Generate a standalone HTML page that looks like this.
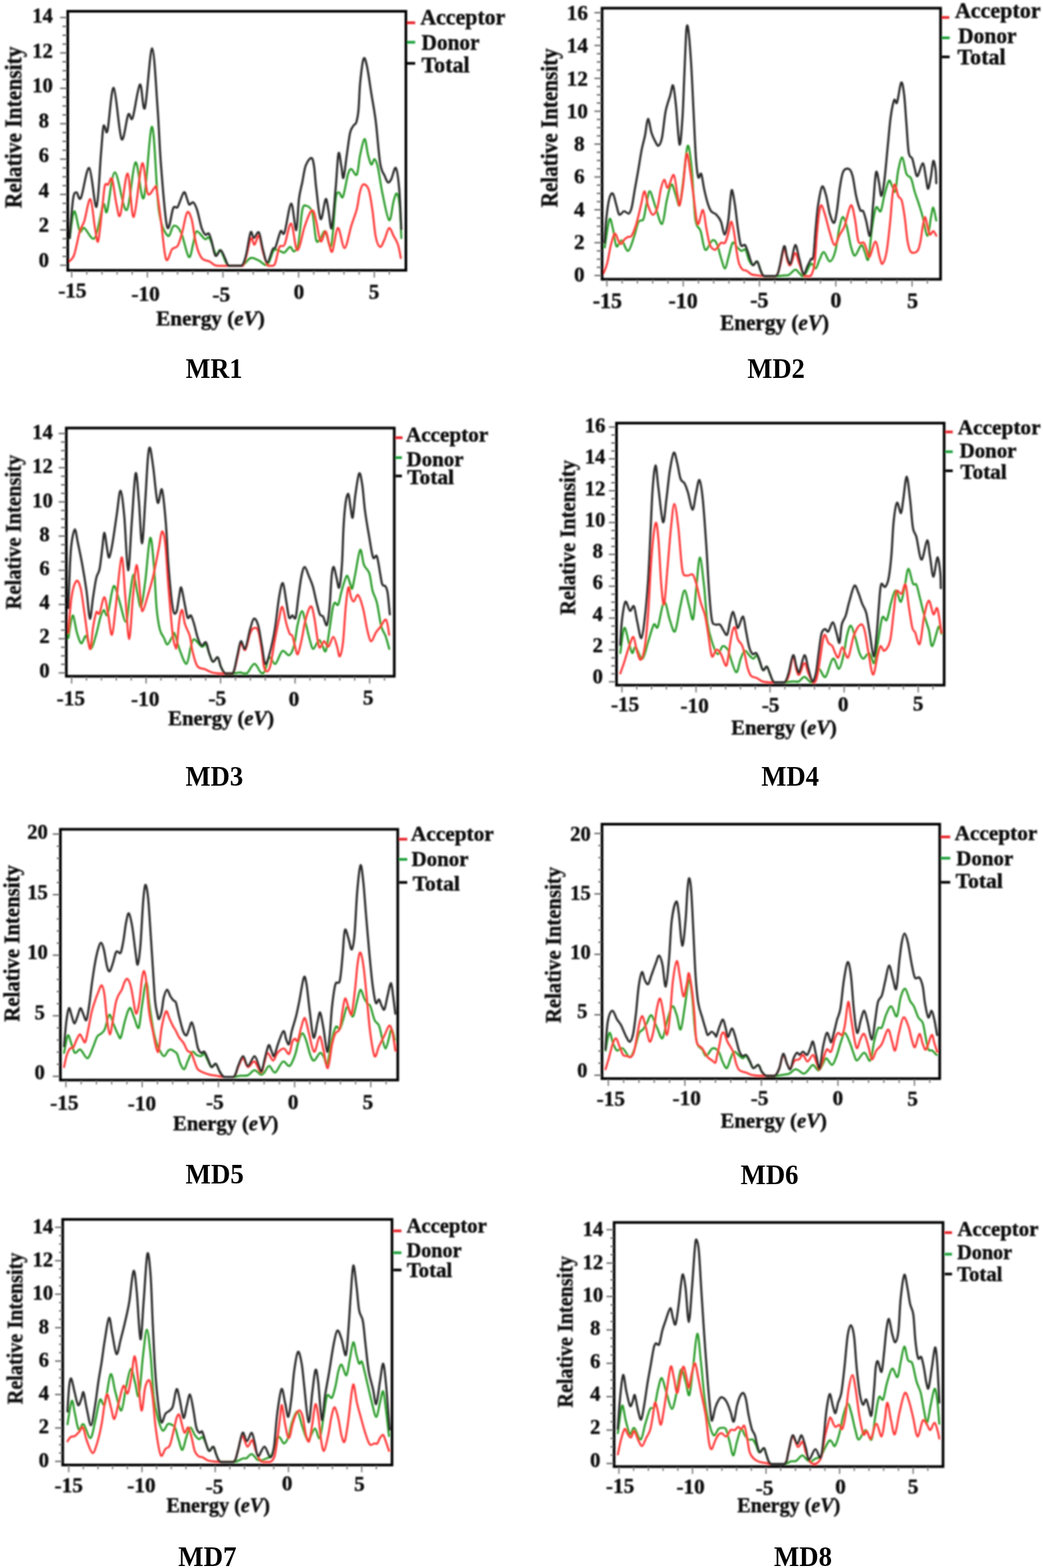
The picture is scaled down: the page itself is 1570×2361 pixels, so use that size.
<!DOCTYPE html>
<html><head><meta charset="utf-8"><title>DOS plots</title>
<style>
html,body{margin:0;padding:0;background:#fff;}
body{width:1570px;height:2361px;overflow:hidden;}
svg{display:block;}
text{font-family:"Liberation Serif","Times New Roman",serif;font-weight:bold;fill:#111;stroke:#111;stroke-width:0.6px;}
text.cap{fill:#000;stroke:none;}
</style></head><body>
<svg width="1570" height="2361" viewBox="0 0 1570 2361">
<defs><filter id="soft" x="-5%" y="-5%" width="110%" height="110%"><feGaussianBlur stdDeviation="1.0"/></filter></defs>
<rect width="1570" height="2361" fill="#fff"/>
<g filter="url(#soft)"><path d="M105.0,358.4 C106.1,351.7 109.2,319.9 111.7,318.2 C114.2,316.5 117.6,344.1 120.1,348.3 C122.6,352.5 123.0,341.6 126.8,343.3 C130.6,345.0 137.9,364.3 142.7,358.4 C147.4,352.5 152.2,314.8 155.3,308.1 C158.4,301.4 158.2,326.3 161.1,318.2 C164.0,310.1 168.0,259.9 172.9,259.6 C177.8,259.3 185.3,319.0 190.5,316.5 C195.7,314.0 199.6,247.6 203.9,244.5 C208.2,241.4 212.2,307.0 216.4,298.1 C220.6,289.2 225.2,187.8 229.0,190.9 C232.8,194.0 235.1,289.1 239.0,316.5 C242.9,343.9 248.6,351.1 252.4,355.0 C256.2,358.9 258.2,340.8 261.6,340.0 C265.0,339.2 268.7,342.2 272.5,350.0 C276.3,357.8 281.1,384.1 284.2,386.9 C287.3,389.7 288.9,373.2 290.9,366.8 C292.8,360.4 293.0,349.4 295.9,348.3 C298.8,347.2 305.3,358.3 308.5,360.0 C311.7,361.7 312.4,354.5 315.2,358.4 C318.0,362.3 322.5,380.4 325.3,383.5 C328.1,386.6 328.9,374.0 332.0,376.8 C335.1,379.6 338.4,396.3 343.7,400.2 L345.9,400.2 L348.3,400.2 L350.9,400.2 L353.6,400.2 L356.4,400.2 L359.0,400.2 L361.6,400.2 L363.8,400.2 C369.4,398.2 373.0,389.9 377.2,388.5 C381.4,387.1 384.7,390.2 388.9,391.9 L390.5,392.8 L392.2,394.0 L393.9,395.4 L395.7,396.8 L397.4,398.0 L399.1,398.9 L400.8,399.1 L402.3,398.6 C406.2,396.1 409.0,380.2 412.4,376.8 C415.8,373.4 419.8,377.9 422.4,378.5 C425.0,379.1 425.9,381.3 428.3,380.2 C430.7,379.1 434.2,372.1 436.6,371.8 C439.0,371.5 440.4,379.3 442.5,378.5 C444.6,377.7 447.1,377.1 449.2,366.8 C451.3,356.5 453.1,326.0 455.0,316.5 C456.9,307.0 458.4,309.2 460.9,309.8 C463.4,310.4 467.6,311.2 470.1,319.9 C472.6,328.5 473.9,355.3 476.0,361.7 C478.1,368.1 480.5,360.6 482.7,358.4 C484.9,356.2 486.8,346.4 489.4,348.3 C492.0,350.2 496.0,378.2 498.6,370.1 C501.2,362.0 503.4,313.2 505.3,299.8 C507.2,286.4 508.5,290.3 510.3,289.7 C512.1,289.1 514.0,300.9 516.2,296.4 C518.4,291.9 521.6,269.9 523.7,262.9 C525.8,255.9 526.6,254.5 528.8,254.5 C531.0,254.5 534.9,266.5 537.1,262.9 C539.3,259.3 540.2,241.7 542.2,232.8 C544.2,223.9 547.0,209.3 548.9,209.3 C550.8,209.3 552.2,226.4 553.9,232.8 C555.6,239.2 557.2,246.7 558.9,247.8 C560.6,248.9 562.2,238.7 563.9,239.5 C565.6,240.3 567.0,244.2 569.0,252.9 C571.0,261.6 572.9,278.3 575.7,291.4 C578.5,304.5 582.9,329.7 585.7,331.6 C588.5,333.6 590.5,309.8 592.4,303.1 C594.3,296.4 595.9,290.3 597.4,291.4 C598.9,292.5 600.5,298.6 601.6,309.8 C602.7,321.0 603.7,350.3 604.1,358.4" fill="none" stroke="#259a25" stroke-width="3.0" stroke-linejoin="round" stroke-linecap="round"/>
<path d="M104.2,393.6 C105.5,391.9 109.1,391.1 111.7,383.5 C114.3,375.9 117.6,356.7 120.1,348.3 C122.6,339.9 124.1,341.4 126.8,333.3 C129.4,325.2 133.3,298.4 136.0,299.8 C138.7,301.2 140.8,331.0 142.7,341.6 C144.6,352.2 145.9,367.6 147.7,363.4 C149.5,359.2 151.9,330.4 153.6,316.5 C155.3,302.6 156.3,286.1 157.8,279.7 C159.3,273.3 161.0,279.7 162.8,278.0 C164.6,276.3 166.6,264.6 168.7,269.6 C170.8,274.6 173.3,299.2 175.4,308.1 C177.5,317.0 178.4,331.0 181.2,323.2 C184.0,315.4 188.8,260.6 192.1,261.2 C195.4,261.8 197.7,329.1 201.3,326.6 C204.9,324.1 210.4,252.1 213.9,246.2 C217.4,240.3 219.2,285.3 222.3,291.4 C225.4,297.5 230.1,284.1 232.3,283.0 C234.5,281.9 234.0,276.3 235.7,284.7 C237.4,293.1 240.0,315.7 242.4,333.3 C244.8,350.9 247.1,383.2 249.9,390.2 C252.7,397.2 256.2,378.5 259.1,375.1 C262.0,371.8 265.0,374.3 267.5,370.1 C270.0,365.9 271.8,358.4 274.2,350.0 C276.6,341.6 279.3,323.2 281.7,319.9 C284.1,316.5 286.4,323.5 288.4,329.9 C290.3,336.3 291.7,350.3 293.4,358.4 C295.1,366.5 296.5,373.2 298.5,378.5 C300.5,383.8 302.4,387.7 305.2,390.2 C308.0,392.7 312.1,392.1 315.2,393.6 C318.3,395.1 320.5,398.3 323.6,399.4 L324.8,399.7 L325.9,400.0 L327.2,400.1 L328.4,400.2 L329.6,400.2 L330.9,400.2 L332.3,400.2 L333.6,400.2 L334.9,400.2 L336.2,400.2 L337.5,400.2 L338.9,400.2 L340.3,400.2 L341.8,400.2 L343.5,400.2 L345.4,400.2 L347.6,400.2 L350.0,400.2 L352.7,400.2 L355.5,400.2 L358.2,400.2 L360.9,400.2 L363.3,400.2 L365.5,400.2 C370.8,393.5 374.3,365.3 377.2,360.0 C380.1,354.7 380.9,369.2 383.0,368.4 C385.1,367.6 387.6,353.3 389.7,355.0 C391.8,356.7 393.5,371.2 395.6,378.5 C397.7,385.8 400.4,395.0 402.3,398.6 L403.0,399.7 L403.6,400.2 L404.2,400.2 L404.8,400.2 L405.4,400.2 L406.0,400.2 L406.6,400.2 L407.3,400.2 L408.1,400.2 L408.9,400.2 L409.7,400.2 L410.5,400.2 L411.4,399.9 L412.3,399.4 L413.2,398.4 L414.0,396.9 C416.2,392.2 418.3,376.6 420.7,371.8 C423.1,367.1 425.4,374.3 428.3,368.4 C431.2,362.5 435.1,335.2 438.3,336.6 C441.5,338.0 444.1,376.0 447.5,376.8 C450.9,377.6 455.2,351.1 458.4,341.6 C461.6,332.1 464.6,323.8 466.8,319.9 C469.0,316.0 470.3,316.0 471.8,318.2 C473.3,320.4 474.2,325.8 476.0,333.3 C477.8,340.8 480.3,360.9 482.7,363.4 C485.1,365.9 488.1,347.7 490.2,348.3 C492.3,348.9 493.6,361.8 495.3,366.8 C497.0,371.8 498.1,382.4 500.3,378.5 C502.5,374.6 505.6,344.1 508.7,343.3 C511.8,342.5 515.4,374.1 518.7,373.5 C522.1,372.9 525.7,349.8 528.8,340.0 C531.9,330.2 535.0,322.9 537.1,314.8 C539.2,306.7 539.8,297.5 541.3,291.4 C542.8,285.3 544.1,279.1 546.3,278.0 C548.5,276.9 552.3,278.3 554.7,284.7 C557.1,291.1 558.8,304.5 560.6,316.5 C562.4,328.5 563.7,347.5 565.6,356.7 C567.5,365.9 570.1,371.2 572.3,371.8 C574.5,372.4 576.8,364.8 579.0,360.0 C581.2,355.2 583.5,344.1 585.7,343.3 C587.9,342.5 590.2,350.8 592.4,355.0 C594.6,359.2 597.3,362.8 599.1,368.4 C600.9,374.0 602.6,385.1 603.3,388.5" fill="none" stroke="#ff3434" stroke-width="3.0" stroke-linejoin="round" stroke-linecap="round"/>
<path d="M105.0,358.4 C105.8,348.6 108.3,311.2 110.0,299.8 C111.7,288.4 113.1,290.0 115.1,289.7 C117.1,289.4 118.6,304.1 121.8,298.0 C125.0,291.9 130.4,250.7 134.3,252.9 C138.2,255.2 142.3,314.9 145.2,311.5 C148.1,308.1 150.2,252.6 151.9,232.8 C153.6,213.0 154.3,199.6 155.3,192.6 C156.3,185.6 156.7,190.3 157.8,190.9 C158.9,191.5 159.8,205.7 162.0,195.9 C164.2,186.1 167.7,130.1 171.2,132.3 C174.7,134.5 179.3,202.6 182.9,209.3 C186.5,216.0 190.2,177.8 193.0,172.5 C195.8,167.2 196.8,185.1 199.7,177.5 C202.6,169.9 207.5,129.7 210.6,127.2 C213.7,124.7 215.0,171.5 218.1,162.4 C221.2,153.3 225.8,72.2 229.0,72.8 C232.2,73.4 235.2,136.4 237.4,165.8 C239.6,195.2 240.0,220.2 242.4,249.5 C244.8,278.8 248.5,331.0 251.6,341.6 C254.7,352.2 258.2,318.2 260.8,313.2 C263.4,308.2 264.9,315.4 267.5,311.5 C270.1,307.6 274.3,291.6 276.7,289.7 C279.1,287.8 280.3,296.7 281.7,299.8 C283.1,302.9 283.5,307.3 285.0,308.1 C286.5,308.9 288.9,303.4 290.9,304.8 C292.9,306.2 294.7,310.1 296.8,316.5 C298.9,322.9 301.4,337.2 303.5,343.3 C305.6,349.4 307.5,352.0 309.3,353.4 C311.1,354.8 312.8,350.0 314.4,351.7 C315.9,353.4 316.9,357.8 318.6,363.4 C320.3,369.0 322.2,383.0 324.4,385.2 C326.6,387.4 329.8,376.5 332.0,376.8 C334.2,377.1 335.9,383.0 337.8,386.9 C339.8,390.8 341.6,398.0 343.7,400.2 L344.5,400.2 L345.2,400.2 L345.9,400.2 L346.6,400.2 L347.4,400.2 L348.2,400.2 L349.2,400.2 L350.4,400.2 L351.8,400.2 L353.4,400.2 L355.2,400.2 L357.1,400.2 L359.0,400.2 L360.8,400.2 L362.4,400.2 L363.8,400.2 C367.2,397.4 368.3,391.9 370.5,383.5 C372.7,375.1 375.2,354.2 377.2,350.0 C379.1,345.8 380.1,358.4 382.2,358.4 C384.3,358.4 387.5,347.2 389.7,350.0 C391.9,352.8 393.5,367.6 395.6,375.1 C397.7,382.6 399.8,395.2 402.3,395.2 C404.8,395.2 408.6,379.0 410.7,375.1 C412.8,371.2 412.9,376.3 414.9,371.8 C416.8,367.3 420.2,351.9 422.4,348.3 C424.6,344.7 425.6,357.0 428.3,350.0 C431.0,343.0 435.4,307.1 438.3,306.5 C441.2,305.9 443.9,347.8 445.9,346.7 C447.8,345.6 448.5,311.8 450.0,299.8 C451.5,287.8 453.3,283.0 455.0,274.6 C456.7,266.2 457.9,255.6 460.1,249.5 C462.4,243.4 466.4,237.8 468.5,237.8 C470.6,237.8 471.4,242.0 472.6,249.5 C473.9,257.0 474.3,269.6 476.0,283.0 C477.7,296.4 480.3,327.1 482.7,329.9 C485.1,332.7 488.2,302.0 490.2,299.8 C492.1,297.6 492.9,309.2 494.4,316.5 C495.9,323.8 497.6,348.9 499.4,343.3 C501.2,337.7 503.6,301.7 505.3,283.0 C507.0,264.3 508.1,236.7 509.5,231.1 C510.9,225.5 512.5,243.4 513.7,249.5 C515.0,255.6 515.6,270.7 517.0,267.9 C518.4,265.1 520.4,244.2 522.1,232.8 C523.8,221.4 525.4,206.6 527.1,199.3 C528.8,192.0 530.6,191.7 532.1,189.2 C533.6,186.7 535.0,188.1 536.3,184.2 C537.5,180.3 538.6,175.9 539.6,165.8 C540.6,155.8 540.9,136.8 542.2,123.9 C543.5,111.1 545.5,92.9 547.2,88.7 C548.9,84.5 550.2,90.2 552.2,98.8 C554.2,107.4 556.7,126.6 558.9,140.6 C561.1,154.5 563.4,164.9 565.6,182.5 C567.8,200.1 570.1,232.5 572.3,246.2 C574.5,259.9 577.0,259.9 579.0,264.6 C581.0,269.3 582.3,273.8 584.0,274.6 C585.7,275.4 587.0,273.2 589.0,269.6 C591.0,266.0 593.8,250.7 595.8,252.9 C597.8,255.1 599.4,267.6 600.8,283.0 C602.2,298.4 603.5,334.7 604.1,345.0" fill="none" stroke="#2a2a2a" stroke-width="3.2" stroke-linejoin="round" stroke-linecap="round"/>
<rect x="102.0" y="17.0" width="509.0" height="390.0" fill="none" stroke="#000" stroke-width="4.0"/>
<line x1="90.5" y1="399.4" x2="100.5" y2="399.4" stroke="#6a6a6a" stroke-width="2.2"/>
<line x1="94.0" y1="386.1" x2="100.5" y2="386.1" stroke="#6a6a6a" stroke-width="2.2"/>
<line x1="94.0" y1="372.8" x2="100.5" y2="372.8" stroke="#6a6a6a" stroke-width="2.2"/>
<line x1="94.0" y1="359.4" x2="100.5" y2="359.4" stroke="#6a6a6a" stroke-width="2.2"/>
<line x1="90.5" y1="346.1" x2="100.5" y2="346.1" stroke="#6a6a6a" stroke-width="2.2"/>
<line x1="94.0" y1="332.8" x2="100.5" y2="332.8" stroke="#6a6a6a" stroke-width="2.2"/>
<line x1="94.0" y1="319.5" x2="100.5" y2="319.5" stroke="#6a6a6a" stroke-width="2.2"/>
<line x1="94.0" y1="306.2" x2="100.5" y2="306.2" stroke="#6a6a6a" stroke-width="2.2"/>
<line x1="90.5" y1="292.8" x2="100.5" y2="292.8" stroke="#6a6a6a" stroke-width="2.2"/>
<line x1="94.0" y1="279.5" x2="100.5" y2="279.5" stroke="#6a6a6a" stroke-width="2.2"/>
<line x1="94.0" y1="266.2" x2="100.5" y2="266.2" stroke="#6a6a6a" stroke-width="2.2"/>
<line x1="94.0" y1="252.9" x2="100.5" y2="252.9" stroke="#6a6a6a" stroke-width="2.2"/>
<line x1="90.5" y1="239.6" x2="100.5" y2="239.6" stroke="#6a6a6a" stroke-width="2.2"/>
<line x1="94.0" y1="226.2" x2="100.5" y2="226.2" stroke="#6a6a6a" stroke-width="2.2"/>
<line x1="94.0" y1="212.9" x2="100.5" y2="212.9" stroke="#6a6a6a" stroke-width="2.2"/>
<line x1="94.0" y1="199.6" x2="100.5" y2="199.6" stroke="#6a6a6a" stroke-width="2.2"/>
<line x1="90.5" y1="186.3" x2="100.5" y2="186.3" stroke="#6a6a6a" stroke-width="2.2"/>
<line x1="94.0" y1="173.0" x2="100.5" y2="173.0" stroke="#6a6a6a" stroke-width="2.2"/>
<line x1="94.0" y1="159.6" x2="100.5" y2="159.6" stroke="#6a6a6a" stroke-width="2.2"/>
<line x1="94.0" y1="146.3" x2="100.5" y2="146.3" stroke="#6a6a6a" stroke-width="2.2"/>
<line x1="90.5" y1="133.0" x2="100.5" y2="133.0" stroke="#6a6a6a" stroke-width="2.2"/>
<line x1="94.0" y1="119.7" x2="100.5" y2="119.7" stroke="#6a6a6a" stroke-width="2.2"/>
<line x1="94.0" y1="106.4" x2="100.5" y2="106.4" stroke="#6a6a6a" stroke-width="2.2"/>
<line x1="94.0" y1="93.0" x2="100.5" y2="93.0" stroke="#6a6a6a" stroke-width="2.2"/>
<line x1="90.5" y1="79.7" x2="100.5" y2="79.7" stroke="#6a6a6a" stroke-width="2.2"/>
<line x1="94.0" y1="66.4" x2="100.5" y2="66.4" stroke="#6a6a6a" stroke-width="2.2"/>
<line x1="94.0" y1="53.1" x2="100.5" y2="53.1" stroke="#6a6a6a" stroke-width="2.2"/>
<line x1="94.0" y1="39.8" x2="100.5" y2="39.8" stroke="#6a6a6a" stroke-width="2.2"/>
<line x1="90.5" y1="26.4" x2="100.5" y2="26.4" stroke="#6a6a6a" stroke-width="2.2"/>
<text x="66.0" y="401.8" text-anchor="middle" font-size="31.0">0</text>
<text x="66.0" y="349.3" text-anchor="middle" font-size="31.0">2</text>
<text x="66.0" y="296.7" text-anchor="middle" font-size="31.0">4</text>
<text x="66.0" y="244.2" text-anchor="middle" font-size="31.0">6</text>
<text x="66.0" y="191.7" text-anchor="middle" font-size="31.0">8</text>
<text x="64.0" y="139.2" text-anchor="middle" font-size="31.0">10</text>
<text x="64.0" y="86.7" text-anchor="middle" font-size="31.0">12</text>
<text x="64.0" y="34.1" text-anchor="middle" font-size="31.0">14</text>
<line x1="107.9" y1="408.5" x2="107.9" y2="418.0" stroke="#777" stroke-width="2"/>
<line x1="130.7" y1="408.5" x2="130.7" y2="413.5" stroke="#777" stroke-width="2"/>
<line x1="153.5" y1="408.5" x2="153.5" y2="413.5" stroke="#777" stroke-width="2"/>
<line x1="176.3" y1="408.5" x2="176.3" y2="413.5" stroke="#777" stroke-width="2"/>
<line x1="199.0" y1="408.5" x2="199.0" y2="413.5" stroke="#777" stroke-width="2"/>
<line x1="221.8" y1="408.5" x2="221.8" y2="418.0" stroke="#777" stroke-width="2"/>
<line x1="244.6" y1="408.5" x2="244.6" y2="413.5" stroke="#777" stroke-width="2"/>
<line x1="267.3" y1="408.5" x2="267.3" y2="413.5" stroke="#777" stroke-width="2"/>
<line x1="290.1" y1="408.5" x2="290.1" y2="413.5" stroke="#777" stroke-width="2"/>
<line x1="312.9" y1="408.5" x2="312.9" y2="413.5" stroke="#777" stroke-width="2"/>
<line x1="335.6" y1="408.5" x2="335.6" y2="418.0" stroke="#777" stroke-width="2"/>
<line x1="358.4" y1="408.5" x2="358.4" y2="413.5" stroke="#777" stroke-width="2"/>
<line x1="381.2" y1="408.5" x2="381.2" y2="413.5" stroke="#777" stroke-width="2"/>
<line x1="404.0" y1="408.5" x2="404.0" y2="413.5" stroke="#777" stroke-width="2"/>
<line x1="426.7" y1="408.5" x2="426.7" y2="413.5" stroke="#777" stroke-width="2"/>
<line x1="449.5" y1="408.5" x2="449.5" y2="418.0" stroke="#777" stroke-width="2"/>
<line x1="472.3" y1="408.5" x2="472.3" y2="413.5" stroke="#777" stroke-width="2"/>
<line x1="495.0" y1="408.5" x2="495.0" y2="413.5" stroke="#777" stroke-width="2"/>
<line x1="517.8" y1="408.5" x2="517.8" y2="413.5" stroke="#777" stroke-width="2"/>
<line x1="540.6" y1="408.5" x2="540.6" y2="413.5" stroke="#777" stroke-width="2"/>
<line x1="563.4" y1="408.5" x2="563.4" y2="418.0" stroke="#777" stroke-width="2"/>
<line x1="586.1" y1="408.5" x2="586.1" y2="413.5" stroke="#777" stroke-width="2"/>
<text x="109.0" y="448.2" text-anchor="middle" font-size="32.0">-15</text>
<text x="219.2" y="453.4" text-anchor="middle" font-size="32.0">-10</text>
<text x="333.1" y="454.4" text-anchor="middle" font-size="32.0">-5</text>
<text x="449.9" y="450.0" text-anchor="middle" font-size="32.0">0</text>
<text x="563.0" y="450.0" text-anchor="middle" font-size="32.0">5</text>
<text x="235.0" y="490.2" font-size="32.0" textLength="163.5" lengthAdjust="spacingAndGlyphs">Energy (<tspan font-style="italic">eV</tspan>)</text>
<text transform="translate(32.2,313.5) rotate(-90)" font-size="35.0" textLength="243.5" lengthAdjust="spacingAndGlyphs">Relative Intensity</text>
<line x1="613.0" y1="34.3" x2="625.0" y2="34.3" stroke="#e8202a" stroke-width="4"/>
<line x1="613.0" y1="63.6" x2="625.0" y2="63.6" stroke="#1aa03a" stroke-width="4"/>
<line x1="613.0" y1="95.4" x2="625.0" y2="95.4" stroke="#000" stroke-width="4"/>
<text x="632.7" y="37.3" font-size="33.0" textLength="128.0" lengthAdjust="spacingAndGlyphs">Acceptor</text>
<text x="634.5" y="75.4" font-size="33.0" textLength="87.2" lengthAdjust="spacingAndGlyphs">Donor</text>
<text x="634.5" y="109.0" font-size="33.0" textLength="72.5" lengthAdjust="spacingAndGlyphs">Total</text>
</g>
<text x="279.5" y="569.4" font-size="42.0" textLength="85.4" lengthAdjust="spacingAndGlyphs" class="cap">MR1</text>
<g filter="url(#soft)"><path d="M910.3,372.6 C911.5,365.6 915.2,335.0 917.3,330.3 C919.3,325.6 920.8,337.6 922.6,344.4 C924.4,351.1 925.7,367.9 927.9,370.8 C930.1,373.7 932.9,360.8 935.8,362.0 C938.7,363.2 942.4,378.7 945.5,377.8 C948.6,376.9 951.7,364.0 954.3,356.7 C956.9,349.4 958.9,338.2 961.3,333.8 C963.6,329.4 966.5,334.4 968.4,330.3 C970.3,326.2 971.2,316.2 972.8,309.2 C974.4,302.2 975.8,288.1 978.0,288.1 C980.2,288.1 982.9,301.0 986.0,309.2 C989.1,317.4 993.6,338.5 996.5,337.3 C999.4,336.1 1001.2,312.1 1003.6,302.1 C1006.0,292.1 1008.3,278.7 1010.6,277.5 C1012.9,276.3 1015.6,289.8 1017.6,295.1 C1019.6,300.4 1021.1,312.7 1022.9,309.2 C1024.7,305.7 1026.2,289.0 1028.2,274.0 C1030.2,259.0 1033.0,222.3 1035.2,219.4 C1037.4,216.5 1039.5,237.9 1041.4,256.4 C1043.3,274.9 1044.5,315.1 1046.7,330.3 C1048.9,345.6 1052.1,340.3 1054.6,347.9 C1057.1,355.5 1058.7,373.8 1061.6,376.1 C1064.5,378.5 1069.3,363.5 1072.2,362.0 C1075.1,360.5 1077.0,362.9 1079.2,367.3 C1081.4,371.7 1083.3,382.2 1085.3,388.4 C1087.3,394.5 1089.5,404.5 1091.4,404.2 C1093.3,403.9 1094.8,393.1 1096.7,386.6 C1098.6,380.2 1100.7,367.8 1102.9,365.5 C1105.1,363.2 1107.7,370.6 1109.9,372.6 C1112.1,374.7 1114.0,377.2 1116.1,377.8 C1118.1,378.4 1120.3,373.8 1122.2,376.1 C1124.1,378.5 1125.7,388.1 1127.5,391.9 C1129.3,395.7 1130.8,398.7 1132.8,399.0 C1134.8,399.3 1137.8,392.2 1139.8,393.7 C1141.8,395.1 1143.3,404.0 1145.1,407.7 C1146.9,411.4 1146.6,414.4 1150.4,415.7 L1152.0,415.7 L1154.1,415.7 L1156.3,415.7 L1158.8,415.7 L1161.2,415.7 L1163.7,415.7 L1166.0,415.7 L1168.0,415.7 C1173.0,415.6 1177.1,415.1 1180.3,414.8 C1183.5,414.5 1184.6,415.4 1187.4,413.9 C1190.2,412.4 1194.4,406.4 1197.0,406.0 C1199.6,405.6 1201.0,409.7 1203.2,411.3 L1204.0,412.0 L1204.8,413.0 L1205.6,414.0 L1206.4,415.0 L1207.3,415.7 L1208.2,415.7 L1209.1,415.7 L1210.2,415.7 C1213.1,413.3 1217.9,399.1 1220.8,397.2 C1223.7,395.3 1225.6,405.4 1227.8,404.2 C1230.0,403.0 1231.9,394.2 1234.0,390.1 C1236.1,386.0 1237.7,379.0 1240.2,379.6 C1242.7,380.2 1246.2,393.7 1249.0,393.7 C1251.8,393.7 1254.6,387.8 1257.0,379.6 C1259.4,371.4 1261.3,353.2 1263.2,344.4 C1265.1,335.6 1266.6,327.4 1268.5,326.8 C1270.4,326.2 1272.5,333.6 1274.6,340.9 C1276.6,348.2 1278.7,363.5 1280.8,370.8 C1282.9,378.1 1284.4,385.2 1287.0,384.9 C1289.6,384.6 1294.1,369.9 1296.6,369.0 C1299.1,368.1 1300.1,376.1 1301.9,379.6 C1303.7,383.1 1305.4,396.0 1307.2,390.1 C1309.0,384.2 1310.6,357.3 1312.5,344.4 C1314.4,331.5 1316.4,317.1 1318.6,312.7 C1320.8,308.3 1323.6,320.9 1325.7,318.0 C1327.8,315.1 1329.0,302.7 1331.0,295.1 C1333.0,287.5 1336.0,274.6 1338.0,272.2 C1340.0,269.8 1341.7,278.4 1343.3,281.0 C1344.9,283.6 1346.2,292.2 1347.7,288.1 C1349.2,284.0 1350.3,264.9 1352.1,256.4 C1353.8,247.9 1356.2,236.1 1358.2,237.0 C1360.2,237.9 1362.2,256.4 1364.4,261.7 C1366.6,267.0 1369.4,264.3 1371.4,268.7 C1373.5,273.1 1374.6,281.4 1376.7,288.1 C1378.8,294.9 1381.8,302.8 1383.8,309.2 C1385.8,315.6 1387.0,319.2 1389.0,326.8 C1391.0,334.4 1394.0,355.0 1396.1,355.0 C1398.2,355.0 1399.9,333.9 1401.4,326.8 C1402.9,319.8 1403.6,311.8 1404.9,312.7 C1406.2,313.6 1408.6,328.9 1409.3,332.1" fill="none" stroke="#259a25" stroke-width="3.0" stroke-linejoin="round" stroke-linecap="round"/>
<path d="M908.5,411.3 C909.4,408.9 912.0,403.9 913.8,397.2 C915.6,390.4 917.3,378.1 919.1,370.8 C920.9,363.5 923.1,356.1 924.4,353.2 C925.7,350.3 925.8,351.4 927.0,353.2 C928.2,354.9 930.1,361.3 931.4,363.7 C932.7,366.1 933.4,367.9 934.9,367.3 C936.4,366.7 938.4,362.0 940.2,360.2 C942.0,358.4 943.7,357.6 945.5,356.7 C947.3,355.8 948.8,358.2 950.8,355.0 C952.8,351.8 955.5,344.9 957.8,337.3 C960.1,329.7 962.8,317.4 964.8,309.2 C966.8,301.0 968.3,288.1 970.1,288.1 C971.9,288.1 973.4,303.3 975.4,309.2 C977.4,315.1 980.0,322.7 982.4,323.3 C984.8,323.9 987.4,319.2 989.5,312.7 C991.6,306.2 993.0,291.5 994.8,284.5 C996.5,277.5 998.2,270.8 1000.0,270.5 C1001.8,270.2 1002.9,284.0 1005.3,282.8 C1007.6,281.6 1011.8,261.9 1014.1,263.4 C1016.5,264.9 1017.9,284.0 1019.4,291.6 C1020.9,299.2 1021.4,311.2 1022.9,309.2 C1024.4,307.1 1026.4,292.2 1028.2,279.3 C1030.0,266.4 1031.7,235.6 1033.5,231.8 C1035.3,228.0 1037.0,245.8 1038.8,256.4 C1040.5,266.9 1042.1,281.6 1044.0,295.1 C1045.9,308.6 1047.9,333.8 1050.2,337.3 C1052.5,340.8 1055.9,315.0 1058.1,316.2 C1060.3,317.4 1061.6,335.6 1063.4,344.4 C1065.2,353.2 1066.7,363.7 1068.7,369.0 C1070.8,374.3 1073.8,375.5 1075.7,376.1 C1077.6,376.7 1078.4,374.4 1080.0,372.6 C1081.6,370.8 1083.4,366.7 1085.3,365.5 C1087.2,364.3 1089.5,368.1 1091.4,365.5 C1093.3,362.9 1095.1,355.0 1096.7,349.7 C1098.3,344.4 1099.6,333.2 1101.1,333.8 C1102.6,334.4 1104.2,345.6 1105.5,353.2 C1106.8,360.8 1107.8,372.3 1109.0,379.6 C1110.2,386.9 1111.1,392.8 1112.6,397.2 C1114.1,401.6 1115.9,404.2 1117.8,406.0 C1119.7,407.8 1121.8,406.5 1124.0,407.7 C1126.2,408.9 1128.1,411.8 1131.0,413.0 C1133.9,414.2 1138.4,414.4 1141.6,414.8 C1144.8,415.2 1146.0,415.6 1150.4,415.7 L1152.3,415.7 L1154.4,415.7 L1156.8,415.7 L1159.3,415.7 L1161.8,415.7 L1164.1,415.7 L1166.2,415.7 L1168.0,415.7 C1172.1,412.6 1173.0,404.1 1175.0,397.2 C1177.0,390.3 1178.5,374.9 1180.3,374.3 C1182.1,373.7 1184.0,389.6 1185.6,393.7 C1187.2,397.8 1188.1,401.1 1190.0,399.0 C1191.9,396.9 1194.8,381.6 1197.0,381.3 C1199.2,381.0 1201.0,391.6 1203.2,397.2 C1205.4,402.8 1208.2,411.7 1210.2,414.8 L1210.9,415.7 L1211.6,415.7 L1212.3,415.7 L1213.0,415.7 L1213.6,415.7 L1214.2,415.7 L1214.8,415.7 L1215.5,415.7 L1216.2,415.7 L1216.8,415.7 L1217.5,415.7 L1218.1,415.7 L1218.8,415.7 L1219.5,415.7 L1220.1,415.7 L1220.8,414.8 C1222.6,411.7 1224.6,407.5 1226.1,397.2 C1227.6,386.9 1228.4,366.1 1229.6,353.2 C1230.8,340.3 1231.9,327.0 1233.1,319.7 C1234.3,312.4 1235.1,308.6 1236.6,309.2 C1238.1,309.8 1239.8,316.6 1241.9,323.3 C1244.0,330.1 1246.6,342.1 1249.0,349.7 C1251.4,357.3 1253.7,368.4 1256.2,369.0 C1258.7,369.6 1261.6,357.9 1264.1,353.2 C1266.6,348.5 1268.3,348.2 1271.1,340.9 C1273.9,333.6 1278.1,311.0 1280.8,309.2 C1283.5,307.4 1285.1,321.2 1287.0,330.3 C1288.9,339.4 1290.0,357.8 1292.2,363.7 C1294.4,369.6 1298.1,363.4 1300.2,365.5 C1302.3,367.6 1303.1,372.6 1304.6,376.1 C1306.1,379.6 1306.8,388.7 1309.0,386.6 C1311.2,384.5 1315.3,363.7 1317.8,363.7 C1320.3,363.7 1322.2,381.0 1323.9,386.6 C1325.7,392.2 1326.5,398.4 1328.3,397.2 C1330.1,396.0 1332.6,389.9 1334.5,379.6 C1336.4,369.3 1338.3,349.7 1339.8,335.6 C1341.3,321.5 1342.1,304.8 1343.3,295.1 C1344.5,285.4 1345.3,277.5 1346.8,277.5 C1348.3,277.5 1350.3,291.0 1352.1,295.1 C1353.9,299.2 1355.8,296.8 1357.4,302.1 C1359.0,307.4 1360.3,316.5 1361.8,326.8 C1363.3,337.1 1364.6,354.9 1366.2,363.7 C1367.8,372.5 1368.9,377.2 1371.4,379.6 C1373.9,382.0 1378.8,380.5 1381.1,377.8 C1383.4,375.1 1384.2,369.9 1385.5,363.7 C1386.8,357.5 1387.8,347.0 1389.0,340.9 C1390.2,334.8 1391.4,326.8 1392.6,326.8 C1393.8,326.8 1394.9,336.5 1396.1,340.9 C1397.3,345.3 1398.1,352.0 1399.6,353.2 C1401.1,354.4 1403.3,347.6 1404.9,347.9 C1406.5,348.2 1408.6,353.8 1409.3,355.0" fill="none" stroke="#ff3434" stroke-width="3.0" stroke-linejoin="round" stroke-linecap="round"/>
<path d="M910.3,365.5 C910.7,359.1 911.7,337.9 912.9,326.8 C914.1,315.7 915.7,304.5 917.3,298.6 C918.9,292.7 920.8,289.8 922.6,291.6 C924.4,293.4 926.3,303.9 927.9,309.2 C929.5,314.5 930.4,321.8 932.3,323.3 C934.2,324.8 936.9,318.3 939.3,318.0 C941.6,317.7 944.5,322.4 946.4,321.5 C948.3,320.6 949.2,319.1 950.8,312.7 C952.4,306.2 954.2,292.8 956.0,282.8 C957.8,272.8 959.7,262.3 961.3,252.9 C962.9,243.5 964.1,234.7 965.7,226.5 C967.3,218.3 969.4,211.5 971.0,203.6 C972.6,195.7 973.8,179.6 975.4,179.0 C977.0,178.4 978.9,194.5 980.7,200.1 C982.5,205.7 984.2,209.2 986.0,212.4 C987.8,215.6 989.5,220.3 991.2,219.4 C993.0,218.5 994.7,215.6 996.5,207.1 C998.3,198.6 999.8,178.9 1001.8,168.4 C1003.8,157.9 1006.9,150.4 1008.8,143.8 C1010.7,137.2 1011.7,126.2 1013.2,128.8 C1014.7,131.4 1016.0,144.8 1017.6,159.6 C1019.2,174.4 1021.3,214.8 1022.9,217.7 C1024.5,220.6 1026.1,194.2 1027.3,177.2 C1028.5,160.2 1029.1,136.1 1030.0,115.6 C1030.9,95.1 1031.9,66.9 1032.6,54.0 C1033.3,41.1 1033.7,38.5 1034.4,38.2 C1035.1,37.9 1036.0,42.2 1037.0,52.2 C1038.0,62.2 1039.3,78.6 1040.5,98.0 C1041.7,117.4 1042.8,144.9 1044.0,168.4 C1045.2,191.9 1046.4,222.4 1047.6,238.8 C1048.8,255.2 1049.8,263.2 1051.1,267.0 C1052.4,270.8 1054.0,258.8 1055.5,261.7 C1057.0,264.6 1058.3,277.2 1059.9,284.5 C1061.5,291.8 1063.5,300.1 1065.2,305.7 C1067.0,311.3 1068.2,315.1 1070.4,318.0 C1072.6,320.9 1075.9,320.7 1078.4,323.3 C1080.9,325.9 1083.3,328.8 1085.3,333.8 C1087.3,338.8 1088.8,352.9 1090.6,353.2 C1092.3,353.5 1094.3,344.4 1095.8,335.6 C1097.3,326.8 1098.4,308.6 1099.4,300.4 C1100.4,292.2 1100.8,284.8 1102.0,286.3 C1103.2,287.8 1104.9,299.5 1106.4,309.2 C1107.9,318.9 1109.3,334.4 1110.8,344.4 C1112.3,354.4 1113.4,364.9 1115.2,369.0 C1117.0,373.1 1119.6,367.2 1121.4,369.0 C1123.2,370.8 1123.9,374.6 1125.8,379.6 C1127.7,384.6 1130.5,396.6 1132.8,399.0 C1135.1,401.4 1137.8,392.2 1139.8,393.7 C1141.8,395.1 1143.3,404.0 1145.1,407.7 C1146.9,411.4 1146.6,414.4 1150.4,415.7 L1152.1,415.7 L1154.2,415.7 L1156.6,415.7 L1159.2,415.7 L1161.8,415.7 L1164.2,415.7 L1166.3,415.7 L1168.0,415.7 C1171.8,413.5 1171.2,410.0 1173.3,402.5 C1175.3,395.0 1178.4,373.4 1180.3,370.8 C1182.2,368.2 1183.1,382.2 1184.7,386.6 C1186.3,391.0 1188.0,400.1 1190.0,397.2 C1192.0,394.3 1194.8,370.2 1197.0,369.0 C1199.2,367.8 1201.1,382.8 1203.2,390.1 C1205.3,397.4 1207.4,411.2 1209.4,413.0 C1211.5,414.8 1213.6,404.5 1215.5,400.7 C1217.4,396.9 1219.3,392.5 1220.8,390.1 C1222.3,387.8 1223.1,394.2 1224.3,386.6 C1225.5,379.0 1226.6,357.3 1227.8,344.4 C1229.0,331.5 1229.8,319.8 1231.4,309.2 C1233.0,298.6 1235.5,283.4 1237.5,281.0 C1239.5,278.6 1241.8,288.4 1243.7,295.1 C1245.6,301.9 1247.1,314.8 1249.0,321.5 C1250.9,328.2 1253.5,336.2 1255.3,335.6 C1257.1,335.0 1258.2,326.8 1259.7,318.0 C1261.2,309.2 1262.5,292.8 1264.1,282.8 C1265.7,272.8 1267.1,262.8 1269.4,258.1 C1271.8,253.4 1275.9,253.4 1278.2,254.6 C1280.5,255.8 1281.7,258.4 1283.4,265.2 C1285.2,271.9 1286.8,286.6 1288.7,295.1 C1290.6,303.6 1293.1,312.4 1294.9,316.2 C1296.7,320.0 1297.8,315.4 1299.3,318.0 C1300.8,320.6 1302.0,325.9 1303.7,332.1 C1305.5,338.3 1308.0,358.8 1309.8,355.0 C1311.5,351.2 1312.7,325.1 1314.2,309.2 C1315.7,293.3 1317.1,265.8 1318.6,259.9 C1320.1,254.0 1321.7,268.1 1323.0,274.0 C1324.3,279.9 1325.3,295.1 1326.6,295.1 C1327.9,295.1 1329.4,286.3 1331.0,274.0 C1332.6,261.7 1334.6,237.3 1336.2,221.2 C1337.8,205.1 1339.0,188.9 1340.6,177.2 C1342.2,165.5 1344.3,154.6 1345.9,150.8 C1347.5,147.0 1348.5,158.7 1350.3,154.3 C1352.1,149.9 1354.7,126.5 1356.5,124.4 C1358.3,122.4 1359.6,131.7 1360.9,142.0 C1362.2,152.3 1363.2,171.3 1364.4,186.0 C1365.6,200.7 1366.4,221.2 1367.9,230.0 C1369.4,238.8 1371.7,235.0 1373.2,238.8 C1374.7,242.6 1375.4,248.5 1376.7,252.9 C1378.0,257.3 1379.0,266.4 1381.1,265.2 C1383.1,264.0 1387.0,245.8 1389.0,245.8 C1391.0,245.8 1392.1,258.8 1393.4,265.2 C1394.7,271.6 1395.7,284.5 1397.0,284.5 C1398.3,284.5 1400.1,272.2 1401.4,265.2 C1402.7,258.2 1403.7,243.8 1404.9,242.3 C1406.1,240.8 1407.7,250.8 1408.4,256.4 C1409.1,262.0 1409.2,272.6 1409.3,275.8" fill="none" stroke="#2a2a2a" stroke-width="3.2" stroke-linejoin="round" stroke-linecap="round"/>
<rect x="906.3" y="12.3" width="509.5" height="408.2" fill="none" stroke="#000" stroke-width="4.0"/>
<line x1="894.8" y1="414.9" x2="904.8" y2="414.9" stroke="#6a6a6a" stroke-width="2.2"/>
<line x1="898.3" y1="402.5" x2="904.8" y2="402.5" stroke="#6a6a6a" stroke-width="2.2"/>
<line x1="898.3" y1="390.2" x2="904.8" y2="390.2" stroke="#6a6a6a" stroke-width="2.2"/>
<line x1="898.3" y1="377.8" x2="904.8" y2="377.8" stroke="#6a6a6a" stroke-width="2.2"/>
<line x1="894.8" y1="365.4" x2="904.8" y2="365.4" stroke="#6a6a6a" stroke-width="2.2"/>
<line x1="898.3" y1="353.0" x2="904.8" y2="353.0" stroke="#6a6a6a" stroke-width="2.2"/>
<line x1="898.3" y1="340.7" x2="904.8" y2="340.7" stroke="#6a6a6a" stroke-width="2.2"/>
<line x1="898.3" y1="328.3" x2="904.8" y2="328.3" stroke="#6a6a6a" stroke-width="2.2"/>
<line x1="894.8" y1="315.9" x2="904.8" y2="315.9" stroke="#6a6a6a" stroke-width="2.2"/>
<line x1="898.3" y1="303.6" x2="904.8" y2="303.6" stroke="#6a6a6a" stroke-width="2.2"/>
<line x1="898.3" y1="291.2" x2="904.8" y2="291.2" stroke="#6a6a6a" stroke-width="2.2"/>
<line x1="898.3" y1="278.8" x2="904.8" y2="278.8" stroke="#6a6a6a" stroke-width="2.2"/>
<line x1="894.8" y1="266.5" x2="904.8" y2="266.5" stroke="#6a6a6a" stroke-width="2.2"/>
<line x1="898.3" y1="254.1" x2="904.8" y2="254.1" stroke="#6a6a6a" stroke-width="2.2"/>
<line x1="898.3" y1="241.7" x2="904.8" y2="241.7" stroke="#6a6a6a" stroke-width="2.2"/>
<line x1="898.3" y1="229.3" x2="904.8" y2="229.3" stroke="#6a6a6a" stroke-width="2.2"/>
<line x1="894.8" y1="217.0" x2="904.8" y2="217.0" stroke="#6a6a6a" stroke-width="2.2"/>
<line x1="898.3" y1="204.6" x2="904.8" y2="204.6" stroke="#6a6a6a" stroke-width="2.2"/>
<line x1="898.3" y1="192.2" x2="904.8" y2="192.2" stroke="#6a6a6a" stroke-width="2.2"/>
<line x1="898.3" y1="179.9" x2="904.8" y2="179.9" stroke="#6a6a6a" stroke-width="2.2"/>
<line x1="894.8" y1="167.5" x2="904.8" y2="167.5" stroke="#6a6a6a" stroke-width="2.2"/>
<line x1="898.3" y1="155.1" x2="904.8" y2="155.1" stroke="#6a6a6a" stroke-width="2.2"/>
<line x1="898.3" y1="142.8" x2="904.8" y2="142.8" stroke="#6a6a6a" stroke-width="2.2"/>
<line x1="898.3" y1="130.4" x2="904.8" y2="130.4" stroke="#6a6a6a" stroke-width="2.2"/>
<line x1="894.8" y1="118.0" x2="904.8" y2="118.0" stroke="#6a6a6a" stroke-width="2.2"/>
<line x1="898.3" y1="105.6" x2="904.8" y2="105.6" stroke="#6a6a6a" stroke-width="2.2"/>
<line x1="898.3" y1="93.3" x2="904.8" y2="93.3" stroke="#6a6a6a" stroke-width="2.2"/>
<line x1="898.3" y1="80.9" x2="904.8" y2="80.9" stroke="#6a6a6a" stroke-width="2.2"/>
<line x1="894.8" y1="68.5" x2="904.8" y2="68.5" stroke="#6a6a6a" stroke-width="2.2"/>
<line x1="898.3" y1="56.2" x2="904.8" y2="56.2" stroke="#6a6a6a" stroke-width="2.2"/>
<line x1="898.3" y1="43.8" x2="904.8" y2="43.8" stroke="#6a6a6a" stroke-width="2.2"/>
<line x1="898.3" y1="31.4" x2="904.8" y2="31.4" stroke="#6a6a6a" stroke-width="2.2"/>
<line x1="894.8" y1="19.1" x2="904.8" y2="19.1" stroke="#6a6a6a" stroke-width="2.2"/>
<text x="872.0" y="424.1" text-anchor="middle" font-size="32.0">0</text>
<text x="872.0" y="374.9" text-anchor="middle" font-size="32.0">2</text>
<text x="872.0" y="325.6" text-anchor="middle" font-size="32.0">4</text>
<text x="872.0" y="276.4" text-anchor="middle" font-size="32.0">6</text>
<text x="872.0" y="227.2" text-anchor="middle" font-size="32.0">8</text>
<text x="869.0" y="177.9" text-anchor="middle" font-size="32.0">10</text>
<text x="869.0" y="128.7" text-anchor="middle" font-size="32.0">12</text>
<text x="869.0" y="79.4" text-anchor="middle" font-size="32.0">14</text>
<text x="869.0" y="30.2" text-anchor="middle" font-size="32.0">16</text>
<line x1="913.5" y1="422.0" x2="913.5" y2="431.5" stroke="#777" stroke-width="2"/>
<line x1="936.5" y1="422.0" x2="936.5" y2="427.0" stroke="#777" stroke-width="2"/>
<line x1="959.5" y1="422.0" x2="959.5" y2="427.0" stroke="#777" stroke-width="2"/>
<line x1="982.5" y1="422.0" x2="982.5" y2="427.0" stroke="#777" stroke-width="2"/>
<line x1="1005.4" y1="422.0" x2="1005.4" y2="427.0" stroke="#777" stroke-width="2"/>
<line x1="1028.4" y1="422.0" x2="1028.4" y2="431.5" stroke="#777" stroke-width="2"/>
<line x1="1051.4" y1="422.0" x2="1051.4" y2="427.0" stroke="#777" stroke-width="2"/>
<line x1="1074.3" y1="422.0" x2="1074.3" y2="427.0" stroke="#777" stroke-width="2"/>
<line x1="1097.3" y1="422.0" x2="1097.3" y2="427.0" stroke="#777" stroke-width="2"/>
<line x1="1120.3" y1="422.0" x2="1120.3" y2="427.0" stroke="#777" stroke-width="2"/>
<line x1="1143.2" y1="422.0" x2="1143.2" y2="431.5" stroke="#777" stroke-width="2"/>
<line x1="1166.2" y1="422.0" x2="1166.2" y2="427.0" stroke="#777" stroke-width="2"/>
<line x1="1189.2" y1="422.0" x2="1189.2" y2="427.0" stroke="#777" stroke-width="2"/>
<line x1="1212.2" y1="422.0" x2="1212.2" y2="427.0" stroke="#777" stroke-width="2"/>
<line x1="1235.1" y1="422.0" x2="1235.1" y2="427.0" stroke="#777" stroke-width="2"/>
<line x1="1258.1" y1="422.0" x2="1258.1" y2="431.5" stroke="#777" stroke-width="2"/>
<line x1="1281.1" y1="422.0" x2="1281.1" y2="427.0" stroke="#777" stroke-width="2"/>
<line x1="1304.0" y1="422.0" x2="1304.0" y2="427.0" stroke="#777" stroke-width="2"/>
<line x1="1327.0" y1="422.0" x2="1327.0" y2="427.0" stroke="#777" stroke-width="2"/>
<line x1="1350.0" y1="422.0" x2="1350.0" y2="427.0" stroke="#777" stroke-width="2"/>
<line x1="1372.9" y1="422.0" x2="1372.9" y2="431.5" stroke="#777" stroke-width="2"/>
<line x1="1395.9" y1="422.0" x2="1395.9" y2="427.0" stroke="#777" stroke-width="2"/>
<text x="914.2" y="463.5" text-anchor="middle" font-size="33.0">-15</text>
<text x="1028.2" y="463.8" text-anchor="middle" font-size="33.0">-10</text>
<text x="1143.0" y="463.0" text-anchor="middle" font-size="33.0">-5</text>
<text x="1258.3" y="463.3" text-anchor="middle" font-size="33.0">0</text>
<text x="1373.7" y="464.0" text-anchor="middle" font-size="33.0">5</text>
<text x="1083.9" y="497.2" font-size="33.0" textLength="164.1" lengthAdjust="spacingAndGlyphs">Energy (<tspan font-style="italic">eV</tspan>)</text>
<text transform="translate(839.0,312.2) rotate(-90)" font-size="35.0" textLength="239.5" lengthAdjust="spacingAndGlyphs">Relative Intensity</text>
<line x1="1418.0" y1="26.3" x2="1429.0" y2="26.3" stroke="#e8202a" stroke-width="4"/>
<line x1="1418.0" y1="57.0" x2="1429.5" y2="57.0" stroke="#1aa03a" stroke-width="4"/>
<line x1="1418.0" y1="85.7" x2="1429.5" y2="85.7" stroke="#000" stroke-width="4"/>
<text x="1437.4" y="26.6" font-size="33.0" textLength="129.0" lengthAdjust="spacingAndGlyphs">Acceptor</text>
<text x="1442.3" y="65.0" font-size="33.0" textLength="87.8" lengthAdjust="spacingAndGlyphs">Donor</text>
<text x="1441.2" y="97.0" font-size="33.0" textLength="72.6" lengthAdjust="spacingAndGlyphs">Total</text>
</g>
<text x="1125.0" y="569.1" font-size="42.0" textLength="86.4" lengthAdjust="spacingAndGlyphs" class="cap">MD2</text>
<g filter="url(#soft)"><path d="M102.9,960.8 C104.0,955.1 107.2,928.1 109.3,926.7 C111.4,925.3 113.6,945.6 115.8,952.6 C118.0,959.6 120.0,968.0 122.3,968.8 C124.6,969.6 127.2,956.1 129.6,957.5 C132.0,958.9 134.3,977.5 136.9,977.0 C139.5,976.5 142.6,962.4 145.0,954.3 C147.4,946.2 149.6,934.2 151.5,928.3 C153.4,922.3 154.6,919.1 156.3,918.6 C158.1,918.1 159.6,931.0 162.0,925.1 C164.4,919.2 168.1,886.8 170.9,883.0 C173.7,879.2 175.9,893.5 179.0,902.4 C182.1,911.3 186.8,937.0 189.5,936.5 C192.2,936.0 193.3,911.1 195.2,899.2 C197.1,887.3 199.0,866.6 200.9,865.2 C202.8,863.9 204.6,883.0 206.5,891.1 C208.4,899.2 210.2,916.5 212.2,913.8 C214.2,911.1 216.4,892.2 218.7,874.9 C221.0,857.6 223.8,814.1 226.0,810.1 C228.2,806.1 230.0,833.1 231.6,850.6 C233.2,868.1 234.2,899.2 235.7,915.4 C237.2,931.6 238.7,940.2 240.6,947.8 C242.5,955.4 245.1,957.0 247.0,960.8 C248.9,964.6 249.7,971.0 251.9,970.5 C254.1,970.0 258.1,960.2 260.0,957.5 C261.9,954.8 261.1,950.5 263.0,954.3 C264.9,958.1 268.1,972.7 271.1,980.2 C274.1,987.8 278.1,1000.7 280.8,999.6 C283.5,998.5 285.4,979.9 287.3,973.7 C289.2,967.5 289.5,962.4 292.2,962.4 C294.9,962.4 300.5,972.4 303.5,973.7 C306.5,975.1 308.1,968.9 310.0,970.5 C311.9,972.1 313.1,979.1 314.8,983.4 C316.6,987.7 318.3,995.3 320.5,996.4 C322.7,997.5 325.8,988.5 327.8,989.9 C329.8,991.2 330.8,1000.5 332.7,1004.5 C334.6,1008.5 336.1,1012.4 339.1,1014.0 L340.3,1014.0 L341.6,1014.0 L343.0,1014.0 L344.5,1014.0 L346.0,1014.0 L347.5,1014.0 L349.0,1014.0 L350.5,1014.0 C354.3,1013.8 358.3,1012.6 361.8,1012.6 L363.1,1012.7 L364.3,1013.1 L365.5,1013.6 L366.6,1014.0 L367.8,1014.0 L369.0,1014.0 L370.2,1014.0 L371.5,1014.0 C375.0,1011.8 379.4,999.8 382.9,999.6 C386.4,999.4 390.0,1010.7 392.6,1012.6 L393.5,1013.2 L394.3,1013.7 L395.0,1013.9 L395.6,1013.9 L396.2,1013.7 L396.9,1013.1 L397.5,1012.2 L398.3,1011.0 C400.5,1007.2 402.9,991.8 405.6,989.9 C408.3,988.0 411.3,1001.2 414.5,999.6 C417.7,998.0 421.5,982.4 425.0,980.2 C428.5,978.1 432.4,988.1 435.3,986.7 C438.2,985.4 440.5,979.9 442.6,972.1 C444.8,964.3 446.2,948.3 448.2,939.7 C450.2,931.1 452.7,920.3 454.7,920.3 C456.7,920.3 458.4,932.2 460.4,939.7 C462.4,947.2 465.0,959.4 466.9,965.6 C468.8,971.8 469.5,977.3 471.7,977.0 C473.9,976.7 477.6,965.1 479.8,964.0 C482.0,962.9 482.9,967.8 484.7,970.5 C486.5,973.2 488.5,984.0 490.4,980.2 C492.3,976.4 494.2,958.6 496.0,947.8 C497.8,937.0 499.5,922.1 500.9,915.4 C502.2,908.6 502.8,908.1 504.1,907.3 C505.5,906.5 507.4,913.2 509.0,910.5 C510.6,907.8 512.3,897.0 513.9,891.1 C515.5,885.2 517.2,879.0 518.7,874.9 C520.2,870.8 521.4,866.3 522.8,866.8 C524.1,867.3 525.6,874.9 526.8,878.1 C528.0,881.3 528.8,888.6 530.1,886.2 C531.5,883.8 532.9,873.2 534.9,863.5 C536.9,853.8 540.0,830.0 542.2,827.9 C544.4,825.8 545.6,844.7 547.9,850.6 C550.2,856.5 553.9,857.0 556.0,863.5 C558.1,870.0 558.9,882.2 560.8,889.5 C562.7,896.8 565.1,898.4 567.3,907.3 C569.5,916.2 571.6,934.5 573.8,942.9 C576.0,951.3 578.3,951.8 580.3,957.5 C582.3,963.2 585.0,973.8 585.9,977.0" fill="none" stroke="#259a25" stroke-width="3.0" stroke-linejoin="round" stroke-linecap="round"/>
<path d="M102.9,952.6 C103.7,943.7 105.7,912.2 107.7,899.2 C109.7,886.2 112.7,877.1 115.0,874.9 C117.3,872.7 119.5,878.1 121.5,886.2 C123.5,894.3 124.9,908.4 127.2,923.5 C129.5,938.6 133.2,973.5 135.3,977.0 C137.5,980.5 138.5,953.7 140.1,944.5 C141.7,935.3 143.4,925.4 145.0,921.9 C146.6,918.4 147.8,927.3 149.8,923.5 C151.8,919.7 154.9,898.9 157.1,899.2 C159.3,899.5 160.9,915.7 162.8,925.1 C164.7,934.5 166.6,957.5 168.5,955.9 C170.4,954.3 171.7,934.8 174.1,915.4 C176.5,896.0 180.6,842.0 183.0,839.3 C185.4,836.6 186.8,878.7 188.7,899.2 C190.6,919.7 192.5,962.4 194.4,962.4 C196.3,962.4 198.2,917.8 200.1,899.2 C202.0,880.6 203.8,850.6 205.7,850.6 C207.6,850.6 209.9,887.6 211.4,899.2 C212.9,910.8 212.7,920.8 214.6,920.3 C216.5,919.8 220.0,904.9 222.7,896.0 C225.4,887.1 228.1,878.4 230.8,866.8 C233.5,855.2 236.7,837.4 238.9,826.3 C241.1,815.2 242.2,801.8 243.8,800.4 C245.4,799.0 247.1,804.4 248.7,818.2 C250.3,832.0 251.6,860.0 253.5,883.0 C255.4,906.0 258.2,940.8 260.0,955.9 C261.8,971.0 263.0,971.0 264.0,973.7 C265.0,976.4 265.1,979.1 266.2,972.1 C267.2,965.1 268.9,940.5 270.3,931.6 C271.7,922.7 273.0,917.2 274.3,918.6 C275.6,920.0 276.5,933.2 278.4,939.7 C280.3,946.2 283.8,950.8 285.7,957.5 C287.6,964.2 287.8,972.6 289.7,980.2 C291.6,987.8 293.9,998.3 297.0,1002.9 C300.1,1007.5 304.6,1006.1 308.4,1007.7 C312.2,1009.3 315.9,1011.6 319.7,1012.6 C323.5,1013.6 327.8,1013.8 331.0,1014.0 L332.1,1014.0 L333.2,1014.0 L334.1,1014.0 L335.0,1014.0 L336.0,1014.0 L336.9,1014.0 L338.0,1014.0 L339.1,1014.0 L340.4,1014.0 L341.8,1014.0 L343.3,1014.0 L344.9,1014.0 L346.4,1014.0 L347.9,1014.0 L349.3,1014.0 L350.5,1014.0 C353.5,1010.2 355.0,999.0 357.0,991.5 C359.0,984.0 360.6,970.9 362.6,968.8 C364.6,966.6 366.8,981.0 369.1,978.6 C371.4,976.2 374.4,959.7 376.4,954.3 C378.4,948.9 379.3,947.0 381.3,946.2 C383.3,945.4 386.4,943.7 388.5,949.4 C390.6,955.1 392.7,971.0 394.2,980.2 C395.7,989.4 396.1,999.4 397.5,1004.5 C398.9,1009.6 400.7,1011.5 402.3,1011.0 C403.9,1010.5 405.3,1009.1 407.2,1001.3 C409.1,993.5 411.5,975.6 413.7,964.0 C415.9,952.4 418.2,940.0 420.1,931.6 C422.0,923.2 423.1,912.4 425.0,913.8 C426.9,915.1 429.3,933.0 431.2,939.7 C433.1,946.5 434.6,951.3 436.1,954.3 C437.6,957.3 438.8,954.3 440.1,957.5 C441.5,960.7 442.9,969.1 444.2,973.7 C445.5,978.3 446.6,986.7 448.2,985.1 C449.8,983.5 452.1,971.8 453.9,964.0 C455.7,956.2 457.1,945.7 458.8,938.1 C460.6,930.5 462.6,922.7 464.4,918.6 C466.1,914.5 467.8,911.6 469.3,913.8 C470.8,916.0 471.9,923.2 473.4,931.6 C474.9,940.0 476.8,956.7 478.2,964.0 C479.6,971.3 479.9,975.0 481.5,975.3 C483.1,975.6 485.8,965.9 487.9,965.6 C490.0,965.3 492.1,974.8 494.4,973.7 C496.7,972.6 499.5,959.1 501.7,959.1 C503.9,959.1 505.8,968.8 507.4,973.7 C509.0,978.6 509.9,989.4 511.4,988.3 C512.9,987.2 514.8,979.4 516.3,967.2 C517.8,955.1 518.9,929.2 520.3,915.4 C521.6,901.6 523.0,887.3 524.4,884.6 C525.8,881.9 527.0,895.7 528.4,899.2 C529.8,902.7 530.7,906.2 532.5,905.7 C534.3,905.2 536.7,894.4 539.0,896.0 C541.3,897.6 544.0,906.8 546.3,915.4 C548.6,924.0 550.7,939.4 552.7,947.8 C554.7,956.2 556.2,964.8 558.4,965.6 C560.6,966.4 563.4,956.1 565.7,952.6 C568.0,949.1 569.6,947.7 572.2,944.5 C574.8,941.3 578.8,931.3 581.1,933.2 C583.4,935.1 585.1,952.1 585.9,955.9" fill="none" stroke="#ff3434" stroke-width="3.0" stroke-linejoin="round" stroke-linecap="round"/>
<path d="M102.9,915.4 C103.3,904.6 104.5,866.8 105.3,850.6 C106.1,834.4 106.5,827.1 107.7,818.2 C108.9,809.3 111.0,797.1 112.6,797.1 C114.2,797.1 115.5,809.3 117.4,818.2 C119.3,827.1 121.7,838.5 123.9,850.6 C126.1,862.8 128.5,877.6 130.4,891.1 C132.3,904.6 133.7,930.2 135.3,931.6 C136.9,933.0 138.5,909.5 140.1,899.2 C141.7,888.9 143.4,877.0 145.0,870.0 C146.6,863.0 148.3,864.4 149.8,857.1 C151.3,849.8 152.7,835.5 153.9,826.3 C155.1,817.1 155.9,802.0 157.1,802.0 C158.3,802.0 160.0,820.1 161.2,826.3 C162.4,832.5 163.1,840.6 164.4,839.3 C165.8,837.9 167.4,829.0 169.3,818.2 C171.2,807.4 173.8,787.7 175.8,774.5 C177.8,761.3 179.5,738.3 181.4,738.8 C183.3,739.3 185.2,757.7 187.1,777.7 C189.0,797.7 190.9,857.4 192.8,858.7 C194.7,860.1 196.5,810.1 198.4,785.8 C200.3,761.5 202.3,718.3 204.1,712.9 C205.9,707.5 207.4,735.8 209.0,753.4 C210.6,771.0 212.2,818.2 213.8,818.2 C215.4,818.2 217.2,775.0 218.7,753.4 C220.2,731.8 221.5,701.7 222.7,688.6 C223.9,675.5 224.7,672.1 226.0,674.8 C227.3,677.5 228.9,691.2 230.8,704.8 C232.7,718.4 235.1,751.2 237.3,756.6 C239.5,762.0 241.8,732.3 243.8,737.2 C245.8,742.1 247.9,766.9 249.5,785.8 C251.1,804.7 251.8,829.0 253.5,850.6 C255.2,872.2 258.0,903.5 260.0,915.4 C262.0,927.3 263.8,924.6 265.4,921.9 C267.0,919.2 268.3,905.4 269.5,899.2 C270.7,893.0 271.3,883.2 272.7,884.6 C274.1,886.0 276.0,899.7 277.6,907.3 C279.2,914.9 280.8,926.8 282.4,930.0 C284.0,933.2 285.7,925.1 287.3,926.7 C288.9,928.3 290.4,934.0 292.2,939.7 C293.9,945.4 295.9,955.4 297.8,960.8 C299.7,966.2 301.5,971.0 303.5,972.1 C305.5,973.2 308.1,965.3 310.0,967.2 C311.9,969.1 313.1,978.5 314.8,983.4 C316.6,988.3 318.3,995.3 320.5,996.4 C322.7,997.5 325.8,988.5 327.8,989.9 C329.8,991.2 330.8,1000.5 332.7,1004.5 C334.6,1008.5 336.1,1012.4 339.1,1014.0 L340.3,1014.0 L341.7,1014.0 L343.2,1014.0 L344.8,1014.0 L346.4,1014.0 L347.9,1014.0 L349.3,1014.0 L350.5,1014.0 C353.5,1009.7 355.0,996.4 357.0,988.3 C359.0,980.2 360.6,967.5 362.6,965.6 C364.6,963.7 366.8,980.0 369.1,977.0 C371.4,974.0 374.2,955.4 376.4,947.8 C378.6,940.2 380.1,932.7 382.1,931.6 C384.1,930.5 386.5,934.5 388.5,941.3 C390.5,948.0 392.4,962.4 394.2,972.1 C396.0,981.8 397.2,997.4 399.1,999.6 C401.0,1001.8 403.2,993.7 405.6,985.1 C408.0,976.5 411.3,962.1 413.7,947.8 C416.1,933.5 418.1,910.8 420.1,899.2 C422.1,887.6 424.0,876.8 425.8,878.1 C427.6,879.5 429.6,898.6 431.2,907.3 C432.8,915.9 433.8,926.8 435.3,930.0 C436.8,933.2 438.5,926.7 440.1,926.7 C441.7,926.7 443.5,934.6 445.0,930.0 C446.5,925.4 447.6,909.7 449.1,899.2 C450.6,888.7 452.3,874.4 453.9,866.8 C455.5,859.2 456.9,853.5 458.8,853.8 C460.7,854.1 463.3,863.5 465.3,868.4 C467.3,873.3 469.0,876.5 470.9,883.0 C472.8,889.5 474.8,900.3 476.6,907.3 C478.4,914.3 479.9,921.6 481.5,925.1 C483.1,928.6 484.6,925.6 486.3,928.3 C488.1,931.0 490.4,943.4 492.0,941.3 C493.6,939.1 494.8,927.8 496.0,915.4 C497.2,903.0 498.2,877.1 499.3,866.8 C500.4,856.5 501.3,853.3 502.5,853.8 C503.7,854.3 505.2,864.9 506.6,870.0 C508.0,875.1 509.2,887.8 510.6,884.6 C512.0,881.4 513.6,865.7 514.7,850.6 C515.8,835.5 516.2,809.6 517.1,793.9 C518.0,778.2 519.1,765.0 520.3,756.6 C521.5,748.2 523.2,742.6 524.4,743.7 C525.6,744.8 526.5,757.2 527.6,763.1 C528.7,769.0 529.7,782.3 530.9,779.3 C532.1,776.3 533.3,756.4 534.9,745.3 C536.5,734.2 538.9,715.3 540.6,712.9 C542.4,710.5 543.9,721.2 545.4,730.7 C546.9,740.2 547.7,756.4 549.5,769.6 C551.3,782.8 554.0,798.5 556.0,810.1 C558.0,821.7 559.7,834.7 561.6,839.3 C563.5,843.9 565.5,833.6 567.3,837.6 C569.1,841.6 570.9,856.5 572.2,863.5 C573.6,870.5 574.0,876.5 575.4,879.8 C576.8,883.0 578.9,880.9 580.3,883.0 C581.6,885.1 582.4,885.7 583.5,892.7 C584.6,899.7 586.2,919.7 586.8,925.1" fill="none" stroke="#2a2a2a" stroke-width="3.2" stroke-linejoin="round" stroke-linecap="round"/>
<rect x="99.8" y="644.5" width="493.7" height="373.8" fill="none" stroke="#000" stroke-width="4.0"/>
<line x1="88.3" y1="1013.2" x2="98.3" y2="1013.2" stroke="#6a6a6a" stroke-width="2.2"/>
<line x1="91.8" y1="1000.3" x2="98.3" y2="1000.3" stroke="#6a6a6a" stroke-width="2.2"/>
<line x1="91.8" y1="987.5" x2="98.3" y2="987.5" stroke="#6a6a6a" stroke-width="2.2"/>
<line x1="91.8" y1="974.6" x2="98.3" y2="974.6" stroke="#6a6a6a" stroke-width="2.2"/>
<line x1="88.3" y1="961.7" x2="98.3" y2="961.7" stroke="#6a6a6a" stroke-width="2.2"/>
<line x1="91.8" y1="948.8" x2="98.3" y2="948.8" stroke="#6a6a6a" stroke-width="2.2"/>
<line x1="91.8" y1="936.0" x2="98.3" y2="936.0" stroke="#6a6a6a" stroke-width="2.2"/>
<line x1="91.8" y1="923.1" x2="98.3" y2="923.1" stroke="#6a6a6a" stroke-width="2.2"/>
<line x1="88.3" y1="910.2" x2="98.3" y2="910.2" stroke="#6a6a6a" stroke-width="2.2"/>
<line x1="91.8" y1="897.3" x2="98.3" y2="897.3" stroke="#6a6a6a" stroke-width="2.2"/>
<line x1="91.8" y1="884.5" x2="98.3" y2="884.5" stroke="#6a6a6a" stroke-width="2.2"/>
<line x1="91.8" y1="871.6" x2="98.3" y2="871.6" stroke="#6a6a6a" stroke-width="2.2"/>
<line x1="88.3" y1="858.7" x2="98.3" y2="858.7" stroke="#6a6a6a" stroke-width="2.2"/>
<line x1="91.8" y1="845.8" x2="98.3" y2="845.8" stroke="#6a6a6a" stroke-width="2.2"/>
<line x1="91.8" y1="833.0" x2="98.3" y2="833.0" stroke="#6a6a6a" stroke-width="2.2"/>
<line x1="91.8" y1="820.1" x2="98.3" y2="820.1" stroke="#6a6a6a" stroke-width="2.2"/>
<line x1="88.3" y1="807.2" x2="98.3" y2="807.2" stroke="#6a6a6a" stroke-width="2.2"/>
<line x1="91.8" y1="794.3" x2="98.3" y2="794.3" stroke="#6a6a6a" stroke-width="2.2"/>
<line x1="91.8" y1="781.5" x2="98.3" y2="781.5" stroke="#6a6a6a" stroke-width="2.2"/>
<line x1="91.8" y1="768.6" x2="98.3" y2="768.6" stroke="#6a6a6a" stroke-width="2.2"/>
<line x1="88.3" y1="755.7" x2="98.3" y2="755.7" stroke="#6a6a6a" stroke-width="2.2"/>
<line x1="91.8" y1="742.8" x2="98.3" y2="742.8" stroke="#6a6a6a" stroke-width="2.2"/>
<line x1="91.8" y1="730.0" x2="98.3" y2="730.0" stroke="#6a6a6a" stroke-width="2.2"/>
<line x1="91.8" y1="717.1" x2="98.3" y2="717.1" stroke="#6a6a6a" stroke-width="2.2"/>
<line x1="88.3" y1="704.2" x2="98.3" y2="704.2" stroke="#6a6a6a" stroke-width="2.2"/>
<line x1="91.8" y1="691.3" x2="98.3" y2="691.3" stroke="#6a6a6a" stroke-width="2.2"/>
<line x1="91.8" y1="678.5" x2="98.3" y2="678.5" stroke="#6a6a6a" stroke-width="2.2"/>
<line x1="91.8" y1="665.6" x2="98.3" y2="665.6" stroke="#6a6a6a" stroke-width="2.2"/>
<line x1="88.3" y1="652.7" x2="98.3" y2="652.7" stroke="#6a6a6a" stroke-width="2.2"/>
<text x="67.0" y="1019.5" text-anchor="middle" font-size="31.0">0</text>
<text x="67.0" y="968.3" text-anchor="middle" font-size="31.0">2</text>
<text x="67.0" y="917.1" text-anchor="middle" font-size="31.0">4</text>
<text x="67.0" y="865.9" text-anchor="middle" font-size="31.0">6</text>
<text x="67.0" y="814.8" text-anchor="middle" font-size="31.0">8</text>
<text x="64.0" y="763.6" text-anchor="middle" font-size="31.0">10</text>
<text x="64.0" y="712.4" text-anchor="middle" font-size="31.0">12</text>
<text x="64.0" y="661.2" text-anchor="middle" font-size="31.0">14</text>
<line x1="107.8" y1="1019.8" x2="107.8" y2="1029.3" stroke="#777" stroke-width="2"/>
<line x1="130.2" y1="1019.8" x2="130.2" y2="1024.8" stroke="#777" stroke-width="2"/>
<line x1="152.6" y1="1019.8" x2="152.6" y2="1024.8" stroke="#777" stroke-width="2"/>
<line x1="175.0" y1="1019.8" x2="175.0" y2="1024.8" stroke="#777" stroke-width="2"/>
<line x1="197.5" y1="1019.8" x2="197.5" y2="1024.8" stroke="#777" stroke-width="2"/>
<line x1="219.9" y1="1019.8" x2="219.9" y2="1029.3" stroke="#777" stroke-width="2"/>
<line x1="242.3" y1="1019.8" x2="242.3" y2="1024.8" stroke="#777" stroke-width="2"/>
<line x1="264.8" y1="1019.8" x2="264.8" y2="1024.8" stroke="#777" stroke-width="2"/>
<line x1="287.2" y1="1019.8" x2="287.2" y2="1024.8" stroke="#777" stroke-width="2"/>
<line x1="309.6" y1="1019.8" x2="309.6" y2="1024.8" stroke="#777" stroke-width="2"/>
<line x1="332.0" y1="1019.8" x2="332.0" y2="1029.3" stroke="#777" stroke-width="2"/>
<line x1="354.5" y1="1019.8" x2="354.5" y2="1024.8" stroke="#777" stroke-width="2"/>
<line x1="376.9" y1="1019.8" x2="376.9" y2="1024.8" stroke="#777" stroke-width="2"/>
<line x1="399.3" y1="1019.8" x2="399.3" y2="1024.8" stroke="#777" stroke-width="2"/>
<line x1="421.8" y1="1019.8" x2="421.8" y2="1024.8" stroke="#777" stroke-width="2"/>
<line x1="444.2" y1="1019.8" x2="444.2" y2="1029.3" stroke="#777" stroke-width="2"/>
<line x1="466.6" y1="1019.8" x2="466.6" y2="1024.8" stroke="#777" stroke-width="2"/>
<line x1="489.1" y1="1019.8" x2="489.1" y2="1024.8" stroke="#777" stroke-width="2"/>
<line x1="511.5" y1="1019.8" x2="511.5" y2="1024.8" stroke="#777" stroke-width="2"/>
<line x1="533.9" y1="1019.8" x2="533.9" y2="1024.8" stroke="#777" stroke-width="2"/>
<line x1="556.4" y1="1019.8" x2="556.4" y2="1029.3" stroke="#777" stroke-width="2"/>
<line x1="578.8" y1="1019.8" x2="578.8" y2="1024.8" stroke="#777" stroke-width="2"/>
<text x="106.7" y="1062.3" text-anchor="middle" font-size="32.0">-15</text>
<text x="218.6" y="1063.0" text-anchor="middle" font-size="32.0">-10</text>
<text x="327.1" y="1062.3" text-anchor="middle" font-size="32.0">-5</text>
<text x="442.4" y="1062.5" text-anchor="middle" font-size="32.0">0</text>
<text x="554.3" y="1061.0" text-anchor="middle" font-size="32.0">5</text>
<text x="253.3" y="1092.4" font-size="32.0" textLength="159.3" lengthAdjust="spacingAndGlyphs">Energy (<tspan font-style="italic">eV</tspan>)</text>
<text transform="translate(31.3,917.6) rotate(-90)" font-size="34.0" textLength="232.8" lengthAdjust="spacingAndGlyphs">Relative Intensity</text>
<line x1="595.5" y1="659.1" x2="606.0" y2="659.1" stroke="#e8202a" stroke-width="4"/>
<line x1="595.5" y1="689.1" x2="605.0" y2="689.1" stroke="#1aa03a" stroke-width="4"/>
<line x1="595.5" y1="716.7" x2="605.0" y2="716.7" stroke="#000" stroke-width="4"/>
<text x="610.9" y="665.2" font-size="32.0" textLength="124.1" lengthAdjust="spacingAndGlyphs">Acceptor</text>
<text x="612.0" y="701.6" font-size="32.0" textLength="85.6" lengthAdjust="spacingAndGlyphs">Donor</text>
<text x="613.1" y="729.2" font-size="32.0" textLength="70.4" lengthAdjust="spacingAndGlyphs">Total</text>
</g>
<text x="279.2" y="1182.7" font-size="42.0" textLength="86.8" lengthAdjust="spacingAndGlyphs" class="cap">MD3</text>
<g filter="url(#soft)"><path d="M933.7,983.2 C934.7,976.9 937.6,948.1 939.7,945.5 C941.9,942.9 944.6,961.5 946.6,967.8 C948.6,974.1 950.0,982.1 951.7,983.2 C953.4,984.3 954.2,973.2 956.8,974.6 C959.4,976.0 964.0,993.2 967.1,991.8 C970.2,990.4 972.9,974.7 975.7,966.1 C978.6,957.5 981.8,944.1 984.2,940.4 C986.6,936.7 987.6,949.5 990.2,943.8 C992.8,938.1 996.7,907.8 999.7,906.1 C1002.7,904.4 1005.5,926.1 1008.2,933.5 C1010.9,940.9 1013.4,953.8 1016.0,950.7 C1018.6,947.6 1021.3,925.0 1023.7,914.7 C1026.1,904.4 1028.2,889.3 1030.5,889.0 C1032.8,888.7 1035.2,905.9 1037.4,913.0 C1039.6,920.1 1041.6,937.2 1043.4,931.8 C1045.2,926.4 1046.8,895.8 1048.5,880.4 C1050.2,865.0 1051.8,839.3 1053.6,839.3 C1055.4,839.3 1057.7,864.1 1059.6,880.4 C1061.5,896.7 1062.8,922.7 1064.8,937.0 C1066.8,951.3 1069.0,958.1 1071.6,966.1 C1074.2,974.1 1077.5,983.8 1080.2,984.9 C1082.9,986.0 1085.3,974.0 1087.9,972.9 C1090.5,971.8 1093.9,976.1 1095.6,978.1 C1097.3,980.1 1095.8,979.2 1097.9,984.9 C1100.0,990.6 1105.2,1011.1 1108.1,1012.3 C1110.9,1013.4 1112.8,997.2 1115.0,991.8 C1117.2,986.4 1118.9,980.7 1121.0,979.8 C1123.1,978.9 1125.7,984.6 1127.8,986.6 C1129.9,988.6 1131.9,991.8 1133.8,991.8 C1135.7,991.8 1137.6,986.3 1139.0,986.6 C1140.4,986.9 1140.8,989.8 1142.4,993.5 C1144.0,997.2 1146.4,1007.2 1148.4,1008.9 C1150.4,1010.6 1152.6,1002.6 1154.4,1003.8 C1156.2,1004.9 1157.7,1011.9 1159.5,1015.8 C1161.3,1019.7 1161.9,1025.5 1165.5,1027.4 L1167.0,1027.4 L1168.7,1027.4 L1170.7,1027.4 L1172.8,1027.4 L1174.9,1027.4 L1177.0,1027.4 L1179.0,1027.4 L1180.9,1027.4 C1185.6,1027.2 1190.2,1026.2 1193.8,1026.0 C1197.4,1025.8 1199.6,1027.1 1202.4,1026.0 C1205.2,1024.9 1207.8,1019.0 1210.9,1019.2 L1212.1,1019.6 L1213.4,1020.6 L1214.8,1022.0 L1216.2,1023.5 L1217.5,1025.0 L1218.8,1026.3 L1220.1,1027.1 L1221.2,1027.4 C1224.1,1027.1 1226.1,1020.9 1228.1,1017.5 C1230.1,1014.1 1230.8,1006.9 1233.2,1007.2 C1235.6,1007.5 1239.2,1021.8 1242.6,1019.2 C1246.0,1016.6 1250.4,993.8 1253.8,991.8 C1257.2,989.8 1260.2,1008.1 1262.9,1007.2 C1265.6,1006.3 1267.7,994.9 1269.7,986.6 C1271.7,978.3 1273.0,964.9 1274.8,957.5 C1276.6,950.1 1278.6,941.5 1280.8,942.1 C1283.0,942.7 1285.5,954.0 1287.7,960.9 C1289.9,967.8 1291.7,978.1 1293.7,983.2 C1295.7,988.4 1297.3,991.8 1299.7,991.8 C1302.1,991.8 1305.6,982.1 1308.3,983.2 C1311.0,984.3 1313.9,1000.9 1316.0,998.6 C1318.1,996.3 1319.1,980.9 1321.1,969.5 C1323.1,958.1 1325.7,936.1 1328.0,930.1 C1330.3,924.1 1332.5,937.5 1334.8,933.5 C1337.1,929.5 1339.4,913.5 1341.7,906.1 C1344.0,898.7 1346.1,889.0 1348.5,889.0 C1350.9,889.0 1353.9,907.5 1356.2,906.1 C1358.5,904.7 1360.3,888.7 1362.2,880.4 C1364.1,872.1 1365.4,856.7 1367.4,856.4 C1369.4,856.1 1372.2,874.7 1374.2,878.7 C1376.2,882.7 1377.7,877.0 1379.4,880.4 C1381.1,883.8 1382.5,891.6 1384.5,899.3 C1386.5,907.0 1389.0,918.4 1391.3,926.7 C1393.6,935.0 1396.2,941.2 1398.2,948.9 C1400.2,956.6 1400.9,973.8 1403.3,972.9 C1405.7,972.0 1410.5,946.9 1412.8,943.8 C1415.1,940.7 1416.3,952.4 1417.0,954.1" fill="none" stroke="#259a25" stroke-width="3.0" stroke-linejoin="round" stroke-linecap="round"/>
<path d="M933.7,1014.0 C934.7,1011.1 937.6,1003.5 939.7,996.9 C941.9,990.3 944.3,980.9 946.6,974.6 C948.9,968.3 951.4,958.3 953.4,959.2 C955.4,960.1 956.8,974.1 958.6,979.8 C960.5,985.5 962.5,994.4 964.5,993.5 C966.5,992.6 968.6,986.3 970.5,974.6 C972.4,962.9 974.0,946.0 975.7,923.2 C977.4,900.4 978.9,860.2 980.8,837.6 C982.6,815.0 985.1,792.2 986.8,787.9 C988.5,783.6 989.7,796.5 991.1,811.9 C992.5,827.3 994.0,864.1 995.4,880.4 C996.8,896.7 998.1,913.8 999.7,909.5 C1001.3,905.2 1003.1,873.8 1004.8,854.7 C1006.5,835.6 1008.3,810.8 1010.0,794.8 C1011.7,778.8 1013.2,758.8 1015.1,758.8 C1017.0,758.8 1019.1,778.2 1021.1,794.8 C1023.1,811.3 1025.0,846.1 1027.1,858.1 C1029.2,870.1 1031.3,865.6 1033.9,866.7 C1036.5,867.9 1040.2,863.3 1042.5,865.0 C1044.8,866.7 1045.6,870.1 1047.6,877.0 C1049.6,883.9 1052.2,897.8 1054.5,906.1 C1056.8,914.4 1059.3,918.1 1061.3,926.7 C1063.3,935.3 1064.8,947.2 1066.5,957.5 C1068.2,967.8 1069.6,984.9 1071.6,988.3 C1073.6,991.7 1076.2,978.7 1078.5,978.1 C1080.8,977.5 1083.0,980.9 1085.3,984.9 C1087.6,988.9 1090.5,1000.3 1092.2,1002.0 C1093.9,1003.7 1094.1,1001.2 1095.3,995.2 C1096.5,989.2 1098.3,973.8 1099.6,966.1 C1100.9,958.4 1101.9,952.3 1103.0,948.9 C1104.1,945.5 1105.1,943.2 1106.4,945.5 C1107.7,947.8 1109.0,958.3 1110.7,962.6 C1112.4,966.9 1115.0,967.5 1116.7,971.2 C1118.4,974.9 1119.6,979.2 1121.0,984.9 C1122.4,990.6 1123.7,1000.1 1125.3,1005.5 C1126.9,1010.9 1128.1,1014.9 1130.4,1017.5 C1132.7,1020.1 1136.2,1019.5 1139.0,1020.9 C1141.8,1022.3 1144.4,1024.9 1147.5,1026.0 C1150.6,1027.1 1154.6,1027.2 1157.8,1027.4 L1158.9,1027.4 L1159.9,1027.4 L1160.9,1027.4 L1161.8,1027.4 L1162.8,1027.4 L1163.9,1027.4 L1165.1,1027.4 L1166.4,1027.4 L1168.0,1027.4 L1169.8,1027.4 L1171.7,1027.4 L1173.8,1027.4 L1175.8,1027.4 L1177.7,1027.4 L1179.4,1027.4 L1180.9,1027.4 C1184.5,1025.5 1185.7,1022.3 1187.8,1015.8 C1189.9,1009.3 1191.9,989.4 1193.8,988.3 C1195.7,987.1 1197.3,1004.3 1198.9,1008.9 C1200.5,1013.5 1201.2,1017.5 1203.2,1015.8 C1205.2,1014.1 1208.6,998.9 1210.9,998.6 C1213.2,998.3 1214.8,1009.2 1216.9,1014.0 C1219.1,1018.8 1221.8,1026.0 1223.8,1027.4 L1224.5,1027.4 L1225.2,1027.4 L1225.9,1027.4 L1226.5,1027.2 L1227.1,1026.5 L1227.7,1025.5 L1228.3,1024.2 L1228.9,1022.6 C1230.5,1018.1 1231.6,1009.7 1233.2,1000.3 C1234.8,990.9 1236.9,973.5 1238.3,966.1 C1239.7,958.7 1240.4,955.5 1241.8,955.8 C1243.2,956.1 1245.1,964.9 1246.9,967.8 C1248.8,970.6 1251.2,970.3 1252.9,972.9 C1254.6,975.5 1255.7,980.3 1257.2,983.2 C1258.7,986.1 1260.2,991.5 1262.0,990.1 C1263.8,988.7 1265.6,974.6 1268.0,974.6 C1270.4,974.6 1273.8,993.0 1276.6,990.1 C1279.4,987.2 1282.0,965.8 1285.1,957.5 C1288.2,949.2 1292.7,941.8 1295.4,940.4 C1298.1,939.0 1299.4,941.8 1301.4,948.9 C1303.4,956.0 1305.3,972.1 1307.4,983.2 C1309.5,994.4 1311.9,1015.2 1314.2,1015.8 C1316.5,1016.4 1319.2,993.8 1321.1,986.6 C1323.0,979.5 1323.7,974.0 1325.4,972.9 C1327.1,971.8 1329.0,981.2 1331.4,979.8 C1333.8,978.4 1337.6,973.8 1339.9,964.4 C1342.2,955.0 1343.5,935.5 1345.1,923.2 C1346.7,910.9 1347.4,895.6 1349.4,890.7 C1351.4,885.9 1354.8,895.8 1357.1,894.1 C1359.4,892.4 1361.2,877.0 1363.1,880.4 C1364.9,883.8 1366.5,903.9 1368.2,914.7 C1369.9,925.6 1371.8,939.2 1373.4,945.5 C1375.0,951.8 1375.8,948.4 1377.6,952.4 C1379.4,956.4 1382.2,973.8 1384.5,969.5 C1386.8,965.2 1389.0,937.6 1391.3,926.7 C1393.6,915.9 1395.9,904.7 1398.2,904.4 C1400.5,904.1 1402.9,923.0 1405.0,925.0 C1407.1,927.0 1409.0,911.8 1411.0,916.4 C1413.0,921.0 1416.0,946.4 1417.0,952.4" fill="none" stroke="#ff3434" stroke-width="3.0" stroke-linejoin="round" stroke-linecap="round"/>
<path d="M933.7,971.2 C934.1,964.9 935.0,944.4 936.3,933.5 C937.6,922.6 939.4,908.4 941.4,906.1 C943.4,903.8 946.1,918.6 948.3,919.8 C950.4,920.9 952.4,910.1 954.3,913.0 C956.1,915.9 957.5,929.0 959.4,937.0 C961.2,945.0 963.5,961.8 965.4,960.9 C967.2,960.0 968.8,946.6 970.5,931.8 C972.2,916.9 974.3,893.2 975.7,871.8 C977.1,850.4 978.0,826.1 979.1,803.3 C980.2,780.5 981.2,751.9 982.5,734.8 C983.8,717.7 985.4,700.5 986.8,700.5 C988.2,700.5 989.2,720.5 991.1,734.8 C993.0,749.1 996.0,783.4 998.0,786.2 C1000.0,789.1 1001.4,764.8 1003.1,751.9 C1004.8,739.0 1006.4,720.8 1008.2,709.1 C1010.1,697.4 1012.3,683.7 1014.2,681.7 C1016.1,679.7 1017.7,690.5 1019.4,697.1 C1021.1,703.7 1022.6,716.0 1024.5,721.1 C1026.3,726.2 1028.7,724.5 1030.5,727.9 C1032.3,731.3 1033.6,735.0 1035.6,741.6 C1037.6,748.2 1040.5,767.0 1042.5,767.3 C1044.5,767.6 1045.9,750.8 1047.6,743.4 C1049.3,736.0 1051.1,721.4 1052.8,722.8 C1054.5,724.2 1056.2,735.6 1057.9,751.9 C1059.6,768.2 1061.5,797.6 1063.1,820.5 C1064.7,843.4 1065.9,870.2 1067.3,889.0 C1068.7,907.8 1070.0,924.9 1071.6,933.5 C1073.2,942.1 1074.8,939.2 1076.8,940.4 C1078.8,941.5 1081.6,939.0 1083.6,940.4 C1085.6,941.8 1087.0,946.3 1088.8,948.9 C1090.6,951.5 1092.8,957.8 1094.4,955.8 C1096.1,953.8 1097.3,942.7 1098.7,937.0 C1100.1,931.3 1101.6,922.1 1103.0,921.5 C1104.4,920.9 1106.0,929.5 1107.3,933.5 C1108.6,937.5 1108.8,946.4 1110.7,945.5 C1112.6,944.6 1116.4,927.8 1118.4,928.4 C1120.4,929.0 1121.1,941.2 1122.7,948.9 C1124.3,956.6 1126.1,968.6 1127.8,974.6 C1129.5,980.6 1131.3,983.5 1133.0,984.9 C1134.7,986.3 1136.5,982.1 1138.1,983.2 C1139.7,984.4 1140.7,987.5 1142.4,991.8 C1144.1,996.1 1146.4,1006.9 1148.4,1008.9 C1150.4,1010.9 1152.6,1002.6 1154.4,1003.8 C1156.2,1004.9 1157.7,1011.9 1159.5,1015.8 C1161.3,1019.7 1161.9,1025.5 1165.5,1027.4 L1167.0,1027.4 L1168.9,1027.4 L1171.0,1027.4 L1173.2,1027.4 L1175.4,1027.4 L1177.5,1027.4 L1179.4,1027.4 L1180.9,1027.4 C1184.5,1025.2 1184.8,1020.8 1186.9,1014.0 C1189.1,1007.2 1191.8,988.3 1193.8,986.6 C1195.8,984.9 1197.3,999.5 1198.9,1003.8 C1200.5,1008.1 1201.2,1015.2 1203.2,1012.3 C1205.2,1009.4 1208.6,987.5 1210.9,986.6 C1213.2,985.8 1214.9,1000.6 1216.9,1007.2 C1218.9,1013.8 1221.0,1024.9 1222.9,1026.0 C1224.8,1027.1 1226.5,1021.1 1228.1,1014.0 C1229.7,1006.9 1230.9,993.2 1232.3,983.2 C1233.7,973.2 1235.0,960.1 1236.6,954.1 C1238.2,948.1 1240.1,947.8 1241.8,947.2 C1243.5,946.6 1244.9,952.4 1246.9,950.7 C1248.9,949.0 1251.7,936.4 1253.8,937.0 C1255.9,937.6 1257.8,949.0 1259.4,954.1 C1261.1,959.2 1262.4,970.1 1263.7,967.8 C1265.0,965.5 1265.5,947.2 1267.1,940.4 C1268.7,933.5 1271.2,932.4 1273.1,926.7 C1275.0,921.0 1276.1,913.5 1278.3,906.1 C1280.5,898.7 1283.7,884.4 1286.0,882.1 C1288.3,879.8 1290.0,887.8 1292.0,892.4 C1294.0,897.0 1296.0,904.4 1298.0,909.5 C1300.0,914.6 1302.2,916.1 1304.0,923.2 C1305.8,930.4 1307.2,941.5 1309.1,952.4 C1310.9,963.2 1313.4,987.4 1315.1,988.3 C1316.8,989.1 1318.1,969.8 1319.4,957.5 C1320.7,945.2 1321.7,927.6 1322.8,914.7 C1323.9,901.9 1324.6,885.5 1326.2,880.4 C1327.8,875.2 1330.3,885.2 1332.2,883.8 C1334.1,882.4 1335.8,879.5 1337.4,871.8 C1339.0,864.1 1340.4,851.9 1341.7,837.6 C1343.0,823.3 1343.7,799.6 1345.1,786.2 C1346.5,772.8 1348.3,759.4 1350.2,757.1 C1352.1,754.8 1354.6,773.4 1356.2,772.5 C1357.8,771.6 1358.3,761.0 1359.7,751.9 C1361.1,742.8 1363.1,717.7 1364.8,717.7 C1366.5,717.7 1368.3,739.0 1369.9,751.9 C1371.5,764.8 1372.6,785.4 1374.2,794.8 C1375.8,804.2 1377.2,800.5 1379.4,808.5 C1381.6,816.5 1384.4,841.9 1387.1,842.7 C1389.8,843.6 1393.5,814.5 1395.6,813.6 C1397.7,812.8 1398.3,828.5 1399.9,837.6 C1401.5,846.7 1403.2,868.1 1405.0,868.4 C1406.8,868.7 1409.3,840.4 1411.0,839.3 C1412.7,838.2 1414.4,853.9 1415.3,861.6 C1416.2,869.3 1416.0,881.6 1416.2,885.6" fill="none" stroke="#2a2a2a" stroke-width="3.2" stroke-linejoin="round" stroke-linecap="round"/>
<rect x="928.0" y="637.1" width="493.2" height="394.6" fill="none" stroke="#000" stroke-width="4.0"/>
<line x1="916.5" y1="1026.6" x2="926.5" y2="1026.6" stroke="#6a6a6a" stroke-width="2.2"/>
<line x1="920.0" y1="1014.6" x2="926.5" y2="1014.6" stroke="#6a6a6a" stroke-width="2.2"/>
<line x1="920.0" y1="1002.6" x2="926.5" y2="1002.6" stroke="#6a6a6a" stroke-width="2.2"/>
<line x1="920.0" y1="990.6" x2="926.5" y2="990.6" stroke="#6a6a6a" stroke-width="2.2"/>
<line x1="916.5" y1="978.6" x2="926.5" y2="978.6" stroke="#6a6a6a" stroke-width="2.2"/>
<line x1="920.0" y1="966.7" x2="926.5" y2="966.7" stroke="#6a6a6a" stroke-width="2.2"/>
<line x1="920.0" y1="954.7" x2="926.5" y2="954.7" stroke="#6a6a6a" stroke-width="2.2"/>
<line x1="920.0" y1="942.7" x2="926.5" y2="942.7" stroke="#6a6a6a" stroke-width="2.2"/>
<line x1="916.5" y1="930.7" x2="926.5" y2="930.7" stroke="#6a6a6a" stroke-width="2.2"/>
<line x1="920.0" y1="918.7" x2="926.5" y2="918.7" stroke="#6a6a6a" stroke-width="2.2"/>
<line x1="920.0" y1="906.7" x2="926.5" y2="906.7" stroke="#6a6a6a" stroke-width="2.2"/>
<line x1="920.0" y1="894.7" x2="926.5" y2="894.7" stroke="#6a6a6a" stroke-width="2.2"/>
<line x1="916.5" y1="882.7" x2="926.5" y2="882.7" stroke="#6a6a6a" stroke-width="2.2"/>
<line x1="920.0" y1="870.8" x2="926.5" y2="870.8" stroke="#6a6a6a" stroke-width="2.2"/>
<line x1="920.0" y1="858.8" x2="926.5" y2="858.8" stroke="#6a6a6a" stroke-width="2.2"/>
<line x1="920.0" y1="846.8" x2="926.5" y2="846.8" stroke="#6a6a6a" stroke-width="2.2"/>
<line x1="916.5" y1="834.8" x2="926.5" y2="834.8" stroke="#6a6a6a" stroke-width="2.2"/>
<line x1="920.0" y1="822.8" x2="926.5" y2="822.8" stroke="#6a6a6a" stroke-width="2.2"/>
<line x1="920.0" y1="810.8" x2="926.5" y2="810.8" stroke="#6a6a6a" stroke-width="2.2"/>
<line x1="920.0" y1="798.8" x2="926.5" y2="798.8" stroke="#6a6a6a" stroke-width="2.2"/>
<line x1="916.5" y1="786.8" x2="926.5" y2="786.8" stroke="#6a6a6a" stroke-width="2.2"/>
<line x1="920.0" y1="774.9" x2="926.5" y2="774.9" stroke="#6a6a6a" stroke-width="2.2"/>
<line x1="920.0" y1="762.9" x2="926.5" y2="762.9" stroke="#6a6a6a" stroke-width="2.2"/>
<line x1="920.0" y1="750.9" x2="926.5" y2="750.9" stroke="#6a6a6a" stroke-width="2.2"/>
<line x1="916.5" y1="738.9" x2="926.5" y2="738.9" stroke="#6a6a6a" stroke-width="2.2"/>
<line x1="920.0" y1="726.9" x2="926.5" y2="726.9" stroke="#6a6a6a" stroke-width="2.2"/>
<line x1="920.0" y1="714.9" x2="926.5" y2="714.9" stroke="#6a6a6a" stroke-width="2.2"/>
<line x1="920.0" y1="702.9" x2="926.5" y2="702.9" stroke="#6a6a6a" stroke-width="2.2"/>
<line x1="916.5" y1="690.9" x2="926.5" y2="690.9" stroke="#6a6a6a" stroke-width="2.2"/>
<line x1="920.0" y1="679.0" x2="926.5" y2="679.0" stroke="#6a6a6a" stroke-width="2.2"/>
<line x1="920.0" y1="667.0" x2="926.5" y2="667.0" stroke="#6a6a6a" stroke-width="2.2"/>
<line x1="920.0" y1="655.0" x2="926.5" y2="655.0" stroke="#6a6a6a" stroke-width="2.2"/>
<line x1="916.5" y1="643.0" x2="926.5" y2="643.0" stroke="#6a6a6a" stroke-width="2.2"/>
<text x="899.7" y="1029.1" text-anchor="middle" font-size="31.0">0</text>
<text x="899.7" y="981.8" text-anchor="middle" font-size="31.0">2</text>
<text x="899.7" y="934.6" text-anchor="middle" font-size="31.0">4</text>
<text x="899.7" y="887.4" text-anchor="middle" font-size="31.0">6</text>
<text x="899.7" y="840.1" text-anchor="middle" font-size="31.0">8</text>
<text x="895.8" y="792.9" text-anchor="middle" font-size="31.0">10</text>
<text x="895.8" y="745.6" text-anchor="middle" font-size="31.0">12</text>
<text x="895.8" y="698.4" text-anchor="middle" font-size="31.0">14</text>
<text x="895.8" y="651.2" text-anchor="middle" font-size="31.0">16</text>
<line x1="936.2" y1="1033.2" x2="936.2" y2="1042.7" stroke="#777" stroke-width="2"/>
<line x1="958.5" y1="1033.2" x2="958.5" y2="1038.2" stroke="#777" stroke-width="2"/>
<line x1="980.8" y1="1033.2" x2="980.8" y2="1038.2" stroke="#777" stroke-width="2"/>
<line x1="1003.1" y1="1033.2" x2="1003.1" y2="1038.2" stroke="#777" stroke-width="2"/>
<line x1="1025.4" y1="1033.2" x2="1025.4" y2="1038.2" stroke="#777" stroke-width="2"/>
<line x1="1047.7" y1="1033.2" x2="1047.7" y2="1042.7" stroke="#777" stroke-width="2"/>
<line x1="1070.0" y1="1033.2" x2="1070.0" y2="1038.2" stroke="#777" stroke-width="2"/>
<line x1="1092.3" y1="1033.2" x2="1092.3" y2="1038.2" stroke="#777" stroke-width="2"/>
<line x1="1114.6" y1="1033.2" x2="1114.6" y2="1038.2" stroke="#777" stroke-width="2"/>
<line x1="1136.9" y1="1033.2" x2="1136.9" y2="1038.2" stroke="#777" stroke-width="2"/>
<line x1="1159.2" y1="1033.2" x2="1159.2" y2="1042.7" stroke="#777" stroke-width="2"/>
<line x1="1181.5" y1="1033.2" x2="1181.5" y2="1038.2" stroke="#777" stroke-width="2"/>
<line x1="1203.8" y1="1033.2" x2="1203.8" y2="1038.2" stroke="#777" stroke-width="2"/>
<line x1="1226.1" y1="1033.2" x2="1226.1" y2="1038.2" stroke="#777" stroke-width="2"/>
<line x1="1248.4" y1="1033.2" x2="1248.4" y2="1038.2" stroke="#777" stroke-width="2"/>
<line x1="1270.7" y1="1033.2" x2="1270.7" y2="1042.7" stroke="#777" stroke-width="2"/>
<line x1="1293.0" y1="1033.2" x2="1293.0" y2="1038.2" stroke="#777" stroke-width="2"/>
<line x1="1315.3" y1="1033.2" x2="1315.3" y2="1038.2" stroke="#777" stroke-width="2"/>
<line x1="1337.6" y1="1033.2" x2="1337.6" y2="1038.2" stroke="#777" stroke-width="2"/>
<line x1="1359.9" y1="1033.2" x2="1359.9" y2="1038.2" stroke="#777" stroke-width="2"/>
<line x1="1382.2" y1="1033.2" x2="1382.2" y2="1042.7" stroke="#777" stroke-width="2"/>
<line x1="1404.5" y1="1033.2" x2="1404.5" y2="1038.2" stroke="#777" stroke-width="2"/>
<text x="941.0" y="1071.4" text-anchor="middle" font-size="32.0">-15</text>
<text x="1045.6" y="1073.0" text-anchor="middle" font-size="32.0">-10</text>
<text x="1160.0" y="1072.3" text-anchor="middle" font-size="32.0">-5</text>
<text x="1269.3" y="1071.0" text-anchor="middle" font-size="32.0">0</text>
<text x="1382.1" y="1070.0" text-anchor="middle" font-size="32.0">5</text>
<text x="1100.8" y="1106.1" font-size="32.0" textLength="158.8" lengthAdjust="spacingAndGlyphs">Energy (<tspan font-style="italic">eV</tspan>)</text>
<text transform="translate(865.7,925.9) rotate(-90)" font-size="34.0" textLength="233.2" lengthAdjust="spacingAndGlyphs">Relative Intensity</text>
<line x1="1423.3" y1="650.4" x2="1434.2" y2="650.4" stroke="#e8202a" stroke-width="4"/>
<line x1="1423.3" y1="680.2" x2="1434.2" y2="680.2" stroke="#1aa03a" stroke-width="4"/>
<line x1="1423.3" y1="708.9" x2="1434.2" y2="708.9" stroke="#000" stroke-width="4"/>
<text x="1441.7" y="653.6" font-size="32.0" textLength="124.7" lengthAdjust="spacingAndGlyphs">Acceptor</text>
<text x="1444.4" y="688.8" font-size="32.0" textLength="85.7" lengthAdjust="spacingAndGlyphs">Donor</text>
<text x="1445.5" y="721.4" font-size="32.0" textLength="70.0" lengthAdjust="spacingAndGlyphs">Total</text>
</g>
<text x="1145.9" y="1182.7" font-size="42.0" textLength="86.8" lengthAdjust="spacingAndGlyphs" class="cap">MD4</text>
<g filter="url(#soft)"><path d="M96.4,1585.4 C97.4,1581.0 100.3,1561.6 102.1,1559.1 C103.9,1556.6 105.3,1566.2 107.1,1570.6 C108.9,1575.0 110.5,1583.8 112.8,1585.4 C115.1,1587.0 117.8,1579.0 121.0,1580.4 C124.2,1581.8 128.5,1594.1 131.7,1593.6 C134.8,1593.1 137.4,1582.7 139.9,1577.2 C142.4,1571.7 144.2,1564.4 146.4,1560.8 C148.6,1557.2 151.1,1557.7 153.0,1555.8 C154.9,1553.9 156.0,1553.9 157.9,1549.3 C159.8,1544.7 162.3,1529.0 164.5,1527.9 C166.7,1526.8 168.9,1537.8 171.1,1542.7 C173.3,1547.6 175.8,1554.2 177.6,1557.5 C179.4,1560.8 180.0,1565.4 181.7,1562.4 C183.3,1559.4 185.7,1546.0 187.5,1539.4 C189.3,1532.8 190.9,1526.5 192.4,1523.0 C193.9,1519.5 194.9,1516.4 196.5,1518.1 C198.1,1519.8 200.1,1528.0 202.2,1532.9 C204.2,1537.8 206.9,1550.6 208.8,1547.6 C210.7,1544.6 211.8,1526.3 213.7,1514.8 C215.6,1503.3 218.4,1478.7 220.3,1478.7 C222.2,1478.7 223.3,1502.0 225.2,1514.8 C227.1,1527.6 229.6,1545.4 231.8,1555.8 C234.0,1566.2 235.9,1571.5 238.4,1577.2 C240.9,1583.0 244.2,1589.5 246.6,1590.3 C249.0,1591.1 251.2,1583.8 253.1,1582.1 C255.0,1580.4 256.5,1580.2 258.0,1580.4 C259.5,1580.6 260.6,1581.9 262.0,1583.0 C263.4,1584.1 265.0,1583.9 266.6,1587.0 C268.2,1590.1 269.7,1598.0 271.5,1601.8 C273.3,1605.6 275.3,1610.8 277.2,1610.0 C279.1,1609.2 280.9,1601.3 283.0,1596.9 C285.1,1592.5 287.3,1585.1 289.5,1583.7 C291.7,1582.3 293.9,1587.6 296.1,1588.7 C298.3,1589.8 300.8,1590.6 302.7,1590.3 C304.6,1590.0 305.7,1585.3 307.6,1587.0 C309.5,1588.7 312.4,1596.9 314.2,1600.2 C316.0,1603.5 316.5,1606.4 318.3,1606.7 C320.1,1607.0 322.8,1600.7 324.8,1601.8 C326.9,1602.9 328.6,1610.0 330.6,1613.3 C332.7,1616.6 333.6,1620.1 337.1,1621.5 L338.6,1621.5 L340.3,1621.5 L342.3,1621.5 L344.3,1621.5 L346.3,1621.5 L348.4,1621.5 L350.2,1621.5 L351.9,1621.5 C356.0,1621.2 358.2,1620.2 361.8,1619.8 C365.4,1619.4 369.6,1620.4 373.2,1619.0 C376.8,1617.6 379.8,1611.7 383.1,1611.6 C386.4,1611.5 390.4,1617.7 392.9,1618.2 C395.4,1618.8 395.8,1617.1 397.9,1614.9 C399.9,1612.7 402.5,1605.1 405.2,1605.1 C407.9,1605.1 410.9,1616.0 414.3,1614.9 C417.7,1613.8 422.2,1600.1 425.8,1598.5 C429.4,1596.9 432.8,1606.7 435.9,1605.1 C438.9,1603.5 441.9,1594.7 444.1,1588.7 C446.3,1582.7 447.3,1574.5 449.1,1569.0 C450.9,1563.5 452.9,1556.3 454.8,1555.8 C456.7,1555.2 458.4,1560.2 460.5,1565.7 C462.6,1571.2 465.0,1583.5 467.1,1588.7 C469.2,1593.9 470.4,1597.5 472.9,1596.9 C475.4,1596.4 479.4,1586.2 481.9,1585.4 C484.3,1584.6 485.8,1589.2 487.6,1591.9 C489.4,1594.6 490.4,1606.5 492.5,1601.8 C494.6,1597.1 497.7,1573.3 499.9,1564.0 C502.1,1554.7 503.8,1548.5 505.7,1546.0 C507.6,1543.5 509.6,1551.0 511.4,1549.3 C513.2,1547.6 514.5,1541.6 516.3,1536.1 C518.1,1530.6 520.2,1518.0 522.1,1516.4 C524.0,1514.8 526.2,1524.1 527.8,1526.3 C529.4,1528.5 530.2,1532.9 531.9,1529.6 C533.5,1526.3 535.9,1513.2 537.7,1506.6 C539.5,1500.0 540.8,1490.8 542.6,1490.2 C544.4,1489.7 546.5,1499.8 548.3,1503.3 C550.1,1506.8 551.8,1509.6 553.3,1511.5 C554.8,1513.4 555.6,1510.7 557.4,1514.8 C559.2,1518.9 561.7,1531.2 563.9,1536.1 C566.1,1541.0 568.6,1539.6 570.5,1544.3 C572.4,1549.0 573.8,1558.2 575.4,1564.0 C577.0,1569.8 578.8,1578.8 580.4,1578.8 C582.0,1578.8 583.8,1568.9 585.3,1564.0 C586.8,1559.1 587.9,1549.0 589.4,1549.3 C590.9,1549.6 593.5,1563.0 594.3,1565.7" fill="none" stroke="#259a25" stroke-width="3.0" stroke-linejoin="round" stroke-linecap="round"/>
<path d="M96.4,1606.7 C97.1,1603.7 99.0,1593.4 100.5,1588.7 C102.0,1584.0 103.8,1580.7 105.4,1578.8 C107.0,1576.9 108.7,1579.4 110.3,1577.2 C111.9,1575.0 113.6,1569.0 115.3,1565.7 C117.0,1562.4 118.7,1557.8 120.2,1557.5 C121.7,1557.2 122.9,1562.1 124.3,1564.0 C125.7,1565.9 126.9,1571.7 128.4,1569.0 C129.9,1566.3 131.7,1555.3 133.3,1547.6 C134.9,1539.9 136.5,1529.8 138.2,1523.0 C139.8,1516.2 141.5,1511.5 143.2,1506.6 C144.8,1501.7 146.5,1497.3 148.1,1493.5 C149.7,1489.7 151.5,1483.1 153.0,1483.6 C154.5,1484.1 155.7,1488.0 157.1,1496.7 C158.5,1505.5 159.8,1526.0 161.2,1536.1 C162.6,1546.2 163.9,1557.0 165.3,1557.5 C166.7,1558.0 167.9,1547.3 169.4,1539.4 C170.9,1531.5 172.8,1516.7 174.3,1509.9 C175.8,1503.1 176.9,1501.7 178.4,1498.4 C179.9,1495.1 181.9,1493.5 183.4,1490.2 C184.9,1486.9 186.1,1481.4 187.5,1478.7 C188.9,1476.0 190.1,1473.0 191.6,1473.8 C193.1,1474.6 195.0,1478.4 196.5,1483.6 C198.0,1488.8 199.2,1497.9 200.6,1505.0 C202.0,1512.1 203.2,1525.5 204.7,1526.3 C206.2,1527.1 208.1,1518.7 209.6,1509.9 C211.1,1501.2 212.5,1481.7 213.7,1473.8 C214.9,1465.9 215.9,1461.5 217.0,1462.3 C218.1,1463.1 219.1,1468.6 220.3,1478.7 C221.5,1488.8 222.8,1510.7 224.4,1523.0 C226.0,1535.3 228.2,1543.0 230.1,1552.6 C232.0,1562.2 234.4,1575.8 235.9,1580.4 C237.4,1585.0 238.0,1585.9 239.2,1580.4 C240.4,1574.9 241.5,1557.2 243.3,1547.6 C245.1,1538.0 247.9,1525.5 249.8,1523.0 C251.7,1520.5 253.1,1529.4 254.8,1532.9 C256.5,1536.5 258.3,1541.0 260.0,1544.3 C261.7,1547.6 263.3,1549.6 264.9,1552.6 C266.5,1555.6 267.9,1559.4 269.8,1562.4 C271.7,1565.4 274.3,1567.3 276.4,1570.6 C278.5,1573.9 280.3,1579.6 282.2,1582.1 C284.1,1584.6 286.1,1582.7 287.9,1585.4 C289.7,1588.1 291.2,1594.4 292.8,1598.5 C294.4,1602.6 295.5,1607.3 297.7,1610.0 C299.9,1612.7 303.0,1613.5 306.0,1614.9 C309.0,1616.3 312.5,1617.4 315.8,1618.2 C319.1,1619.0 322.1,1619.2 325.6,1619.8 C329.2,1620.3 332.7,1621.2 337.1,1621.5 L338.8,1621.5 L340.8,1621.5 L342.8,1621.5 L344.8,1621.5 L346.8,1621.5 L348.7,1621.5 L350.4,1621.5 L351.9,1621.5 C355.5,1619.0 356.2,1611.4 358.5,1606.7 C360.8,1602.0 363.4,1593.6 365.9,1593.6 C368.3,1593.6 370.3,1605.9 373.2,1606.7 C376.1,1607.5 379.8,1597.1 383.1,1598.5 C386.4,1599.9 390.4,1614.6 392.9,1614.9 C395.4,1615.2 396.2,1605.1 397.9,1600.2 C399.5,1595.3 400.6,1586.0 402.8,1585.4 C405.0,1584.9 408.5,1596.9 411.0,1596.9 C413.5,1596.9 414.9,1588.4 417.6,1585.4 C420.3,1582.4 424.5,1578.5 427.4,1578.8 C430.3,1579.1 433.0,1588.6 435.1,1587.0 C437.2,1585.4 438.5,1572.8 440.0,1569.0 C441.5,1565.2 442.7,1564.3 444.1,1564.0 C445.5,1563.7 446.7,1570.0 448.2,1567.3 C449.7,1564.6 451.4,1553.3 453.2,1547.6 C455.0,1541.9 457.0,1531.8 458.9,1532.9 C460.8,1534.0 462.3,1545.7 464.6,1554.2 C466.9,1562.7 470.1,1582.6 472.9,1583.7 C475.6,1584.8 478.8,1561.3 481.1,1560.8 C483.4,1560.2 484.8,1572.5 486.8,1580.4 C488.9,1588.3 491.2,1609.7 493.4,1608.3 C495.6,1606.9 498.0,1581.0 499.9,1572.2 C501.8,1563.5 503.0,1559.6 504.9,1555.8 C506.8,1552.0 509.6,1554.8 511.4,1549.3 C513.2,1543.8 514.1,1530.7 515.5,1523.0 C516.9,1515.3 518.0,1503.8 519.6,1503.3 C521.2,1502.8 523.8,1515.9 525.4,1519.7 C527.0,1523.5 528.0,1531.2 529.5,1526.3 C531.0,1521.4 532.9,1503.0 534.4,1490.2 C535.9,1477.4 537.1,1458.5 538.5,1449.2 C539.9,1439.9 541.1,1433.0 542.6,1434.4 C544.1,1435.8 545.9,1445.4 547.5,1457.4 C549.1,1469.4 550.9,1490.2 552.5,1506.6 C554.1,1523.0 555.5,1541.8 557.4,1555.8 C559.3,1569.8 561.7,1587.0 563.9,1590.3 C566.1,1593.6 568.0,1580.7 570.5,1575.5 C573.0,1570.3 576.1,1564.3 578.7,1559.1 C581.3,1553.9 584.1,1544.8 586.1,1544.3 C588.1,1543.8 589.5,1549.5 591.0,1555.8 C592.5,1562.1 594.4,1577.7 595.1,1582.1" fill="none" stroke="#ff3434" stroke-width="3.0" stroke-linejoin="round" stroke-linecap="round"/>
<path d="M96.4,1575.5 C97.0,1569.5 98.5,1549.0 99.7,1539.4 C100.9,1529.8 102.4,1519.7 103.8,1518.1 C105.2,1516.5 106.5,1525.8 107.9,1529.6 C109.3,1533.4 110.5,1541.1 112.0,1541.1 C113.5,1541.1 115.4,1533.4 116.9,1529.6 C118.4,1525.8 119.6,1518.6 121.0,1518.1 C122.4,1517.5 123.6,1523.3 125.1,1526.3 C126.6,1529.3 128.5,1538.0 130.0,1536.1 C131.5,1534.2 132.7,1523.8 134.1,1514.8 C135.5,1505.8 136.7,1492.9 138.2,1482.0 C139.7,1471.1 141.5,1458.2 143.2,1449.2 C144.8,1440.2 146.6,1432.7 148.1,1427.8 C149.6,1422.9 150.8,1419.3 152.2,1419.6 C153.6,1419.9 154.8,1423.5 156.3,1429.5 C157.8,1435.5 159.7,1450.2 161.2,1455.7 C162.7,1461.2 163.8,1463.4 165.3,1462.3 C166.8,1461.2 168.7,1453.8 170.2,1449.2 C171.7,1444.6 173.2,1437.2 174.3,1434.4 C175.4,1431.7 175.6,1432.7 176.8,1432.7 C178.0,1432.7 180.2,1437.1 181.7,1434.4 C183.2,1431.7 184.4,1424.0 185.8,1416.3 C187.2,1408.6 188.5,1395.2 189.9,1388.4 C191.3,1381.6 192.5,1374.2 194.0,1375.3 C195.5,1376.4 197.3,1385.4 199.0,1395.0 C200.7,1404.6 202.5,1423.1 203.9,1432.7 C205.3,1442.3 206.0,1453.8 207.2,1452.4 C208.4,1451.0 209.9,1440.1 211.3,1424.5 C212.7,1408.9 214.2,1374.2 215.4,1358.9 C216.6,1343.6 217.5,1334.0 218.7,1332.6 C219.9,1331.2 221.4,1338.1 222.8,1350.7 C224.2,1363.3 225.7,1390.3 226.9,1408.1 C228.1,1425.9 229.0,1441.0 230.1,1457.4 C231.2,1473.8 232.3,1495.1 233.4,1506.6 C234.5,1518.1 235.7,1521.6 236.7,1526.3 C237.7,1531.0 238.1,1535.0 239.2,1534.5 C240.3,1534.0 242.1,1528.5 243.3,1523.0 C244.5,1517.5 245.2,1507.2 246.6,1501.7 C248.0,1496.2 249.9,1490.5 251.5,1490.2 C253.1,1489.9 254.8,1497.3 256.4,1500.0 C258.0,1502.7 259.9,1504.9 261.3,1506.6 C262.7,1508.2 263.5,1505.8 264.9,1509.9 C266.3,1514.0 268.0,1524.1 269.8,1531.2 C271.6,1538.3 273.8,1547.9 275.6,1552.6 C277.4,1557.2 279.0,1559.6 280.5,1559.1 C282.0,1558.5 283.2,1552.6 284.6,1549.3 C286.0,1546.0 287.3,1538.9 288.7,1539.4 C290.1,1540.0 291.3,1546.3 292.8,1552.6 C294.3,1558.9 296.1,1571.7 297.7,1577.2 C299.3,1582.7 301.0,1584.3 302.7,1585.4 C304.4,1586.5 306.0,1582.3 307.6,1583.7 C309.2,1585.1 310.7,1589.8 312.5,1593.6 C314.3,1597.4 316.2,1605.3 318.3,1606.7 C320.4,1608.1 322.8,1600.7 324.8,1601.8 C326.9,1602.9 328.6,1610.0 330.6,1613.3 C332.7,1616.6 333.6,1620.1 337.1,1621.5 L338.6,1621.5 L340.4,1621.5 L342.4,1621.5 L344.5,1621.5 L346.6,1621.5 L348.6,1621.5 L350.4,1621.5 L351.9,1621.5 C355.5,1618.8 356.2,1610.3 358.5,1605.1 C360.8,1599.9 363.4,1590.3 365.9,1590.3 C368.3,1590.3 370.3,1605.1 373.2,1605.1 C376.1,1605.1 380.4,1590.3 383.1,1590.3 C385.9,1590.3 387.9,1601.3 389.7,1605.1 C391.5,1608.9 392.3,1615.2 393.8,1613.3 C395.3,1611.4 396.9,1600.2 398.7,1593.6 C400.5,1587.0 402.8,1575.8 404.4,1573.9 C406.0,1572.0 407.1,1579.4 408.5,1582.1 C409.9,1584.8 411.0,1591.9 412.6,1590.3 C414.2,1588.7 416.1,1578.5 418.4,1572.2 C420.7,1565.9 424.5,1553.7 426.6,1552.6 C428.7,1551.5 429.6,1562.4 431.0,1565.7 C432.4,1569.0 433.7,1574.4 435.1,1572.2 C436.5,1570.0 437.4,1559.7 439.2,1552.6 C441.0,1545.5 443.9,1537.3 445.8,1529.6 C447.7,1521.9 448.8,1516.2 450.7,1506.6 C452.6,1497.0 455.5,1476.2 457.3,1472.1 C459.1,1468.0 459.9,1473.5 461.4,1482.0 C462.9,1490.5 464.5,1509.6 466.3,1523.0 C468.1,1536.4 470.1,1559.7 472.0,1562.4 C473.9,1565.1 476.2,1545.7 477.8,1539.4 C479.4,1533.1 480.4,1523.2 481.9,1524.6 C483.4,1526.0 485.0,1537.8 486.8,1547.6 C488.6,1557.4 490.9,1582.3 492.5,1583.7 C494.1,1585.1 495.4,1567.3 496.6,1555.8 C497.8,1544.3 498.5,1527.1 499.9,1514.8 C501.3,1502.5 503.0,1488.3 504.9,1482.0 C506.8,1475.7 509.6,1483.9 511.4,1477.1 C513.2,1470.3 514.4,1452.5 515.5,1441.0 C516.6,1429.5 517.2,1414.9 518.0,1408.1 C518.8,1401.2 519.2,1398.5 520.4,1399.9 C521.6,1401.3 523.9,1411.4 525.4,1416.3 C526.9,1421.2 528.1,1430.9 529.5,1429.5 C530.9,1428.1 532.2,1422.6 533.6,1408.1 C535.0,1393.6 536.2,1360.0 537.7,1342.5 C539.2,1325.0 541.1,1305.8 542.6,1303.1 C544.1,1300.4 545.3,1314.1 546.7,1326.1 C548.1,1338.1 549.3,1357.5 550.8,1375.3 C552.3,1393.1 554.1,1414.9 555.7,1432.7 C557.4,1450.5 559.1,1469.1 560.7,1482.0 C562.4,1494.9 564.0,1506.1 565.6,1509.9 C567.2,1513.7 569.0,1504.2 570.5,1505.0 C572.0,1505.8 573.2,1512.3 574.6,1514.8 C576.0,1517.2 577.2,1522.4 578.7,1519.7 C580.2,1517.0 582.0,1505.0 583.6,1498.4 C585.2,1491.8 587.2,1480.0 588.6,1480.3 C590.0,1480.6 590.7,1492.3 591.8,1500.0 C592.9,1507.7 594.5,1521.9 595.1,1526.3" fill="none" stroke="#2a2a2a" stroke-width="3.2" stroke-linejoin="round" stroke-linecap="round"/>
<rect x="90.9" y="1248.7" width="507.8" height="377.6" fill="none" stroke="#000" stroke-width="4.0"/>
<line x1="79.4" y1="1620.7" x2="89.4" y2="1620.7" stroke="#6a6a6a" stroke-width="2.2"/>
<line x1="85.4" y1="1602.5" x2="89.4" y2="1602.5" stroke="#6a6a6a" stroke-width="2.2"/>
<line x1="85.4" y1="1584.2" x2="89.4" y2="1584.2" stroke="#6a6a6a" stroke-width="2.2"/>
<line x1="85.4" y1="1566.0" x2="89.4" y2="1566.0" stroke="#6a6a6a" stroke-width="2.2"/>
<line x1="85.4" y1="1547.7" x2="89.4" y2="1547.7" stroke="#6a6a6a" stroke-width="2.2"/>
<line x1="79.4" y1="1529.5" x2="89.4" y2="1529.5" stroke="#6a6a6a" stroke-width="2.2"/>
<line x1="85.4" y1="1511.3" x2="89.4" y2="1511.3" stroke="#6a6a6a" stroke-width="2.2"/>
<line x1="85.4" y1="1493.0" x2="89.4" y2="1493.0" stroke="#6a6a6a" stroke-width="2.2"/>
<line x1="85.4" y1="1474.8" x2="89.4" y2="1474.8" stroke="#6a6a6a" stroke-width="2.2"/>
<line x1="85.4" y1="1456.5" x2="89.4" y2="1456.5" stroke="#6a6a6a" stroke-width="2.2"/>
<line x1="79.4" y1="1438.3" x2="89.4" y2="1438.3" stroke="#6a6a6a" stroke-width="2.2"/>
<line x1="85.4" y1="1420.1" x2="89.4" y2="1420.1" stroke="#6a6a6a" stroke-width="2.2"/>
<line x1="85.4" y1="1401.8" x2="89.4" y2="1401.8" stroke="#6a6a6a" stroke-width="2.2"/>
<line x1="85.4" y1="1383.6" x2="89.4" y2="1383.6" stroke="#6a6a6a" stroke-width="2.2"/>
<line x1="85.4" y1="1365.3" x2="89.4" y2="1365.3" stroke="#6a6a6a" stroke-width="2.2"/>
<line x1="79.4" y1="1347.1" x2="89.4" y2="1347.1" stroke="#6a6a6a" stroke-width="2.2"/>
<line x1="85.4" y1="1328.9" x2="89.4" y2="1328.9" stroke="#6a6a6a" stroke-width="2.2"/>
<line x1="85.4" y1="1310.6" x2="89.4" y2="1310.6" stroke="#6a6a6a" stroke-width="2.2"/>
<line x1="85.4" y1="1292.4" x2="89.4" y2="1292.4" stroke="#6a6a6a" stroke-width="2.2"/>
<line x1="85.4" y1="1274.1" x2="89.4" y2="1274.1" stroke="#6a6a6a" stroke-width="2.2"/>
<line x1="79.4" y1="1255.9" x2="89.4" y2="1255.9" stroke="#6a6a6a" stroke-width="2.2"/>
<text x="59.8" y="1625.1" text-anchor="middle" font-size="31.0">0</text>
<text x="59.8" y="1534.6" text-anchor="middle" font-size="31.0">5</text>
<text x="56.5" y="1444.1" text-anchor="middle" font-size="31.0">10</text>
<text x="56.5" y="1353.6" text-anchor="middle" font-size="31.0">15</text>
<text x="56.5" y="1263.1" text-anchor="middle" font-size="31.0">20</text>
<line x1="99.2" y1="1627.8" x2="99.2" y2="1637.3" stroke="#777" stroke-width="2"/>
<line x1="122.2" y1="1627.8" x2="122.2" y2="1632.8" stroke="#777" stroke-width="2"/>
<line x1="145.2" y1="1627.8" x2="145.2" y2="1632.8" stroke="#777" stroke-width="2"/>
<line x1="168.1" y1="1627.8" x2="168.1" y2="1632.8" stroke="#777" stroke-width="2"/>
<line x1="191.1" y1="1627.8" x2="191.1" y2="1632.8" stroke="#777" stroke-width="2"/>
<line x1="214.0" y1="1627.8" x2="214.0" y2="1637.3" stroke="#777" stroke-width="2"/>
<line x1="237.0" y1="1627.8" x2="237.0" y2="1632.8" stroke="#777" stroke-width="2"/>
<line x1="259.9" y1="1627.8" x2="259.9" y2="1632.8" stroke="#777" stroke-width="2"/>
<line x1="282.9" y1="1627.8" x2="282.9" y2="1632.8" stroke="#777" stroke-width="2"/>
<line x1="305.8" y1="1627.8" x2="305.8" y2="1632.8" stroke="#777" stroke-width="2"/>
<line x1="328.8" y1="1627.8" x2="328.8" y2="1637.3" stroke="#777" stroke-width="2"/>
<line x1="351.7" y1="1627.8" x2="351.7" y2="1632.8" stroke="#777" stroke-width="2"/>
<line x1="374.6" y1="1627.8" x2="374.6" y2="1632.8" stroke="#777" stroke-width="2"/>
<line x1="397.6" y1="1627.8" x2="397.6" y2="1632.8" stroke="#777" stroke-width="2"/>
<line x1="420.6" y1="1627.8" x2="420.6" y2="1632.8" stroke="#777" stroke-width="2"/>
<line x1="443.5" y1="1627.8" x2="443.5" y2="1637.3" stroke="#777" stroke-width="2"/>
<line x1="466.4" y1="1627.8" x2="466.4" y2="1632.8" stroke="#777" stroke-width="2"/>
<line x1="489.4" y1="1627.8" x2="489.4" y2="1632.8" stroke="#777" stroke-width="2"/>
<line x1="512.4" y1="1627.8" x2="512.4" y2="1632.8" stroke="#777" stroke-width="2"/>
<line x1="535.3" y1="1627.8" x2="535.3" y2="1632.8" stroke="#777" stroke-width="2"/>
<line x1="558.2" y1="1627.8" x2="558.2" y2="1637.3" stroke="#777" stroke-width="2"/>
<line x1="581.2" y1="1627.8" x2="581.2" y2="1632.8" stroke="#777" stroke-width="2"/>
<text x="96.8" y="1670.7" text-anchor="middle" font-size="32.0">-15</text>
<text x="213.6" y="1671.8" text-anchor="middle" font-size="32.0">-10</text>
<text x="323.4" y="1670.4" text-anchor="middle" font-size="32.0">-5</text>
<text x="441.3" y="1670.4" text-anchor="middle" font-size="32.0">0</text>
<text x="553.8" y="1670.4" text-anchor="middle" font-size="32.0">5</text>
<text x="260.6" y="1702.0" font-size="32.0" textLength="158.3" lengthAdjust="spacingAndGlyphs">Energy (<tspan font-style="italic">eV</tspan>)</text>
<text transform="translate(29.0,1538.4) rotate(-90)" font-size="34.0" textLength="235.7" lengthAdjust="spacingAndGlyphs">Relative Intensity</text>
<line x1="601.0" y1="1263.6" x2="613.0" y2="1263.6" stroke="#e8202a" stroke-width="4"/>
<line x1="601.0" y1="1294.0" x2="613.0" y2="1294.0" stroke="#1aa03a" stroke-width="4"/>
<line x1="601.0" y1="1328.7" x2="613.0" y2="1328.7" stroke="#000" stroke-width="4"/>
<text x="618.5" y="1266.3" font-size="32.0" textLength="124.7" lengthAdjust="spacingAndGlyphs">Acceptor</text>
<text x="619.6" y="1304.3" font-size="32.0" textLength="85.6" lengthAdjust="spacingAndGlyphs">Donor</text>
<text x="621.2" y="1340.6" font-size="32.0" textLength="71.0" lengthAdjust="spacingAndGlyphs">Total</text>
</g>
<text x="279.2" y="1782.4" font-size="42.0" textLength="87.7" lengthAdjust="spacingAndGlyphs" class="cap">MD5</text>
<g filter="url(#soft)"><path d="M911.5,1581.8 C912.5,1577.4 915.4,1556.9 917.3,1555.2 C919.2,1553.5 921.2,1567.4 923.1,1571.8 C925.0,1576.2 926.5,1580.7 928.9,1581.8 C931.3,1582.9 934.1,1576.8 937.3,1578.5 C940.5,1580.2 945.1,1591.8 948.1,1591.8 C951.1,1591.8 953.1,1584.6 955.5,1578.5 C957.9,1572.4 960.1,1559.9 962.2,1555.2 C964.3,1550.5 966.1,1552.7 968.0,1550.2 C969.9,1547.7 971.7,1543.8 973.8,1540.2 C975.9,1536.6 978.0,1527.5 980.5,1528.6 C983.0,1529.7 986.0,1541.1 988.8,1546.9 C991.6,1552.7 994.6,1564.9 997.1,1563.5 C999.6,1562.1 1001.3,1546.6 1003.8,1538.6 C1006.3,1530.6 1009.6,1517.0 1012.1,1515.3 C1014.6,1513.6 1016.6,1522.8 1018.7,1528.6 C1020.8,1534.4 1022.5,1551.9 1024.5,1550.2 C1026.5,1548.5 1028.3,1531.1 1030.4,1518.6 C1032.5,1506.1 1035.1,1478.2 1037.0,1475.4 C1038.9,1472.6 1040.5,1489.2 1042.0,1502.0 C1043.5,1514.8 1044.7,1540.0 1046.1,1551.9 C1047.5,1563.8 1048.5,1568.8 1050.3,1573.5 C1052.1,1578.2 1054.9,1577.3 1057.0,1580.1 C1059.1,1582.9 1060.2,1590.4 1062.8,1590.1 C1065.4,1589.8 1069.6,1579.6 1072.7,1578.5 C1075.8,1577.4 1079.0,1579.9 1081.6,1583.5 C1084.2,1587.1 1086.2,1595.9 1088.3,1600.1 C1090.4,1604.2 1092.2,1609.5 1094.1,1608.4 C1096.0,1607.3 1098.1,1597.6 1099.9,1593.4 C1101.7,1589.2 1103.0,1584.3 1104.9,1583.5 C1106.9,1582.7 1109.4,1586.8 1111.6,1588.5 C1113.8,1590.2 1116.3,1593.1 1118.2,1593.4 C1120.1,1593.7 1121.2,1588.7 1123.2,1590.1 C1125.2,1591.5 1128.1,1598.8 1129.9,1601.8 C1131.7,1604.8 1132.1,1608.1 1134.0,1608.4 C1135.9,1608.7 1139.4,1602.6 1141.5,1603.4 C1143.6,1604.2 1144.6,1610.7 1146.5,1613.4 C1148.4,1616.1 1149.5,1618.7 1153.1,1619.8 L1154.6,1619.8 L1156.4,1619.8 L1158.3,1619.8 L1160.4,1619.8 L1162.5,1619.8 L1164.5,1619.8 L1166.4,1619.8 L1168.1,1619.8 C1172.3,1619.6 1174.8,1618.9 1178.1,1618.4 C1181.4,1617.9 1184.7,1618.1 1188.0,1616.7 C1191.3,1615.3 1194.4,1610.1 1198.0,1610.1 C1201.6,1610.1 1206.7,1616.4 1209.7,1616.7 C1212.8,1617.0 1214.0,1613.9 1216.3,1611.7 C1218.6,1609.5 1221.2,1603.4 1223.8,1603.4 C1226.4,1603.4 1229.6,1612.0 1232.1,1611.7 C1234.6,1611.4 1236.9,1604.8 1238.8,1601.8 C1240.7,1598.8 1241.4,1593.1 1243.7,1593.4 C1246.0,1593.7 1250.1,1604.0 1252.7,1603.4 C1255.3,1602.9 1257.1,1595.9 1259.3,1590.1 C1261.5,1584.3 1263.8,1574.3 1265.9,1568.5 C1268.0,1562.7 1269.6,1554.9 1271.8,1555.2 C1274.0,1555.5 1277.1,1564.9 1279.3,1570.2 C1281.5,1575.5 1283.3,1582.4 1285.1,1586.8 C1286.9,1591.2 1287.5,1597.1 1290.1,1596.8 C1292.7,1596.5 1297.6,1585.1 1300.9,1585.1 C1304.2,1585.1 1307.5,1599.6 1310.0,1596.8 C1312.5,1594.0 1313.9,1576.5 1315.8,1568.5 C1317.7,1560.5 1319.6,1552.2 1321.6,1548.6 C1323.5,1545.0 1325.4,1550.5 1327.5,1546.9 C1329.6,1543.3 1331.8,1532.3 1334.1,1527.0 C1336.4,1521.7 1339.0,1514.8 1341.6,1515.3 C1344.2,1515.8 1347.6,1532.5 1349.9,1530.3 C1352.2,1528.1 1353.6,1508.9 1355.7,1502.0 C1357.8,1495.1 1360.0,1487.9 1362.4,1488.7 C1364.8,1489.5 1367.7,1502.6 1369.9,1507.0 C1372.1,1511.4 1373.6,1511.1 1375.7,1515.3 C1377.8,1519.5 1380.1,1527.8 1382.3,1531.9 C1384.5,1536.1 1387.2,1535.5 1389.0,1540.2 C1390.8,1544.9 1391.7,1553.6 1393.1,1560.2 C1394.5,1566.8 1395.6,1576.5 1397.3,1580.1 C1399.0,1583.7 1401.0,1580.4 1403.1,1581.8 C1405.2,1583.2 1408.7,1587.4 1409.8,1588.5" fill="none" stroke="#259a25" stroke-width="3.0" stroke-linejoin="round" stroke-linecap="round"/>
<path d="M911.5,1610.1 C912.3,1607.3 914.7,1599.8 916.5,1593.4 C918.3,1587.0 920.5,1576.8 922.3,1571.8 C924.1,1566.8 925.6,1562.9 927.3,1563.5 C929.0,1564.1 930.5,1571.0 932.3,1575.2 C934.1,1579.4 936.2,1586.0 938.1,1588.5 C940.0,1591.0 942.1,1589.5 943.9,1590.1 C945.7,1590.6 947.2,1592.6 948.9,1591.8 C950.6,1591.0 952.2,1590.4 953.9,1585.1 C955.6,1579.8 957.4,1568.0 958.9,1560.2 C960.4,1552.5 961.6,1543.6 963.0,1538.6 C964.4,1533.6 965.7,1528.9 967.2,1530.3 C968.7,1531.7 970.4,1540.5 972.2,1546.9 C974.0,1553.3 976.1,1567.7 978.0,1568.5 C979.9,1569.3 982.0,1560.2 983.8,1551.9 C985.6,1543.6 987.1,1526.6 988.8,1518.6 C990.5,1510.6 992.1,1502.3 993.8,1503.7 C995.5,1505.1 997.1,1517.8 998.8,1526.9 C1000.5,1536.0 1002.1,1558.5 1003.8,1558.5 C1005.4,1558.5 1007.2,1540.5 1008.7,1526.9 C1010.2,1513.3 1011.2,1490.4 1012.9,1477.1 C1014.6,1463.8 1016.9,1447.9 1018.7,1447.1 C1020.5,1446.3 1022.0,1463.2 1023.7,1472.1 C1025.4,1481.0 1027.0,1498.6 1028.7,1500.3 C1030.4,1502.0 1032.3,1487.8 1033.7,1482.0 C1035.1,1476.2 1035.6,1463.5 1037.0,1465.4 C1038.4,1467.4 1040.6,1483.5 1042.0,1493.7 C1043.4,1504.0 1044.2,1514.4 1045.3,1526.9 C1046.4,1539.4 1046.6,1559.9 1048.6,1568.5 C1050.5,1577.1 1054.2,1574.6 1057.0,1578.5 C1059.8,1582.4 1062.8,1588.8 1065.3,1591.8 C1067.8,1594.8 1070.0,1595.4 1071.9,1596.8 C1073.8,1598.2 1075.7,1601.2 1076.9,1600.1 C1078.1,1599.0 1078.1,1594.8 1079.2,1590.1 C1080.3,1585.4 1082.2,1577.1 1083.3,1571.8 C1084.4,1566.5 1084.7,1561.3 1085.8,1558.5 C1086.9,1555.7 1088.5,1553.5 1090.0,1555.2 C1091.5,1556.9 1093.3,1564.9 1095.0,1568.5 C1096.7,1572.1 1098.4,1574.0 1099.9,1576.8 C1101.4,1579.6 1102.7,1580.9 1104.1,1585.1 C1105.5,1589.3 1106.7,1597.4 1108.2,1601.8 C1109.7,1606.2 1110.7,1609.5 1113.2,1611.7 C1115.7,1613.9 1120.2,1614.0 1123.2,1615.1 C1126.2,1616.2 1128.5,1617.6 1131.5,1618.4 C1134.5,1619.2 1137.9,1619.6 1141.5,1619.8 L1142.9,1619.8 L1144.2,1619.8 L1145.7,1619.8 L1147.1,1619.8 L1148.6,1619.8 L1150.0,1619.8 L1151.6,1619.8 L1153.1,1619.8 L1154.7,1619.8 L1156.5,1619.8 L1158.3,1619.8 L1160.1,1619.8 L1161.8,1619.8 L1163.5,1619.8 L1165.0,1619.8 L1166.4,1619.8 C1169.7,1617.9 1171.0,1613.6 1173.1,1608.4 C1175.2,1603.2 1177.0,1589.6 1178.9,1588.5 C1180.8,1587.4 1182.9,1598.5 1184.7,1601.8 C1186.5,1605.1 1187.8,1609.2 1189.7,1608.4 C1191.7,1607.6 1194.2,1599.0 1196.4,1596.8 C1198.6,1594.6 1200.9,1596.5 1203.0,1595.1 C1205.1,1593.7 1206.7,1588.0 1208.8,1588.5 C1210.9,1589.0 1213.0,1598.4 1215.5,1598.4 C1218.0,1598.4 1221.5,1587.9 1223.8,1588.5 C1226.1,1589.1 1227.9,1598.2 1229.6,1601.8 C1231.3,1605.4 1232.1,1611.5 1233.8,1610.1 C1235.5,1608.7 1237.8,1598.4 1239.6,1593.4 C1241.4,1588.4 1242.7,1581.8 1244.6,1580.1 C1246.5,1578.4 1249.0,1586.3 1251.0,1583.5 C1253.0,1580.7 1255.0,1568.2 1256.8,1563.5 C1258.6,1558.8 1260.0,1556.0 1261.8,1555.2 C1263.6,1554.4 1265.9,1560.4 1267.6,1558.5 C1269.3,1556.6 1270.3,1551.9 1271.8,1543.6 C1273.3,1535.3 1275.3,1510.5 1276.8,1508.6 C1278.3,1506.6 1279.4,1522.8 1280.9,1531.9 C1282.4,1541.1 1284.4,1555.7 1285.9,1563.5 C1287.4,1571.3 1288.6,1578.2 1290.1,1578.5 C1291.6,1578.8 1293.2,1568.8 1295.0,1565.2 C1296.8,1561.6 1298.8,1555.0 1300.9,1556.9 C1303.0,1558.8 1305.6,1570.4 1307.5,1576.8 C1309.4,1583.2 1310.5,1594.3 1312.5,1595.1 C1314.5,1595.9 1316.7,1585.7 1319.2,1581.8 C1321.7,1577.9 1324.6,1577.1 1327.5,1571.8 C1330.4,1566.5 1334.1,1551.0 1336.6,1550.2 C1339.1,1549.4 1340.6,1561.5 1342.4,1566.8 C1344.2,1572.1 1345.6,1583.7 1347.4,1581.8 C1349.2,1579.9 1351.1,1563.5 1353.2,1555.2 C1355.3,1546.9 1357.5,1533.6 1359.9,1531.9 C1362.3,1530.2 1365.3,1539.7 1367.4,1545.2 C1369.5,1550.8 1370.8,1559.9 1372.4,1565.2 C1374.1,1570.5 1375.4,1578.2 1377.3,1576.8 C1379.2,1575.4 1382.0,1557.7 1384.0,1556.9 C1386.0,1556.1 1387.3,1567.9 1389.0,1571.8 C1390.7,1575.7 1391.8,1582.3 1394.0,1580.1 C1396.2,1577.9 1400.2,1560.2 1402.3,1558.5 C1404.4,1556.8 1405.0,1566.0 1406.4,1570.2 C1407.8,1574.4 1409.9,1581.3 1410.6,1583.5" fill="none" stroke="#ff3434" stroke-width="3.0" stroke-linejoin="round" stroke-linecap="round"/>
<path d="M911.5,1580.1 C912.0,1573.2 913.1,1548.3 914.8,1538.6 C916.5,1528.9 919.1,1522.6 921.5,1522.0 C923.9,1521.4 926.7,1531.6 928.9,1535.2 C931.1,1538.8 932.6,1539.4 934.8,1543.6 C937.0,1547.8 940.0,1556.0 942.2,1560.2 C944.4,1564.4 946.3,1569.0 948.1,1568.5 C949.9,1568.0 951.5,1563.8 953.0,1556.9 C954.5,1550.0 955.8,1538.8 957.2,1526.9 C958.6,1515.0 959.9,1495.9 961.4,1485.4 C962.9,1474.9 964.8,1465.5 966.3,1463.8 C967.8,1462.1 969.0,1472.4 970.5,1475.4 C972.0,1478.4 973.8,1483.1 975.5,1482.0 C977.2,1480.9 978.6,1474.0 980.5,1468.8 C982.4,1463.5 985.2,1455.5 987.1,1450.5 C989.0,1445.5 990.4,1438.5 992.1,1438.8 C993.8,1439.1 995.4,1444.3 997.1,1452.1 C998.8,1459.9 1000.4,1486.8 1002.1,1485.4 C1003.8,1484.0 1005.6,1460.4 1007.1,1443.8 C1008.6,1427.2 1009.4,1400.0 1011.2,1385.6 C1013.0,1371.2 1016.1,1358.8 1017.9,1357.4 C1019.7,1356.0 1020.5,1366.2 1022.0,1377.3 C1023.5,1388.4 1025.3,1422.5 1027.0,1423.9 C1028.7,1425.3 1030.8,1398.9 1032.0,1385.6 C1033.2,1372.3 1033.7,1354.6 1034.5,1344.1 C1035.3,1333.6 1036.0,1323.3 1037.0,1322.5 C1038.0,1321.7 1039.2,1325.8 1040.3,1339.1 C1041.4,1352.4 1042.6,1380.6 1043.7,1402.2 C1044.8,1423.8 1045.8,1450.8 1047.0,1468.8 C1048.2,1486.8 1049.4,1499.8 1051.1,1510.3 C1052.8,1520.8 1055.2,1525.5 1057.0,1531.9 C1058.8,1538.3 1060.5,1544.2 1061.9,1548.6 C1063.3,1553.0 1063.8,1557.7 1065.3,1558.5 C1066.8,1559.3 1069.2,1553.5 1071.1,1553.5 C1073.0,1553.5 1075.7,1557.4 1076.9,1558.5 C1078.1,1559.6 1077.2,1562.4 1078.3,1560.2 C1079.4,1558.0 1081.6,1549.4 1083.3,1545.2 C1085.0,1541.0 1086.8,1534.6 1088.3,1535.2 C1089.8,1535.8 1091.2,1544.2 1092.5,1548.6 C1093.8,1553.0 1094.3,1561.8 1095.8,1561.8 C1097.3,1561.8 1099.8,1548.9 1101.6,1548.6 C1103.4,1548.3 1104.8,1554.7 1106.6,1560.2 C1108.4,1565.7 1110.6,1576.8 1112.4,1581.8 C1114.2,1586.8 1115.6,1589.0 1117.4,1590.1 C1119.2,1591.2 1121.4,1587.4 1123.2,1588.5 C1125.0,1589.6 1126.4,1593.5 1128.2,1596.8 C1130.0,1600.1 1131.8,1607.3 1134.0,1608.4 C1136.2,1609.5 1139.4,1602.6 1141.5,1603.4 C1143.6,1604.2 1144.6,1610.7 1146.5,1613.4 C1148.4,1616.1 1149.8,1618.7 1153.1,1619.8 L1154.5,1619.8 L1156.1,1619.8 L1157.9,1619.8 L1159.7,1619.8 L1161.6,1619.8 L1163.4,1619.8 L1165.0,1619.8 L1166.4,1619.8 C1169.7,1617.9 1171.0,1613.9 1173.1,1608.4 C1175.2,1602.9 1177.0,1587.9 1178.9,1586.8 C1180.8,1585.7 1182.9,1597.9 1184.7,1601.8 C1186.5,1605.7 1188.0,1611.5 1189.7,1610.1 C1191.4,1608.7 1193.0,1597.6 1194.7,1593.4 C1196.4,1589.2 1198.2,1585.9 1199.7,1585.1 C1201.2,1584.3 1202.3,1588.8 1203.8,1588.5 C1205.3,1588.2 1207.0,1583.5 1208.8,1583.5 C1210.6,1583.5 1212.9,1589.3 1214.7,1588.5 C1216.5,1587.7 1218.1,1581.8 1219.6,1578.5 C1221.1,1575.2 1222.3,1566.6 1223.8,1568.5 C1225.3,1570.4 1227.1,1583.4 1228.8,1590.1 C1230.5,1596.8 1232.1,1610.6 1233.8,1608.4 C1235.5,1606.2 1237.0,1585.7 1238.8,1576.8 C1240.6,1567.9 1242.8,1556.9 1244.6,1555.2 C1246.4,1553.5 1248.4,1564.6 1249.6,1566.8 C1250.8,1569.0 1250.7,1571.0 1251.8,1568.5 C1252.9,1566.0 1254.6,1557.5 1256.0,1551.9 C1257.4,1546.4 1258.6,1540.8 1260.1,1535.2 C1261.6,1529.7 1263.4,1528.3 1265.1,1518.6 C1266.8,1508.9 1268.3,1488.7 1270.1,1477.1 C1271.9,1465.5 1274.1,1450.2 1275.9,1448.8 C1277.7,1447.4 1279.4,1457.2 1280.9,1468.8 C1282.4,1480.4 1283.6,1504.2 1285.1,1518.6 C1286.6,1533.0 1288.3,1552.4 1290.1,1555.2 C1291.9,1558.0 1294.1,1540.7 1295.9,1535.2 C1297.7,1529.7 1299.2,1521.4 1300.9,1522.0 C1302.6,1522.6 1304.0,1531.4 1305.9,1538.6 C1307.8,1545.8 1310.6,1565.8 1312.5,1565.2 C1314.4,1564.6 1316.0,1544.6 1317.5,1535.2 C1319.0,1525.8 1319.9,1514.7 1321.6,1508.6 C1323.3,1502.5 1325.7,1504.0 1327.5,1498.7 C1329.3,1493.5 1330.7,1484.6 1332.5,1477.1 C1334.3,1469.6 1336.4,1454.4 1338.3,1453.8 C1340.2,1453.2 1342.3,1467.9 1344.1,1473.7 C1345.9,1479.5 1347.4,1493.7 1349.1,1488.7 C1350.8,1483.7 1352.7,1455.4 1354.1,1443.8 C1355.5,1432.2 1356.2,1425.3 1357.4,1418.9 C1358.6,1412.5 1360.0,1405.6 1361.5,1405.6 C1363.0,1405.6 1364.7,1411.2 1366.5,1418.9 C1368.3,1426.7 1370.6,1443.2 1372.4,1452.1 C1374.2,1461.0 1375.4,1468.8 1377.3,1472.1 C1379.2,1475.4 1382.0,1469.9 1384.0,1472.1 C1386.0,1474.3 1387.6,1479.0 1389.0,1485.4 C1390.4,1491.8 1390.9,1502.5 1392.3,1510.3 C1393.7,1518.0 1395.6,1530.0 1397.3,1531.9 C1399.0,1533.9 1400.8,1521.5 1402.3,1522.0 C1403.8,1522.5 1405.0,1529.1 1406.4,1535.2 C1407.8,1541.3 1409.9,1554.6 1410.6,1558.5" fill="none" stroke="#2a2a2a" stroke-width="3.2" stroke-linejoin="round" stroke-linecap="round"/>
<rect x="906.2" y="1241.0" width="508.3" height="383.1" fill="none" stroke="#000" stroke-width="4.0"/>
<line x1="894.7" y1="1619.0" x2="904.7" y2="1619.0" stroke="#6a6a6a" stroke-width="2.2"/>
<line x1="900.7" y1="1600.8" x2="904.7" y2="1600.8" stroke="#6a6a6a" stroke-width="2.2"/>
<line x1="900.7" y1="1582.6" x2="904.7" y2="1582.6" stroke="#6a6a6a" stroke-width="2.2"/>
<line x1="900.7" y1="1564.4" x2="904.7" y2="1564.4" stroke="#6a6a6a" stroke-width="2.2"/>
<line x1="900.7" y1="1546.2" x2="904.7" y2="1546.2" stroke="#6a6a6a" stroke-width="2.2"/>
<line x1="894.7" y1="1528.0" x2="904.7" y2="1528.0" stroke="#6a6a6a" stroke-width="2.2"/>
<line x1="900.7" y1="1509.8" x2="904.7" y2="1509.8" stroke="#6a6a6a" stroke-width="2.2"/>
<line x1="900.7" y1="1491.6" x2="904.7" y2="1491.6" stroke="#6a6a6a" stroke-width="2.2"/>
<line x1="900.7" y1="1473.4" x2="904.7" y2="1473.4" stroke="#6a6a6a" stroke-width="2.2"/>
<line x1="900.7" y1="1455.2" x2="904.7" y2="1455.2" stroke="#6a6a6a" stroke-width="2.2"/>
<line x1="894.7" y1="1437.0" x2="904.7" y2="1437.0" stroke="#6a6a6a" stroke-width="2.2"/>
<line x1="900.7" y1="1418.8" x2="904.7" y2="1418.8" stroke="#6a6a6a" stroke-width="2.2"/>
<line x1="900.7" y1="1400.6" x2="904.7" y2="1400.6" stroke="#6a6a6a" stroke-width="2.2"/>
<line x1="900.7" y1="1382.4" x2="904.7" y2="1382.4" stroke="#6a6a6a" stroke-width="2.2"/>
<line x1="900.7" y1="1364.2" x2="904.7" y2="1364.2" stroke="#6a6a6a" stroke-width="2.2"/>
<line x1="894.7" y1="1346.0" x2="904.7" y2="1346.0" stroke="#6a6a6a" stroke-width="2.2"/>
<line x1="900.7" y1="1327.8" x2="904.7" y2="1327.8" stroke="#6a6a6a" stroke-width="2.2"/>
<line x1="900.7" y1="1309.6" x2="904.7" y2="1309.6" stroke="#6a6a6a" stroke-width="2.2"/>
<line x1="900.7" y1="1291.4" x2="904.7" y2="1291.4" stroke="#6a6a6a" stroke-width="2.2"/>
<line x1="900.7" y1="1273.2" x2="904.7" y2="1273.2" stroke="#6a6a6a" stroke-width="2.2"/>
<line x1="894.7" y1="1255.0" x2="904.7" y2="1255.0" stroke="#6a6a6a" stroke-width="2.2"/>
<text x="876.5" y="1622.4" text-anchor="middle" font-size="31.0">0</text>
<text x="876.5" y="1533.2" text-anchor="middle" font-size="31.0">5</text>
<text x="873.8" y="1444.1" text-anchor="middle" font-size="31.0">10</text>
<text x="873.8" y="1354.9" text-anchor="middle" font-size="31.0">15</text>
<text x="873.8" y="1265.8" text-anchor="middle" font-size="31.0">20</text>
<line x1="915.7" y1="1625.6" x2="915.7" y2="1635.1" stroke="#777" stroke-width="2"/>
<line x1="938.7" y1="1625.6" x2="938.7" y2="1630.6" stroke="#777" stroke-width="2"/>
<line x1="961.8" y1="1625.6" x2="961.8" y2="1630.6" stroke="#777" stroke-width="2"/>
<line x1="984.8" y1="1625.6" x2="984.8" y2="1630.6" stroke="#777" stroke-width="2"/>
<line x1="1007.9" y1="1625.6" x2="1007.9" y2="1630.6" stroke="#777" stroke-width="2"/>
<line x1="1030.9" y1="1625.6" x2="1030.9" y2="1635.1" stroke="#777" stroke-width="2"/>
<line x1="1053.9" y1="1625.6" x2="1053.9" y2="1630.6" stroke="#777" stroke-width="2"/>
<line x1="1077.0" y1="1625.6" x2="1077.0" y2="1630.6" stroke="#777" stroke-width="2"/>
<line x1="1100.0" y1="1625.6" x2="1100.0" y2="1630.6" stroke="#777" stroke-width="2"/>
<line x1="1123.1" y1="1625.6" x2="1123.1" y2="1630.6" stroke="#777" stroke-width="2"/>
<line x1="1146.1" y1="1625.6" x2="1146.1" y2="1635.1" stroke="#777" stroke-width="2"/>
<line x1="1169.1" y1="1625.6" x2="1169.1" y2="1630.6" stroke="#777" stroke-width="2"/>
<line x1="1192.2" y1="1625.6" x2="1192.2" y2="1630.6" stroke="#777" stroke-width="2"/>
<line x1="1215.2" y1="1625.6" x2="1215.2" y2="1630.6" stroke="#777" stroke-width="2"/>
<line x1="1238.3" y1="1625.6" x2="1238.3" y2="1630.6" stroke="#777" stroke-width="2"/>
<line x1="1261.3" y1="1625.6" x2="1261.3" y2="1635.1" stroke="#777" stroke-width="2"/>
<line x1="1284.3" y1="1625.6" x2="1284.3" y2="1630.6" stroke="#777" stroke-width="2"/>
<line x1="1307.4" y1="1625.6" x2="1307.4" y2="1630.6" stroke="#777" stroke-width="2"/>
<line x1="1330.4" y1="1625.6" x2="1330.4" y2="1630.6" stroke="#777" stroke-width="2"/>
<line x1="1353.5" y1="1625.6" x2="1353.5" y2="1630.6" stroke="#777" stroke-width="2"/>
<line x1="1376.5" y1="1625.6" x2="1376.5" y2="1635.1" stroke="#777" stroke-width="2"/>
<line x1="1399.5" y1="1625.6" x2="1399.5" y2="1630.6" stroke="#777" stroke-width="2"/>
<text x="919.3" y="1664.5" text-anchor="middle" font-size="32.0">-15</text>
<text x="1033.6" y="1664.2" text-anchor="middle" font-size="32.0">-10</text>
<text x="1143.3" y="1663.7" text-anchor="middle" font-size="32.0">-5</text>
<text x="1261.2" y="1664.4" text-anchor="middle" font-size="32.0">0</text>
<text x="1373.8" y="1665.0" text-anchor="middle" font-size="32.0">5</text>
<text x="1084.7" y="1698.0" font-size="32.0" textLength="160.0" lengthAdjust="spacingAndGlyphs">Energy (<tspan font-style="italic">eV</tspan>)</text>
<text transform="translate(844.0,1540.5) rotate(-90)" font-size="34.0" textLength="235.1" lengthAdjust="spacingAndGlyphs">Relative Intensity</text>
<line x1="1416.3" y1="1260.2" x2="1430.4" y2="1260.2" stroke="#e8202a" stroke-width="4"/>
<line x1="1416.3" y1="1292.2" x2="1430.4" y2="1292.2" stroke="#1aa03a" stroke-width="4"/>
<line x1="1416.3" y1="1328.5" x2="1430.4" y2="1328.5" stroke="#000" stroke-width="4"/>
<text x="1436.9" y="1265.1" font-size="32.0" textLength="124.7" lengthAdjust="spacingAndGlyphs">Acceptor</text>
<text x="1439.6" y="1302.5" font-size="32.0" textLength="85.6" lengthAdjust="spacingAndGlyphs">Donor</text>
<text x="1438.5" y="1337.2" font-size="32.0" textLength="71.0" lengthAdjust="spacingAndGlyphs">Total</text>
</g>
<text x="1114.7" y="1782.7" font-size="42.0" textLength="87.3" lengthAdjust="spacingAndGlyphs" class="cap">MD6</text>
<g filter="url(#soft)"><path d="M101.6,2144.6 C102.7,2138.7 106.1,2112.0 108.0,2109.3 C109.9,2106.6 111.0,2121.4 112.8,2128.6 C114.5,2135.8 116.3,2149.9 118.5,2152.6 C120.7,2155.3 122.8,2142.5 125.7,2144.6 C128.6,2146.7 133.2,2166.2 136.1,2165.4 C139.0,2164.6 140.9,2149.4 143.3,2139.8 C145.7,2130.2 148.1,2112.0 150.5,2107.7 C152.9,2103.4 155.0,2120.5 157.7,2114.1 C160.4,2107.7 163.8,2072.2 166.5,2069.3 C169.2,2066.4 171.1,2087.4 173.8,2096.5 C176.5,2105.6 179.9,2125.1 182.6,2123.8 C185.3,2122.5 187.4,2098.9 189.8,2088.5 C192.2,2078.1 194.7,2062.3 197.0,2061.2 C199.3,2060.1 201.4,2075.4 203.4,2082.1 C205.4,2088.8 207.0,2108.2 209.0,2101.3 C211.0,2094.4 213.4,2057.0 215.4,2040.4 C217.4,2023.8 219.2,2001.9 221.1,2001.9 C223.0,2001.9 225.0,2023.3 226.7,2040.4 C228.4,2057.5 229.6,2088.5 231.5,2104.5 C233.4,2120.5 235.6,2128.3 237.9,2136.6 C240.2,2144.9 242.7,2152.9 245.1,2154.2 C247.5,2155.5 250.3,2146.2 252.3,2144.6 C254.3,2143.0 255.2,2143.8 257.0,2144.6 C258.9,2145.4 261.4,2145.4 263.4,2149.4 C265.4,2153.4 267.1,2163.0 269.0,2168.6 C270.9,2174.2 272.6,2184.2 274.6,2183.1 C276.6,2182.0 279.0,2167.8 281.0,2162.2 C283.0,2156.6 284.7,2149.7 286.7,2149.4 C288.7,2149.1 291.0,2157.7 293.1,2160.6 C295.2,2163.5 297.5,2166.5 299.5,2167.0 C301.5,2167.5 303.4,2162.7 305.1,2163.8 C306.8,2164.9 308.3,2170.0 309.9,2173.5 C311.5,2177.0 312.8,2183.9 314.7,2184.7 C316.6,2185.5 319.2,2177.2 321.1,2178.3 C323.0,2179.4 324.0,2187.3 325.9,2191.1 C327.8,2194.9 327.8,2199.6 332.3,2201.3 L334.3,2201.3 L336.7,2201.3 L339.4,2201.3 L342.4,2201.3 L345.3,2201.3 L348.2,2201.3 L350.9,2201.3 L353.2,2201.3 C358.8,2200.4 363.1,2196.8 366.0,2195.9 C368.9,2195.0 368.7,2197.0 370.8,2195.9 C372.9,2194.8 376.1,2189.2 378.8,2189.5 C381.5,2189.8 384.7,2195.9 386.8,2197.5 C388.9,2199.1 389.3,2199.3 391.7,2199.1 C394.1,2198.8 398.4,2197.5 401.3,2196.0 C404.2,2194.5 406.6,2195.1 409.3,2190.0 C412.0,2184.9 415.2,2169.5 417.3,2165.4 C419.4,2161.3 420.3,2164.1 422.0,2165.4 C423.7,2166.8 425.6,2173.8 427.6,2173.5 C429.6,2173.2 432.0,2169.2 434.0,2163.8 C436.0,2158.5 437.3,2147.8 439.6,2141.4 C441.9,2135.0 445.2,2124.9 447.6,2125.4 C450.0,2125.9 452.0,2138.2 454.1,2144.6 C456.2,2151.0 458.6,2160.1 460.5,2163.8 C462.4,2167.5 463.0,2169.1 465.3,2167.0 C467.6,2164.9 471.4,2151.3 474.1,2151.0 C476.8,2150.7 479.0,2169.1 481.3,2165.4 C483.6,2161.7 485.8,2139.3 487.7,2128.6 C489.6,2117.9 490.5,2105.3 492.5,2101.3 C494.5,2097.3 497.6,2107.2 499.7,2104.5 C501.8,2101.8 503.8,2092.0 505.4,2085.3 C507.0,2078.6 507.9,2069.5 509.4,2064.4 C510.9,2059.3 512.2,2053.7 514.2,2054.8 C516.2,2055.9 519.4,2072.0 521.4,2070.9 C523.4,2069.8 524.5,2056.7 526.2,2048.4 C527.9,2040.1 530.1,2022.5 531.8,2021.2 C533.5,2019.9 535.1,2035.1 536.6,2040.4 C538.1,2045.7 539.3,2051.6 540.6,2053.2 C541.9,2054.8 543.3,2048.1 544.6,2050.0 C545.9,2051.9 547.1,2058.5 548.6,2064.4 C550.1,2070.3 551.6,2077.3 553.5,2085.3 C555.4,2093.3 557.8,2104.5 559.9,2112.5 C562.0,2120.5 564.3,2133.4 566.3,2133.4 C568.3,2133.4 570.2,2118.9 571.9,2112.5 C573.6,2106.1 575.2,2093.6 576.7,2094.9 C578.2,2096.2 579.2,2109.4 580.7,2120.6 C582.2,2131.8 584.7,2155.3 585.5,2162.2" fill="none" stroke="#259a25" stroke-width="3.0" stroke-linejoin="round" stroke-linecap="round"/>
<path d="M101.6,2170.2 C102.4,2169.1 104.5,2165.1 106.4,2163.8 C108.3,2162.5 110.7,2163.5 112.8,2162.2 C114.9,2160.9 117.3,2157.9 119.3,2155.8 C121.3,2153.7 123.0,2147.3 124.9,2149.4 C126.8,2151.5 128.1,2162.2 130.5,2168.6 C132.9,2175.0 136.6,2187.3 139.3,2187.9 C142.0,2188.5 144.2,2179.1 146.5,2171.9 C148.8,2164.7 151.0,2154.5 152.9,2144.6 C154.8,2134.7 156.2,2120.0 157.7,2112.5 C159.2,2105.0 160.1,2098.3 161.7,2099.7 C163.3,2101.0 165.6,2114.4 167.3,2120.6 C169.1,2126.8 170.3,2137.9 172.2,2136.6 C174.1,2135.2 176.3,2120.8 178.6,2112.5 C180.9,2104.2 183.5,2089.3 185.8,2086.9 C188.1,2084.5 190.2,2100.5 192.2,2098.1 C194.2,2095.7 196.1,2081.8 197.8,2072.5 C199.5,2063.2 201.0,2042.0 202.6,2042.0 C204.2,2042.0 205.7,2058.9 207.4,2072.5 C209.1,2086.1 211.1,2121.1 213.0,2123.8 C214.9,2126.5 216.6,2096.0 218.6,2088.5 C220.6,2081.0 223.2,2076.2 225.1,2078.9 C227.0,2081.6 228.3,2092.2 229.9,2104.5 C231.5,2116.8 232.7,2138.2 234.7,2152.6 C236.7,2167.0 239.5,2186.3 241.9,2191.1 C244.3,2195.9 246.8,2183.9 249.1,2181.5 C251.4,2179.1 253.4,2181.5 255.5,2176.7 C257.6,2171.9 260.1,2159.5 261.8,2152.6 C263.5,2145.7 264.5,2138.7 265.8,2135.0 C267.1,2131.3 268.5,2128.6 269.8,2130.2 C271.1,2131.8 272.5,2140.1 273.8,2144.6 C275.1,2149.1 276.2,2156.6 277.8,2157.4 C279.4,2158.2 281.8,2148.3 283.5,2149.4 C285.2,2150.5 286.7,2157.9 288.3,2163.8 C289.9,2169.7 291.4,2179.9 293.1,2184.7 C294.8,2189.5 296.7,2191.1 298.7,2192.7 C300.7,2194.3 302.7,2193.2 305.1,2194.3 C307.5,2195.4 309.9,2198.0 313.1,2199.1 C316.3,2200.2 321.1,2200.3 324.3,2200.7 C327.5,2201.1 327.8,2201.2 332.3,2201.3 L334.3,2201.3 L336.6,2201.3 L339.3,2201.3 L342.1,2201.3 L344.8,2201.3 L347.4,2201.3 L349.7,2201.3 L351.6,2201.3 C355.9,2198.5 355.9,2191.2 358.0,2184.7 C360.1,2178.2 362.0,2163.3 364.4,2162.2 C366.8,2161.1 369.9,2177.2 372.4,2178.3 C374.9,2179.4 377.5,2167.5 379.6,2168.6 C381.7,2169.7 383.2,2179.6 385.2,2184.7 C387.2,2189.8 389.3,2196.3 391.7,2199.1 L392.6,2200.0 L393.6,2200.6 L394.6,2200.9 L395.6,2201.1 L396.6,2201.2 L397.7,2201.2 L398.7,2201.2 L399.7,2201.3 L400.7,2201.3 L401.8,2201.3 L402.8,2201.3 L403.8,2201.3 L404.9,2201.3 L405.9,2201.3 L406.8,2201.1 L407.7,2200.7 C410.0,2199.3 411.7,2198.0 413.3,2192.7 C414.9,2187.3 416.0,2177.9 417.3,2168.6 C418.6,2159.2 420.1,2145.4 421.3,2136.6 C422.5,2127.8 423.1,2114.4 424.4,2115.7 C425.7,2117.0 427.5,2136.3 429.2,2144.6 C430.9,2152.9 432.9,2165.4 434.8,2165.4 C436.7,2165.4 438.7,2150.5 440.4,2144.6 C442.1,2138.7 443.4,2133.7 445.2,2130.2 C446.9,2126.7 449.1,2123.3 450.9,2123.8 C452.6,2124.3 454.1,2127.3 455.7,2133.4 C457.3,2139.5 458.9,2154.5 460.5,2160.6 C462.1,2166.7 463.7,2172.9 465.3,2170.2 C466.9,2167.5 468.5,2153.9 470.1,2144.6 C471.7,2135.2 473.3,2115.4 474.9,2114.1 C476.5,2112.8 478.4,2128.0 479.7,2136.6 C481.0,2145.2 481.6,2157.4 482.9,2165.4 C484.2,2173.4 485.8,2185.5 487.7,2184.7 C489.6,2183.9 492.2,2169.1 494.1,2160.6 C496.0,2152.1 497.3,2140.3 498.9,2133.4 C500.5,2126.5 502.1,2118.5 503.8,2119.0 C505.6,2119.5 507.7,2129.4 509.4,2136.6 C511.1,2143.8 512.6,2156.6 514.2,2162.2 C515.8,2167.8 517.3,2174.5 519.0,2170.2 C520.7,2165.9 522.9,2148.9 524.6,2136.6 C526.3,2124.3 528.1,2105.1 529.4,2096.5 C530.7,2087.9 531.3,2082.6 532.6,2085.3 C533.9,2088.0 535.5,2103.9 537.4,2112.5 C539.3,2121.1 541.7,2128.8 543.8,2136.6 C545.9,2144.3 548.1,2152.6 550.2,2159.0 C552.4,2165.4 554.6,2172.7 556.7,2175.1 C558.9,2177.5 561.2,2173.8 563.1,2173.5 C565.0,2173.2 566.4,2174.8 567.9,2173.5 C569.4,2172.2 570.4,2167.6 571.9,2165.4 C573.4,2163.2 575.2,2159.8 576.7,2160.6 C578.2,2161.4 579.2,2166.2 580.7,2170.2 C582.2,2174.2 584.7,2182.3 585.5,2184.7" fill="none" stroke="#ff3434" stroke-width="3.0" stroke-linejoin="round" stroke-linecap="round"/>
<path d="M101.6,2125.4 C102.0,2119.2 103.1,2096.8 104.0,2088.5 C104.9,2080.2 105.9,2074.6 107.2,2075.7 C108.5,2076.8 110.3,2088.2 112.0,2094.9 C113.7,2101.6 115.8,2113.8 117.6,2115.7 C119.3,2117.6 121.2,2109.3 122.5,2106.1 C123.8,2102.9 124.4,2094.1 125.7,2096.5 C127.0,2098.9 128.6,2112.3 130.5,2120.6 C132.4,2128.9 134.9,2146.2 136.9,2146.2 C138.9,2146.2 140.6,2131.5 142.5,2120.6 C144.4,2109.7 146.4,2092.0 148.1,2080.5 C149.8,2069.0 151.3,2062.0 152.9,2051.6 C154.5,2041.2 155.8,2029.2 157.7,2018.0 C159.6,2006.8 162.2,1985.9 164.1,1984.3 C166.0,1982.7 167.1,1999.2 169.0,2008.3 C170.9,2017.4 173.3,2037.4 175.4,2038.8 C177.5,2040.2 179.7,2024.4 181.8,2016.4 C183.9,2008.4 186.1,2000.1 188.2,1990.7 C190.3,1981.3 192.5,1973.0 194.6,1960.2 C196.7,1947.4 199.1,1916.5 201.0,1913.8 C202.9,1911.1 204.1,1927.1 205.8,1944.2 C207.5,1961.3 209.7,2013.7 211.4,2016.4 C213.1,2019.1 214.5,1981.6 216.2,1960.2 C217.9,1938.8 220.1,1894.8 221.8,1888.1 C223.6,1881.4 225.3,1902.8 226.7,1920.2 C228.0,1937.6 228.8,1969.6 229.9,1992.3 C231.0,2015.0 231.9,2037.7 233.1,2056.4 C234.3,2075.1 235.5,2090.3 237.1,2104.5 C238.7,2118.7 240.7,2137.4 242.7,2141.4 C244.7,2145.4 247.0,2131.5 249.1,2128.6 C251.2,2125.7 253.7,2125.7 255.5,2123.8 C257.4,2121.9 258.5,2122.8 260.2,2117.4 C261.9,2112.1 264.1,2093.3 265.8,2091.7 C267.5,2090.1 268.9,2100.5 270.6,2107.7 C272.3,2114.9 274.5,2133.4 276.2,2135.0 C277.9,2136.6 279.4,2123.3 281.0,2117.4 C282.6,2111.5 284.3,2099.2 285.9,2099.7 C287.5,2100.2 289.1,2112.3 290.7,2120.6 C292.3,2128.9 293.9,2143.3 295.5,2149.4 C297.1,2155.5 298.8,2156.3 300.3,2157.4 C301.8,2158.5 302.8,2153.7 304.3,2155.8 C305.8,2157.9 307.4,2165.4 309.1,2170.2 C310.8,2175.0 312.7,2183.3 314.7,2184.7 C316.7,2186.0 319.2,2177.2 321.1,2178.3 C323.0,2179.4 324.0,2187.3 325.9,2191.1 C327.8,2194.9 328.0,2199.6 332.3,2201.3 L334.2,2201.3 L336.5,2201.3 L339.2,2201.3 L342.0,2201.3 L344.7,2201.3 L347.4,2201.3 L349.7,2201.3 L351.6,2201.3 C355.9,2198.5 355.7,2192.0 358.0,2184.7 C360.3,2177.4 362.9,2159.8 365.2,2157.4 C367.5,2155.0 369.3,2170.2 371.6,2170.2 C373.9,2170.2 376.8,2156.8 378.8,2157.4 C380.8,2158.0 382.0,2167.6 383.6,2173.5 C385.2,2179.4 386.1,2191.9 388.5,2192.7 C390.9,2193.5 395.0,2178.0 398.1,2178.3 C401.2,2178.6 404.5,2194.3 406.9,2194.3 C409.3,2194.3 410.8,2189.2 412.5,2178.3 C414.2,2167.4 415.4,2143.0 417.3,2128.6 C419.2,2114.2 421.7,2094.4 423.7,2091.7 C425.7,2089.0 427.5,2105.6 429.2,2112.5 C430.9,2119.4 432.4,2134.7 434.0,2133.4 C435.6,2132.1 437.3,2116.0 438.8,2104.5 C440.3,2093.0 441.2,2075.9 442.8,2064.4 C444.4,2052.9 446.6,2037.5 448.5,2035.6 C450.4,2033.7 452.5,2044.4 454.1,2053.2 C455.7,2062.0 456.4,2073.8 458.1,2088.5 C459.8,2103.2 462.5,2140.1 464.5,2141.4 C466.5,2142.7 468.4,2109.6 470.1,2096.5 C471.8,2083.4 473.4,2065.5 474.9,2062.8 C476.4,2060.1 477.3,2067.9 478.9,2080.5 C480.5,2093.1 482.8,2134.7 484.5,2138.2 C486.2,2141.7 487.4,2113.6 489.3,2101.3 C491.2,2089.0 493.6,2077.2 495.7,2064.4 C497.8,2051.6 500.2,2034.6 502.2,2024.4 C504.2,2014.2 505.8,2004.8 507.8,2003.5 C509.8,2002.2 512.1,2010.2 514.2,2016.4 C516.3,2022.6 518.9,2043.1 520.6,2040.4 C522.3,2037.7 523.4,2015.0 524.6,2000.3 C525.8,1985.6 526.6,1968.0 527.8,1952.2 C529.0,1936.4 530.3,1908.4 531.8,1905.7 C533.3,1903.0 535.1,1925.0 536.6,1936.2 C538.1,1947.4 539.0,1964.3 540.6,1973.1 C542.2,1981.9 544.6,1980.5 546.2,1989.1 C547.8,1997.6 548.7,2011.9 550.2,2024.4 C551.7,2037.0 553.1,2053.2 555.0,2064.4 C556.9,2075.6 559.6,2083.4 561.5,2091.7 C563.4,2100.0 564.6,2116.0 566.3,2114.1 C568.0,2112.2 570.2,2090.7 571.9,2080.5 C573.6,2070.3 575.2,2053.2 576.7,2053.2 C578.2,2053.2 579.5,2069.3 580.7,2080.5 C581.9,2091.7 583.0,2108.6 583.9,2120.6 C584.8,2132.6 585.9,2147.3 586.3,2152.6" fill="none" stroke="#2a2a2a" stroke-width="3.2" stroke-linejoin="round" stroke-linecap="round"/>
<rect x="94.4" y="1836.1" width="495.7" height="369.8" fill="none" stroke="#000" stroke-width="4.0"/>
<line x1="82.9" y1="2200.5" x2="92.9" y2="2200.5" stroke="#6a6a6a" stroke-width="2.2"/>
<line x1="88.9" y1="2187.9" x2="92.9" y2="2187.9" stroke="#6a6a6a" stroke-width="2.2"/>
<line x1="88.9" y1="2175.3" x2="92.9" y2="2175.3" stroke="#6a6a6a" stroke-width="2.2"/>
<line x1="88.9" y1="2162.7" x2="92.9" y2="2162.7" stroke="#6a6a6a" stroke-width="2.2"/>
<line x1="82.9" y1="2150.1" x2="92.9" y2="2150.1" stroke="#6a6a6a" stroke-width="2.2"/>
<line x1="88.9" y1="2137.6" x2="92.9" y2="2137.6" stroke="#6a6a6a" stroke-width="2.2"/>
<line x1="88.9" y1="2125.0" x2="92.9" y2="2125.0" stroke="#6a6a6a" stroke-width="2.2"/>
<line x1="88.9" y1="2112.4" x2="92.9" y2="2112.4" stroke="#6a6a6a" stroke-width="2.2"/>
<line x1="82.9" y1="2099.8" x2="92.9" y2="2099.8" stroke="#6a6a6a" stroke-width="2.2"/>
<line x1="88.9" y1="2087.2" x2="92.9" y2="2087.2" stroke="#6a6a6a" stroke-width="2.2"/>
<line x1="88.9" y1="2074.6" x2="92.9" y2="2074.6" stroke="#6a6a6a" stroke-width="2.2"/>
<line x1="88.9" y1="2062.0" x2="92.9" y2="2062.0" stroke="#6a6a6a" stroke-width="2.2"/>
<line x1="82.9" y1="2049.4" x2="92.9" y2="2049.4" stroke="#6a6a6a" stroke-width="2.2"/>
<line x1="88.9" y1="2036.8" x2="92.9" y2="2036.8" stroke="#6a6a6a" stroke-width="2.2"/>
<line x1="88.9" y1="2024.2" x2="92.9" y2="2024.2" stroke="#6a6a6a" stroke-width="2.2"/>
<line x1="88.9" y1="2011.7" x2="92.9" y2="2011.7" stroke="#6a6a6a" stroke-width="2.2"/>
<line x1="82.9" y1="1999.1" x2="92.9" y2="1999.1" stroke="#6a6a6a" stroke-width="2.2"/>
<line x1="88.9" y1="1986.5" x2="92.9" y2="1986.5" stroke="#6a6a6a" stroke-width="2.2"/>
<line x1="88.9" y1="1973.9" x2="92.9" y2="1973.9" stroke="#6a6a6a" stroke-width="2.2"/>
<line x1="88.9" y1="1961.3" x2="92.9" y2="1961.3" stroke="#6a6a6a" stroke-width="2.2"/>
<line x1="82.9" y1="1948.7" x2="92.9" y2="1948.7" stroke="#6a6a6a" stroke-width="2.2"/>
<line x1="88.9" y1="1936.1" x2="92.9" y2="1936.1" stroke="#6a6a6a" stroke-width="2.2"/>
<line x1="88.9" y1="1923.5" x2="92.9" y2="1923.5" stroke="#6a6a6a" stroke-width="2.2"/>
<line x1="88.9" y1="1910.9" x2="92.9" y2="1910.9" stroke="#6a6a6a" stroke-width="2.2"/>
<line x1="82.9" y1="1898.3" x2="92.9" y2="1898.3" stroke="#6a6a6a" stroke-width="2.2"/>
<line x1="88.9" y1="1885.8" x2="92.9" y2="1885.8" stroke="#6a6a6a" stroke-width="2.2"/>
<line x1="88.9" y1="1873.2" x2="92.9" y2="1873.2" stroke="#6a6a6a" stroke-width="2.2"/>
<line x1="88.9" y1="1860.6" x2="92.9" y2="1860.6" stroke="#6a6a6a" stroke-width="2.2"/>
<line x1="82.9" y1="1848.0" x2="92.9" y2="1848.0" stroke="#6a6a6a" stroke-width="2.2"/>
<text x="66.0" y="2208.7" text-anchor="middle" font-size="31.0">0</text>
<text x="66.0" y="2158.4" text-anchor="middle" font-size="31.0">2</text>
<text x="66.0" y="2108.1" text-anchor="middle" font-size="31.0">4</text>
<text x="66.0" y="2057.8" text-anchor="middle" font-size="31.0">6</text>
<text x="66.0" y="2007.6" text-anchor="middle" font-size="31.0">8</text>
<text x="64.6" y="1957.3" text-anchor="middle" font-size="31.0">10</text>
<text x="64.6" y="1907.0" text-anchor="middle" font-size="31.0">12</text>
<text x="64.6" y="1856.7" text-anchor="middle" font-size="31.0">14</text>
<line x1="103.4" y1="2207.4" x2="103.4" y2="2216.9" stroke="#777" stroke-width="2"/>
<line x1="125.5" y1="2207.4" x2="125.5" y2="2212.4" stroke="#777" stroke-width="2"/>
<line x1="147.5" y1="2207.4" x2="147.5" y2="2212.4" stroke="#777" stroke-width="2"/>
<line x1="169.6" y1="2207.4" x2="169.6" y2="2212.4" stroke="#777" stroke-width="2"/>
<line x1="191.6" y1="2207.4" x2="191.6" y2="2212.4" stroke="#777" stroke-width="2"/>
<line x1="213.7" y1="2207.4" x2="213.7" y2="2216.9" stroke="#777" stroke-width="2"/>
<line x1="235.7" y1="2207.4" x2="235.7" y2="2212.4" stroke="#777" stroke-width="2"/>
<line x1="257.8" y1="2207.4" x2="257.8" y2="2212.4" stroke="#777" stroke-width="2"/>
<line x1="279.9" y1="2207.4" x2="279.9" y2="2212.4" stroke="#777" stroke-width="2"/>
<line x1="301.9" y1="2207.4" x2="301.9" y2="2212.4" stroke="#777" stroke-width="2"/>
<line x1="323.9" y1="2207.4" x2="323.9" y2="2216.9" stroke="#777" stroke-width="2"/>
<line x1="346.0" y1="2207.4" x2="346.0" y2="2212.4" stroke="#777" stroke-width="2"/>
<line x1="368.0" y1="2207.4" x2="368.0" y2="2212.4" stroke="#777" stroke-width="2"/>
<line x1="390.1" y1="2207.4" x2="390.1" y2="2212.4" stroke="#777" stroke-width="2"/>
<line x1="412.1" y1="2207.4" x2="412.1" y2="2212.4" stroke="#777" stroke-width="2"/>
<line x1="434.2" y1="2207.4" x2="434.2" y2="2216.9" stroke="#777" stroke-width="2"/>
<line x1="456.2" y1="2207.4" x2="456.2" y2="2212.4" stroke="#777" stroke-width="2"/>
<line x1="478.3" y1="2207.4" x2="478.3" y2="2212.4" stroke="#777" stroke-width="2"/>
<line x1="500.4" y1="2207.4" x2="500.4" y2="2212.4" stroke="#777" stroke-width="2"/>
<line x1="522.4" y1="2207.4" x2="522.4" y2="2212.4" stroke="#777" stroke-width="2"/>
<line x1="544.5" y1="2207.4" x2="544.5" y2="2216.9" stroke="#777" stroke-width="2"/>
<line x1="566.5" y1="2207.4" x2="566.5" y2="2212.4" stroke="#777" stroke-width="2"/>
<text x="103.3" y="2246.7" text-anchor="middle" font-size="32.0">-15</text>
<text x="212.9" y="2247.3" text-anchor="middle" font-size="32.0">-10</text>
<text x="322.8" y="2248.6" text-anchor="middle" font-size="32.0">-5</text>
<text x="432.3" y="2243.7" text-anchor="middle" font-size="32.0">0</text>
<text x="541.0" y="2244.9" text-anchor="middle" font-size="32.0">5</text>
<text x="250.5" y="2276.6" font-size="32.0" textLength="155.8" lengthAdjust="spacingAndGlyphs">Energy (<tspan font-style="italic">eV</tspan>)</text>
<text transform="translate(33.8,2114.4) rotate(-90)" font-size="33.0" textLength="228.2" lengthAdjust="spacingAndGlyphs">Relative Intensity</text>
<line x1="592.3" y1="1853.4" x2="604.3" y2="1853.4" stroke="#e8202a" stroke-width="4"/>
<line x1="592.3" y1="1886.3" x2="604.3" y2="1886.3" stroke="#1aa03a" stroke-width="4"/>
<line x1="592.3" y1="1912.3" x2="604.3" y2="1912.3" stroke="#000" stroke-width="4"/>
<text x="611.9" y="1855.9" font-size="31.0" textLength="120.8" lengthAdjust="spacingAndGlyphs">Acceptor</text>
<text x="611.9" y="1893.3" font-size="31.0" textLength="82.9" lengthAdjust="spacingAndGlyphs">Donor</text>
<text x="612.4" y="1923.1" font-size="31.0" textLength="68.3" lengthAdjust="spacingAndGlyphs">Total</text>
</g>
<text x="268.3" y="2357.8" font-size="42.0" textLength="87.7" lengthAdjust="spacingAndGlyphs" class="cap">MD7</text>
<g filter="url(#soft)"><path d="M930.0,2158.1 C931.1,2151.2 934.4,2119.9 936.4,2116.7 C938.4,2113.5 939.9,2131.8 941.9,2139.0 C943.9,2146.2 946.2,2157.8 948.3,2159.7 C950.4,2161.5 952.0,2148.8 954.7,2150.1 C957.4,2151.4 961.5,2168.8 964.3,2167.7 C967.1,2166.6 969.0,2151.5 971.4,2143.8 C973.8,2136.1 976.3,2125.7 978.6,2121.4 C980.9,2117.2 983.0,2123.4 985.0,2118.3 C987.0,2113.2 988.7,2098.3 990.6,2091.1 C992.5,2083.9 994.1,2074.1 996.2,2075.2 C998.3,2076.3 1000.8,2089.8 1003.3,2097.5 C1005.8,2105.2 1008.9,2120.9 1011.3,2121.4 C1013.7,2121.9 1015.4,2110.5 1017.7,2100.7 C1020.0,2090.9 1022.5,2065.8 1024.9,2062.4 C1027.3,2059.0 1029.9,2073.6 1032.0,2080.0 C1034.1,2086.4 1035.7,2104.1 1037.6,2100.7 C1039.5,2097.2 1041.2,2074.7 1043.2,2059.3 C1045.2,2043.9 1047.6,2009.5 1049.6,2008.2 C1051.6,2006.9 1053.3,2034.8 1055.2,2051.3 C1057.1,2067.8 1058.7,2091.9 1060.7,2107.1 C1062.7,2122.2 1064.8,2133.2 1067.1,2142.2 C1069.4,2151.2 1071.9,2159.7 1074.3,2161.3 C1076.7,2162.9 1079.5,2153.6 1081.5,2151.7 C1083.5,2149.8 1084.5,2150.1 1086.3,2150.1 C1088.1,2150.1 1090.6,2148.2 1092.6,2151.7 C1094.6,2155.2 1096.3,2164.2 1098.2,2170.9 C1100.1,2177.6 1101.9,2191.6 1103.7,2191.6 C1105.5,2191.6 1107.3,2177.6 1109.3,2170.9 C1111.3,2164.2 1113.7,2153.3 1115.7,2151.7 C1117.7,2150.1 1119.4,2158.6 1121.3,2161.3 C1123.2,2164.0 1124.9,2166.6 1126.9,2167.7 C1128.9,2168.8 1131.4,2166.4 1133.2,2167.7 C1135.0,2169.0 1136.4,2172.5 1138.0,2175.7 C1139.6,2178.9 1140.8,2186.0 1142.8,2186.8 C1144.8,2187.6 1148.1,2179.6 1150.0,2180.4 C1151.9,2181.2 1152.3,2187.6 1154.0,2191.6 C1155.7,2195.6 1155.9,2202.3 1160.4,2204.4 L1162.4,2204.4 L1164.8,2204.4 L1167.6,2204.4 L1170.5,2204.4 L1173.5,2204.4 L1176.4,2204.4 L1178.9,2204.4 L1181.1,2204.4 C1186.1,2203.7 1187.8,2201.2 1190.7,2200.4 C1193.6,2199.6 1195.8,2201.1 1198.6,2199.6 C1201.4,2198.1 1204.7,2191.9 1207.4,2191.6 C1210.1,2191.3 1212.5,2196.4 1214.6,2198.0 C1216.7,2199.6 1218.1,2201.5 1220.2,2201.2 C1222.3,2200.9 1224.8,2197.7 1227.3,2196.4 C1229.8,2195.1 1232.9,2195.9 1235.3,2193.2 C1237.7,2190.5 1239.6,2184.4 1241.7,2180.4 C1243.8,2176.4 1246.4,2170.9 1248.1,2169.3 C1249.8,2167.7 1250.5,2169.6 1252.0,2170.9 C1253.5,2172.2 1254.9,2179.2 1256.8,2177.3 C1258.7,2175.4 1261.1,2167.4 1263.2,2159.7 C1265.3,2152.0 1267.4,2138.7 1269.5,2131.0 C1271.6,2123.3 1273.9,2114.0 1275.9,2113.5 C1277.9,2113.0 1279.6,2121.4 1281.5,2127.8 C1283.4,2134.2 1285.2,2145.0 1287.1,2151.7 C1289.0,2158.3 1290.0,2167.4 1292.7,2167.7 C1295.4,2168.0 1299.8,2153.3 1303.0,2153.3 C1306.2,2153.3 1309.4,2170.9 1311.8,2167.7 C1314.2,2164.5 1315.5,2144.8 1317.4,2134.2 C1319.3,2123.6 1321.0,2108.4 1323.0,2103.9 C1325.0,2099.4 1327.3,2110.6 1329.3,2107.1 C1331.3,2103.6 1332.6,2090.9 1334.9,2083.2 C1337.2,2075.5 1340.2,2062.4 1342.9,2060.8 C1345.6,2059.2 1348.8,2075.2 1350.9,2073.6 C1353.0,2072.0 1354.0,2059.0 1355.7,2051.3 C1357.4,2043.6 1359.4,2027.9 1361.2,2027.4 C1363.0,2026.9 1364.8,2043.8 1366.8,2048.1 C1368.8,2052.3 1371.1,2047.6 1373.2,2052.9 C1375.3,2058.2 1377.5,2072.6 1379.6,2080.0 C1381.7,2087.4 1384.2,2090.3 1386.0,2097.5 C1387.8,2104.7 1389.1,2115.6 1390.7,2123.0 C1392.3,2130.4 1393.8,2143.5 1395.5,2142.2 C1397.2,2140.9 1399.2,2123.6 1401.1,2115.1 C1403.0,2106.6 1405.1,2092.4 1406.7,2091.1 C1408.3,2089.8 1409.5,2098.3 1410.7,2107.1 C1411.9,2115.9 1413.4,2137.7 1413.9,2143.8" fill="none" stroke="#259a25" stroke-width="3.0" stroke-linejoin="round" stroke-linecap="round"/>
<path d="M930.0,2190.0 C930.8,2186.3 933.1,2174.1 934.8,2167.7 C936.5,2161.3 938.6,2153.0 940.3,2151.7 C942.0,2150.4 943.5,2157.6 945.1,2159.7 C946.7,2161.8 948.3,2165.3 949.9,2164.5 C951.5,2163.7 952.8,2154.1 954.7,2154.9 C956.6,2155.7 959.1,2165.6 961.1,2169.3 C963.1,2173.0 964.6,2178.1 966.6,2177.3 C968.6,2176.5 971.0,2168.5 973.0,2164.5 C975.0,2160.5 977.0,2158.6 978.6,2153.3 C980.2,2148.0 981.4,2139.5 982.6,2132.6 C983.8,2125.7 984.6,2113.5 985.8,2111.9 C987.0,2110.3 988.3,2117.4 989.8,2123.0 C991.3,2128.6 993.0,2145.4 994.6,2145.4 C996.2,2145.4 997.7,2132.1 999.3,2123.0 C1000.9,2113.9 1002.4,2102.0 1004.1,2091.1 C1005.8,2080.2 1008.0,2060.3 1009.7,2057.7 C1011.4,2055.0 1012.9,2068.6 1014.5,2075.2 C1016.1,2081.8 1017.7,2097.5 1019.3,2097.5 C1020.9,2097.5 1022.5,2081.8 1024.1,2075.2 C1025.7,2068.6 1027.2,2057.7 1028.8,2057.7 C1030.4,2057.7 1032.3,2069.9 1033.6,2075.2 C1034.9,2080.5 1035.5,2090.8 1036.8,2089.5 C1038.1,2088.2 1040.0,2073.3 1041.6,2067.2 C1043.2,2061.1 1044.8,2051.6 1046.4,2052.9 C1048.0,2054.2 1049.6,2067.5 1051.2,2075.2 C1052.8,2082.9 1054.1,2089.8 1055.9,2099.1 C1057.8,2108.4 1060.4,2119.0 1062.3,2131.0 C1064.2,2143.0 1065.6,2162.4 1067.1,2170.9 C1068.6,2179.4 1069.6,2182.0 1071.1,2182.0 C1072.6,2182.0 1074.3,2174.3 1075.9,2170.9 C1077.5,2167.5 1079.0,2163.4 1080.7,2161.3 C1082.4,2159.2 1084.2,2157.8 1086.3,2158.1 C1088.4,2158.4 1091.2,2163.7 1093.4,2162.9 C1095.7,2162.1 1097.7,2154.9 1099.8,2153.3 C1101.9,2151.7 1104.2,2154.1 1106.1,2153.3 C1107.9,2152.5 1109.3,2148.9 1110.9,2148.6 C1112.5,2148.3 1114.1,2152.0 1115.7,2151.7 C1117.3,2151.4 1119.0,2144.9 1120.5,2147.0 C1122.0,2149.1 1123.2,2157.9 1124.5,2164.5 C1125.8,2171.1 1126.8,2181.5 1128.5,2186.8 C1130.2,2192.1 1132.4,2194.0 1134.8,2196.4 C1137.2,2198.8 1139.9,2200.1 1142.8,2201.2 C1145.7,2202.3 1149.5,2202.3 1152.4,2202.8 C1155.3,2203.3 1155.6,2204.1 1160.4,2204.4 L1162.5,2204.4 L1165.0,2204.4 L1167.9,2204.4 L1170.9,2204.4 L1173.9,2204.4 L1176.7,2204.4 L1179.1,2204.4 L1181.1,2204.4 C1185.5,2201.5 1184.7,2193.7 1186.7,2186.8 C1188.7,2179.9 1190.6,2164.2 1193.0,2162.9 C1195.4,2161.6 1198.5,2177.5 1201.0,2178.8 C1203.5,2180.1 1206.2,2169.6 1208.2,2170.9 C1210.2,2172.2 1211.1,2181.8 1213.0,2186.8 C1214.9,2191.9 1217.3,2198.3 1219.4,2201.2 C1221.5,2204.1 1223.6,2204.4 1225.7,2204.4 C1227.8,2204.4 1230.2,2203.3 1232.1,2201.2 C1234.0,2199.1 1235.3,2198.0 1236.9,2191.6 C1238.5,2185.2 1240.2,2170.3 1241.7,2162.9 C1243.2,2155.5 1244.4,2151.8 1245.7,2147.0 C1247.0,2142.2 1248.2,2134.7 1249.7,2134.2 C1251.2,2133.7 1253.1,2141.4 1254.4,2143.8 C1255.7,2146.2 1256.1,2148.3 1257.6,2148.6 C1259.1,2148.9 1261.5,2144.9 1263.2,2145.4 C1264.9,2145.9 1266.3,2154.1 1267.9,2151.7 C1269.5,2149.3 1271.1,2141.1 1272.7,2131.0 C1274.3,2120.9 1275.8,2101.2 1277.5,2091.1 C1279.2,2081.0 1281.4,2070.4 1283.1,2070.4 C1284.8,2070.4 1286.2,2081.0 1287.9,2091.1 C1289.6,2101.2 1291.5,2119.6 1293.5,2131.0 C1295.5,2142.4 1298.0,2155.7 1299.8,2159.7 C1301.6,2163.7 1302.7,2153.8 1304.6,2154.9 C1306.5,2156.0 1308.6,2167.9 1311.0,2166.1 C1313.4,2164.2 1316.3,2144.3 1319.0,2143.8 C1321.7,2143.3 1324.9,2163.7 1327.0,2162.9 C1329.1,2162.1 1330.2,2147.5 1331.7,2139.0 C1333.2,2130.5 1334.1,2111.9 1335.7,2111.9 C1337.3,2111.9 1339.4,2131.0 1341.3,2139.0 C1343.2,2147.0 1344.8,2161.8 1346.9,2159.7 C1349.0,2157.6 1351.6,2136.6 1354.1,2126.2 C1356.6,2115.8 1359.6,2100.2 1362.0,2097.5 C1364.4,2094.8 1366.3,2103.9 1368.4,2110.3 C1370.5,2116.7 1372.7,2127.0 1374.8,2135.8 C1376.9,2144.6 1378.8,2162.4 1381.2,2162.9 C1383.6,2163.4 1386.7,2141.9 1389.1,2139.0 C1391.5,2136.1 1393.6,2143.0 1395.5,2145.4 C1397.4,2147.8 1398.4,2153.8 1400.3,2153.3 C1402.2,2152.8 1404.8,2141.9 1406.7,2142.2 C1408.6,2142.5 1410.3,2150.9 1411.5,2154.9 C1412.7,2158.9 1413.5,2164.2 1413.9,2166.1" fill="none" stroke="#ff3434" stroke-width="3.0" stroke-linejoin="round" stroke-linecap="round"/>
<path d="M930.0,2151.7 C930.5,2144.3 931.9,2120.6 933.2,2107.1 C934.5,2093.6 936.3,2072.5 937.9,2070.4 C939.5,2068.3 941.0,2086.6 942.7,2094.3 C944.4,2102.0 946.7,2114.0 948.3,2116.7 C949.9,2119.4 951.1,2113.0 952.3,2110.3 C953.5,2107.6 954.2,2098.6 955.5,2100.7 C956.8,2102.8 958.7,2116.9 960.3,2123.0 C961.9,2129.1 963.5,2138.7 965.1,2137.4 C966.7,2136.1 968.2,2124.1 969.8,2115.1 C971.4,2106.1 973.0,2093.0 974.6,2083.2 C976.2,2073.4 977.8,2065.1 979.4,2056.1 C981.0,2047.1 982.9,2034.6 984.2,2029.0 C985.5,2023.4 986.1,2023.4 987.4,2022.6 C988.7,2021.8 990.6,2027.4 992.2,2024.2 C993.8,2021.0 995.4,2009.2 997.0,2003.4 C998.6,1997.6 999.7,1994.7 1001.7,1989.1 C1003.7,1983.5 1007.0,1970.8 1008.9,1970.0 C1010.8,1969.2 1011.6,1980.3 1012.9,1984.3 C1014.2,1988.3 1015.4,1997.4 1016.9,1993.9 C1018.4,1990.5 1020.4,1973.4 1021.7,1963.6 C1023.0,1953.8 1023.9,1942.4 1024.9,1934.9 C1026.0,1927.5 1026.8,1918.1 1028.0,1918.9 C1029.2,1919.7 1030.5,1927.7 1032.0,1939.7 C1033.5,1951.7 1035.2,1990.7 1036.8,1990.7 C1038.4,1990.7 1040.1,1957.5 1041.6,1939.7 C1043.1,1921.9 1044.5,1896.0 1045.6,1883.8 C1046.7,1871.6 1046.9,1866.3 1048.0,1866.3 C1049.1,1866.3 1050.7,1870.2 1052.0,1883.8 C1053.3,1897.3 1054.5,1925.0 1056.0,1947.6 C1057.5,1970.2 1059.1,1996.8 1060.7,2019.4 C1062.3,2042.0 1064.0,2065.4 1065.5,2083.2 C1067.0,2101.0 1068.4,2116.9 1069.5,2126.2 C1070.6,2135.5 1070.7,2140.1 1071.9,2139.0 C1073.1,2137.9 1075.1,2124.9 1076.7,2119.8 C1078.3,2114.8 1079.9,2111.3 1081.5,2108.7 C1083.1,2106.0 1084.3,2103.6 1086.3,2103.9 C1088.3,2104.2 1091.2,2106.6 1093.4,2110.3 C1095.7,2114.0 1098.0,2121.1 1099.8,2126.2 C1101.6,2131.2 1102.9,2142.2 1104.5,2140.6 C1106.1,2139.0 1107.7,2123.1 1109.3,2116.7 C1110.9,2110.3 1112.5,2105.5 1114.1,2102.3 C1115.7,2099.1 1117.4,2096.7 1118.9,2097.5 C1120.4,2098.3 1121.6,2101.5 1122.9,2107.1 C1124.2,2112.7 1125.4,2123.6 1126.9,2131.0 C1128.4,2138.4 1130.1,2146.6 1131.7,2151.7 C1133.3,2156.8 1135.1,2157.3 1136.4,2161.3 C1137.7,2165.3 1138.4,2171.4 1139.6,2175.7 C1140.8,2179.9 1141.9,2186.0 1143.6,2186.8 C1145.3,2187.6 1148.3,2179.6 1150.0,2180.4 C1151.7,2181.2 1152.3,2187.6 1154.0,2191.6 C1155.7,2195.6 1155.9,2202.3 1160.4,2204.4 L1162.4,2204.4 L1164.9,2204.4 L1167.8,2204.4 L1170.8,2204.4 L1173.8,2204.4 L1176.7,2204.4 L1179.1,2204.4 L1181.1,2204.4 C1185.5,2201.5 1184.7,2194.0 1186.7,2186.8 C1188.7,2179.6 1190.8,2163.4 1193.0,2161.3 C1195.2,2159.2 1197.9,2174.1 1200.2,2174.1 C1202.5,2174.1 1204.5,2160.2 1206.6,2161.3 C1208.7,2162.4 1211.1,2174.3 1213.0,2180.4 C1214.9,2186.5 1215.4,2197.7 1217.8,2198.0 C1220.2,2198.3 1224.4,2182.5 1227.3,2182.0 C1230.2,2181.5 1233.2,2198.0 1235.3,2194.8 C1237.4,2191.6 1238.6,2174.9 1240.1,2162.9 C1241.6,2150.9 1242.6,2133.6 1244.1,2123.0 C1245.6,2112.4 1247.3,2100.2 1248.9,2099.1 C1250.5,2098.0 1252.1,2111.9 1253.6,2116.7 C1255.0,2121.5 1256.3,2128.6 1257.6,2127.8 C1258.9,2127.0 1260.1,2117.0 1261.6,2111.9 C1263.1,2106.8 1264.8,2106.3 1266.4,2097.5 C1268.0,2088.7 1269.5,2073.7 1271.1,2059.3 C1272.7,2045.0 1274.3,2022.0 1275.9,2011.4 C1277.5,2000.8 1279.1,1995.5 1280.7,1995.5 C1282.3,1995.5 1284.0,2000.8 1285.5,2011.4 C1287.0,2022.0 1288.0,2044.7 1289.5,2059.3 C1291.0,2073.9 1292.7,2089.8 1294.3,2099.1 C1295.9,2108.4 1297.4,2113.8 1299.0,2115.1 C1300.6,2116.4 1302.3,2106.3 1303.8,2107.1 C1305.3,2107.9 1306.5,2115.8 1307.8,2119.8 C1309.1,2123.8 1310.5,2135.8 1311.8,2131.0 C1313.1,2126.2 1314.7,2103.0 1315.8,2091.1 C1316.9,2079.2 1317.3,2066.2 1318.2,2059.3 C1319.1,2052.4 1319.9,2048.6 1321.4,2049.7 C1322.9,2050.8 1325.4,2068.0 1327.0,2065.6 C1328.6,2063.2 1329.7,2045.7 1330.9,2035.3 C1332.1,2024.9 1332.9,2011.6 1334.1,2003.4 C1335.3,1995.2 1336.6,1985.1 1338.1,1985.9 C1339.6,1986.7 1341.3,2002.4 1342.9,2008.2 C1344.5,2014.0 1346.1,2021.8 1347.7,2021.0 C1349.3,2020.2 1351.2,2014.3 1352.5,2003.4 C1353.8,1992.5 1354.2,1969.5 1355.7,1955.6 C1357.2,1941.6 1359.5,1922.3 1361.2,1919.7 C1362.9,1917.1 1364.5,1932.4 1366.0,1939.7 C1367.5,1947.0 1368.5,1957.0 1370.0,1963.6 C1371.5,1970.2 1373.5,1970.2 1374.8,1979.5 C1376.1,1988.8 1376.8,2008.5 1378.0,2019.4 C1379.2,2030.3 1380.5,2040.9 1382.0,2044.9 C1383.5,2048.9 1385.2,2040.9 1386.7,2043.3 C1388.2,2045.7 1389.4,2052.7 1390.7,2059.3 C1392.0,2066.0 1393.5,2078.1 1394.7,2083.2 C1395.9,2088.2 1396.6,2093.6 1397.9,2089.6 C1399.2,2085.6 1401.1,2069.4 1402.7,2059.3 C1404.3,2049.2 1406.2,2030.3 1407.5,2029.0 C1408.8,2027.7 1409.6,2037.5 1410.7,2051.3 C1411.8,2065.1 1413.4,2101.8 1413.9,2111.9" fill="none" stroke="#2a2a2a" stroke-width="3.2" stroke-linejoin="round" stroke-linecap="round"/>
<rect x="924.4" y="1840.7" width="495.1" height="367.6" fill="none" stroke="#000" stroke-width="4.0"/>
<line x1="912.9" y1="2203.6" x2="922.9" y2="2203.6" stroke="#6a6a6a" stroke-width="2.2"/>
<line x1="918.9" y1="2191.0" x2="922.9" y2="2191.0" stroke="#6a6a6a" stroke-width="2.2"/>
<line x1="918.9" y1="2178.5" x2="922.9" y2="2178.5" stroke="#6a6a6a" stroke-width="2.2"/>
<line x1="918.9" y1="2165.9" x2="922.9" y2="2165.9" stroke="#6a6a6a" stroke-width="2.2"/>
<line x1="912.9" y1="2153.3" x2="922.9" y2="2153.3" stroke="#6a6a6a" stroke-width="2.2"/>
<line x1="918.9" y1="2140.8" x2="922.9" y2="2140.8" stroke="#6a6a6a" stroke-width="2.2"/>
<line x1="918.9" y1="2128.2" x2="922.9" y2="2128.2" stroke="#6a6a6a" stroke-width="2.2"/>
<line x1="918.9" y1="2115.6" x2="922.9" y2="2115.6" stroke="#6a6a6a" stroke-width="2.2"/>
<line x1="912.9" y1="2103.0" x2="922.9" y2="2103.0" stroke="#6a6a6a" stroke-width="2.2"/>
<line x1="918.9" y1="2090.5" x2="922.9" y2="2090.5" stroke="#6a6a6a" stroke-width="2.2"/>
<line x1="918.9" y1="2077.9" x2="922.9" y2="2077.9" stroke="#6a6a6a" stroke-width="2.2"/>
<line x1="918.9" y1="2065.3" x2="922.9" y2="2065.3" stroke="#6a6a6a" stroke-width="2.2"/>
<line x1="912.9" y1="2052.8" x2="922.9" y2="2052.8" stroke="#6a6a6a" stroke-width="2.2"/>
<line x1="918.9" y1="2040.2" x2="922.9" y2="2040.2" stroke="#6a6a6a" stroke-width="2.2"/>
<line x1="918.9" y1="2027.6" x2="922.9" y2="2027.6" stroke="#6a6a6a" stroke-width="2.2"/>
<line x1="918.9" y1="2015.0" x2="922.9" y2="2015.0" stroke="#6a6a6a" stroke-width="2.2"/>
<line x1="912.9" y1="2002.5" x2="922.9" y2="2002.5" stroke="#6a6a6a" stroke-width="2.2"/>
<line x1="918.9" y1="1989.9" x2="922.9" y2="1989.9" stroke="#6a6a6a" stroke-width="2.2"/>
<line x1="918.9" y1="1977.3" x2="922.9" y2="1977.3" stroke="#6a6a6a" stroke-width="2.2"/>
<line x1="918.9" y1="1964.8" x2="922.9" y2="1964.8" stroke="#6a6a6a" stroke-width="2.2"/>
<line x1="912.9" y1="1952.2" x2="922.9" y2="1952.2" stroke="#6a6a6a" stroke-width="2.2"/>
<line x1="918.9" y1="1939.6" x2="922.9" y2="1939.6" stroke="#6a6a6a" stroke-width="2.2"/>
<line x1="918.9" y1="1927.1" x2="922.9" y2="1927.1" stroke="#6a6a6a" stroke-width="2.2"/>
<line x1="918.9" y1="1914.5" x2="922.9" y2="1914.5" stroke="#6a6a6a" stroke-width="2.2"/>
<line x1="912.9" y1="1901.9" x2="922.9" y2="1901.9" stroke="#6a6a6a" stroke-width="2.2"/>
<line x1="918.9" y1="1889.3" x2="922.9" y2="1889.3" stroke="#6a6a6a" stroke-width="2.2"/>
<line x1="918.9" y1="1876.8" x2="922.9" y2="1876.8" stroke="#6a6a6a" stroke-width="2.2"/>
<line x1="918.9" y1="1864.2" x2="922.9" y2="1864.2" stroke="#6a6a6a" stroke-width="2.2"/>
<line x1="912.9" y1="1851.6" x2="922.9" y2="1851.6" stroke="#6a6a6a" stroke-width="2.2"/>
<text x="896.0" y="2208.8" text-anchor="middle" font-size="31.0">0</text>
<text x="896.0" y="2159.1" text-anchor="middle" font-size="31.0">2</text>
<text x="896.0" y="2109.4" text-anchor="middle" font-size="31.0">4</text>
<text x="896.0" y="2059.7" text-anchor="middle" font-size="31.0">6</text>
<text x="896.0" y="2010.1" text-anchor="middle" font-size="31.0">8</text>
<text x="892.5" y="1960.4" text-anchor="middle" font-size="31.0">10</text>
<text x="892.5" y="1910.7" text-anchor="middle" font-size="31.0">12</text>
<text x="892.5" y="1861.0" text-anchor="middle" font-size="31.0">14</text>
<line x1="931.7" y1="2209.8" x2="931.7" y2="2219.3" stroke="#777" stroke-width="2"/>
<line x1="953.8" y1="2209.8" x2="953.8" y2="2214.8" stroke="#777" stroke-width="2"/>
<line x1="976.0" y1="2209.8" x2="976.0" y2="2214.8" stroke="#777" stroke-width="2"/>
<line x1="998.1" y1="2209.8" x2="998.1" y2="2214.8" stroke="#777" stroke-width="2"/>
<line x1="1020.3" y1="2209.8" x2="1020.3" y2="2214.8" stroke="#777" stroke-width="2"/>
<line x1="1042.4" y1="2209.8" x2="1042.4" y2="2219.3" stroke="#777" stroke-width="2"/>
<line x1="1064.5" y1="2209.8" x2="1064.5" y2="2214.8" stroke="#777" stroke-width="2"/>
<line x1="1086.7" y1="2209.8" x2="1086.7" y2="2214.8" stroke="#777" stroke-width="2"/>
<line x1="1108.8" y1="2209.8" x2="1108.8" y2="2214.8" stroke="#777" stroke-width="2"/>
<line x1="1131.0" y1="2209.8" x2="1131.0" y2="2214.8" stroke="#777" stroke-width="2"/>
<line x1="1153.1" y1="2209.8" x2="1153.1" y2="2219.3" stroke="#777" stroke-width="2"/>
<line x1="1175.2" y1="2209.8" x2="1175.2" y2="2214.8" stroke="#777" stroke-width="2"/>
<line x1="1197.4" y1="2209.8" x2="1197.4" y2="2214.8" stroke="#777" stroke-width="2"/>
<line x1="1219.5" y1="2209.8" x2="1219.5" y2="2214.8" stroke="#777" stroke-width="2"/>
<line x1="1241.7" y1="2209.8" x2="1241.7" y2="2214.8" stroke="#777" stroke-width="2"/>
<line x1="1263.8" y1="2209.8" x2="1263.8" y2="2219.3" stroke="#777" stroke-width="2"/>
<line x1="1285.9" y1="2209.8" x2="1285.9" y2="2214.8" stroke="#777" stroke-width="2"/>
<line x1="1308.1" y1="2209.8" x2="1308.1" y2="2214.8" stroke="#777" stroke-width="2"/>
<line x1="1330.2" y1="2209.8" x2="1330.2" y2="2214.8" stroke="#777" stroke-width="2"/>
<line x1="1352.4" y1="2209.8" x2="1352.4" y2="2214.8" stroke="#777" stroke-width="2"/>
<line x1="1374.5" y1="2209.8" x2="1374.5" y2="2219.3" stroke="#777" stroke-width="2"/>
<line x1="1396.6" y1="2209.8" x2="1396.6" y2="2214.8" stroke="#777" stroke-width="2"/>
<text x="933.3" y="2248.0" text-anchor="middle" font-size="32.0">-15</text>
<text x="1039.5" y="2249.0" text-anchor="middle" font-size="32.0">-10</text>
<text x="1150.9" y="2250.7" text-anchor="middle" font-size="32.0">-5</text>
<text x="1265.2" y="2249.3" text-anchor="middle" font-size="32.0">0</text>
<text x="1374.4" y="2249.0" text-anchor="middle" font-size="32.0">5</text>
<text x="1109.8" y="2276.6" font-size="32.0" textLength="155.1" lengthAdjust="spacingAndGlyphs">Energy (<tspan font-style="italic">eV</tspan>)</text>
<text transform="translate(861.9,2119.4) rotate(-90)" font-size="33.0" textLength="228.2" lengthAdjust="spacingAndGlyphs">Relative Intensity</text>
<line x1="1422.2" y1="1856.0" x2="1433.1" y2="1856.0" stroke="#e8202a" stroke-width="4"/>
<line x1="1422.2" y1="1888.5" x2="1433.1" y2="1888.5" stroke="#1aa03a" stroke-width="4"/>
<line x1="1422.2" y1="1918.4" x2="1433.1" y2="1918.4" stroke="#000" stroke-width="4"/>
<text x="1441.2" y="1861.4" font-size="31.0" textLength="122.0" lengthAdjust="spacingAndGlyphs">Acceptor</text>
<text x="1440.7" y="1896.1" font-size="31.0" textLength="82.9" lengthAdjust="spacingAndGlyphs">Donor</text>
<text x="1440.7" y="1929.2" font-size="31.0" textLength="68.3" lengthAdjust="spacingAndGlyphs">Total</text>
</g>
<text x="1165.0" y="2357.8" font-size="42.0" textLength="87.3" lengthAdjust="spacingAndGlyphs" class="cap">MD8</text>
</svg>
</body></html>
